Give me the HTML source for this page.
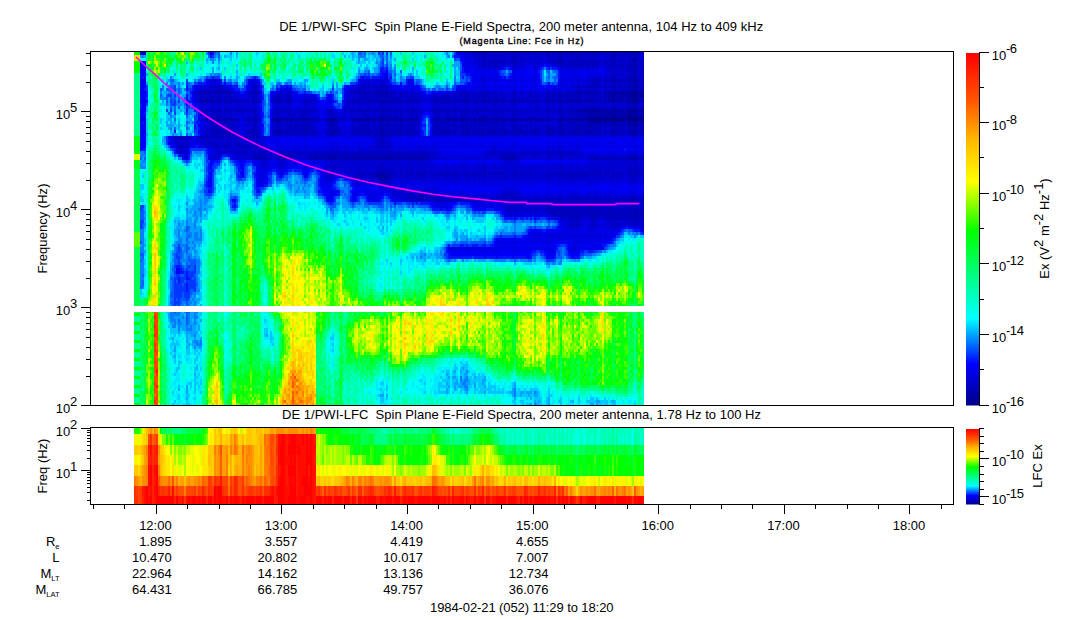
<!DOCTYPE html>
<html lang="en"><head><meta charset="utf-8"><title>DE 1/PWI Spectra</title><style>html,body{margin:0;padding:0;background:#fff}body{width:1083px;height:620px;overflow:hidden;font-family:"Liberation Sans",sans-serif}svg{display:block}</style></head><body><svg width="1083" height="620" viewBox="0 0 1083 620"><defs><linearGradient id="cb" x1="0" y1="1" x2="0" y2="0"><stop offset="0.0000" stop-color="#000089"/><stop offset="0.1176" stop-color="#0000ff"/><stop offset="0.2471" stop-color="#00ffff"/><stop offset="0.4941" stop-color="#00ff00"/><stop offset="0.6353" stop-color="#ffff00"/><stop offset="0.7529" stop-color="#ffb900"/><stop offset="0.8667" stop-color="#ff5400"/><stop offset="1.0000" stop-color="#ff0000"/></linearGradient></defs><rect width="1083" height="620" fill="#fff"/><g fill="none" stroke-width="2" shape-rendering="crispEdges"><path stroke="#000089" d="M591 118v3M593 118v3M595 118v3M597 118v3M599 118v3M601 118v3M605 118v3M607 118v3M609 118v3M611 118v3M613 118v3M615 118v3M617 118v3M619 118v3M621 118v3M623 118v3M629 115v6M631 118v3M633 118v3M635 100v3M635 109v3M635 118v3M637 118v3M639 118v3M641 118v3M643 118v3"/>
<path stroke="#00009b" d="M277 118v3M279 118v3M291 118v3M305 118v3M331 118v3M333 118v3M335 118v3M361 118v3M367 118v3M369 118v3M381 118v3M381 175v3M383 118v3M383 175v3M387 118v3M395 118v3M401 118v3M447 118v3M449 118v3M455 118v3M461 118v3M463 118v3M475 118v3M479 118v3M483 118v3M485 118v3M515 118v3M539 118v3M561 118v3M573 118v3M577 118v3M579 118v3M583 118v3M587 109v3M587 118v3M589 118v3M591 109v3M593 109v3M597 109v3M597 115v3M599 109v3M603 118v3M607 109v3M611 91v3M613 91v12M613 109v9M615 94v3M615 109v3M615 115v3M621 91v3M623 91v3M625 118v3M627 118v3M629 91v6M629 100v3M629 109v6M629 121v3M631 91v6M631 100v3M631 109v3M631 115v3M633 91v12M633 109v3M633 115v3M635 58v3M635 79v3M635 85v3M635 91v9M635 112v6M635 121v6M635 130v3M637 91v6M637 100v3M637 109v3M637 115v3M637 121v3M641 94v3M643 91v6M643 109v3M643 115v3"/>
<path stroke="#0000ad" d="M201 91v3M203 100v3M205 91v3M205 97v6M207 100v3M207 118v3M211 100v3M211 118v3M213 91v3M213 100v3M213 118v3M213 130v3M215 118v3M217 91v3M217 118v3M217 130v3M219 91v6M219 100v3M219 109v3M219 118v3M219 130v3M221 100v3M221 118v3M223 118v3M225 91v3M225 100v3M225 118v3M225 130v3M227 118v3M229 91v3M229 118v3M231 100v3M231 118v3M231 130v3M233 118v3M237 118v3M249 118v3M253 100v3M253 118v3M253 130v3M255 91v3M255 118v3M257 91v3M257 100v3M257 118v3M257 130v3M257 157v3M261 157v3M263 157v3M265 157v3M273 118v3M275 118v3M275 130v3M277 100v3M277 109v3M277 130v6M279 100v3M279 130v3M281 100v3M281 118v3M281 130v3M283 118v3M283 157v3M285 118v3M287 100v3M287 118v3M287 130v3M287 157v3M289 100v3M289 118v3M289 130v3M289 157v3M291 157v3M293 118v3M295 118v3M297 118v3M299 118v3M301 118v3M303 118v3M305 100v3M305 130v3M307 118v3M307 130v3M309 118v3M311 118v3M313 118v3M315 118v3M315 157v3M317 157v3M319 157v3M323 157v3M327 118v3M327 157v3M329 118v3M329 157v3M331 121v3M331 130v6M331 157v3M333 124v3M333 130v6M333 151v3M333 157v3M335 130v3M335 157v3M337 118v3M337 130v3M337 157v3M339 118v3M339 157v3M345 157v3M349 157v3M351 118v3M351 157v3M353 100v3M353 118v3M353 157v3M355 91v3M355 100v3M355 118v3M355 157v3M357 118v3M357 157v3M359 91v3M359 100v3M359 109v3M359 118v3M359 130v3M359 157v3M361 157v3M363 118v3M363 130v3M363 157v3M365 91v3M365 118v3M365 157v3M367 109v3M367 157v3M369 91v3M369 100v3M369 109v3M369 133v3M369 157v3M371 100v3M371 118v3M371 130v3M371 157v3M373 118v3M373 157v3M375 100v3M375 118v3M375 157v3M377 94v3M377 100v3M377 109v3M377 118v3M377 130v3M377 157v3M377 172v6M379 91v3M379 118v3M379 157v3M379 172v6M381 91v3M381 100v3M381 115v3M381 124v12M381 157v3M381 172v3M381 178v3M383 91v3M383 100v3M383 109v3M383 130v6M383 157v3M383 172v3M383 178v3M385 91v3M385 100v3M385 118v3M385 157v3M385 172v9M387 91v6M387 100v3M387 109v3M387 121v6M387 130v3M387 157v3M387 172v9M389 118v3M389 157v3M389 175v3M391 100v3M391 118v3M391 130v3M391 151v3M391 157v3M391 175v3M393 118v3M393 157v3M395 157v3M397 118v3M397 157v3M399 118v3M399 157v3M401 94v3M401 100v3M401 124v3M401 130v3M401 157v3M403 118v3M403 157v3M405 118v3M407 100v3M407 118v3M407 157v3M409 100v3M409 118v3M409 157v3M411 100v3M411 118v3M411 133v3M411 157v3M413 100v3M413 109v3M413 118v3M413 157v3M415 118v3M415 157v3M417 100v3M417 118v3M417 157v3M419 100v3M419 157v3M421 157v3M423 157v3M425 157v3M435 100v3M435 118v3M437 100v3M437 109v3M437 118v3M439 109v3M439 115v6M441 118v3M441 130v3M443 118v3M443 130v3M445 118v3M447 100v3M447 130v3M449 100v3M449 130v3M451 118v3M453 118v3M455 100v3M455 109v3M455 130v3M457 118v3M461 100v3M463 130v3M465 100v3M465 118v3M467 94v3M467 100v3M467 118v3M467 124v12M469 100v3M469 118v3M471 118v3M471 130v3M473 118v3M475 52v3M475 100v3M475 109v3M477 100v3M479 52v3M479 130v3M481 118v3M481 130v3M483 52v3M483 100v3M483 130v6M485 52v3M485 97v6M485 109v3M487 118v3M489 100v3M489 118v3M489 130v3M491 118v3M493 100v3M493 118v3M493 130v3M495 100v3M495 118v3M495 130v3M497 100v3M497 118v3M499 100v3M499 118v3M501 118v3M503 100v3M503 118v3M503 130v3M505 118v3M505 130v3M505 157v3M507 118v3M507 157v3M509 118v3M509 157v3M511 100v3M511 118v3M511 157v3M513 100v3M513 118v3M513 157v3M515 52v3M515 61v3M515 94v3M515 100v3M515 130v3M515 157v3M517 118v3M519 118v3M521 118v3M521 130v3M523 100v3M523 118v3M525 118v3M527 118v3M529 118v3M531 118v3M533 118v3M535 52v3M535 100v3M535 118v3M535 130v3M537 100v3M537 118v3M541 118v3M543 118v3M545 118v3M547 52v3M547 100v3M547 118v3M547 130v3M549 52v3M549 100v3M549 109v3M549 118v3M549 127v9M553 100v3M553 130v3M555 100v3M559 52v3M559 61v3M559 100v3M559 109v3M559 118v3M559 130v3M561 52v3M561 58v6M561 94v9M561 109v3M561 115v3M561 121v6M561 130v6M561 214v3M563 118v3M563 130v3M565 100v3M565 118v3M567 100v3M567 118v3M569 100v3M569 118v3M569 130v3M571 52v3M571 100v3M571 118v3M571 214v3M573 52v3M573 97v6M573 130v3M573 214v3M575 100v3M575 118v3M577 91v3M577 100v3M577 109v3M577 130v3M577 214v3M579 52v3M579 85v3M579 91v12M579 109v3M579 124v12M581 91v3M581 100v3M581 109v3M581 118v3M583 109v3M585 91v3M585 100v3M585 109v6M585 118v3M587 52v3M587 91v3M587 100v3M587 115v3M587 130v3M589 52v3M589 85v3M589 91v3M589 109v9M589 121v3M589 130v3M591 91v3M591 97v6M591 112v6M591 121v6M591 130v3M593 52v3M593 79v3M593 91v3M593 100v3M593 112v6M593 121v3M593 130v3M593 214v3M595 100v3M595 109v9M595 121v3M595 157v3M597 52v3M597 91v3M597 112v3M597 121v6M597 214v3M599 112v6M599 121v3M599 130v3M601 100v3M601 109v9M601 121v3M603 109v3M603 115v3M605 52v3M605 79v3M605 91v6M605 100v3M605 109v9M605 121v6M605 130v3M605 157v3M607 91v3M607 112v6M609 91v12M609 109v9M611 94v3M611 100v3M611 109v9M611 121v3M611 130v3M613 52v3M613 61v3M613 79v3M613 85v3M613 121v6M613 130v6M613 214v3M615 52v3M615 79v3M615 85v3M615 91v3M615 97v6M615 112v3M615 121v6M617 91v6M617 100v3M617 109v3M617 115v3M617 121v3M617 130v3M619 52v3M619 91v12M619 109v9M619 121v3M621 79v3M621 94v9M621 109v9M623 94v9M623 109v9M623 124v3M625 91v6M625 109v9M625 121v3M627 79v3M627 91v12M627 109v9M629 52v3M629 58v3M629 64v3M629 76v6M629 85v3M629 97v3M629 106v3M629 124v9M629 157v3M629 214v3M631 52v3M631 79v3M631 97v3M631 112v3M631 121v6M631 130v3M631 157v3M633 52v3M633 58v3M633 64v3M633 79v3M633 85v3M633 112v3M633 121v6M633 130v6M633 157v3M633 199v3M633 214v3M635 52v3M635 61v18M635 82v3M635 88v3M635 106v3M635 127v3M635 133v3M635 157v3M635 199v3M635 208v9M637 52v3M637 79v3M637 85v3M637 97v3M637 112v3M637 124v3M637 130v3M637 157v3M637 214v3M639 91v12M639 109v3M641 91v3M641 100v3M641 109v3M641 115v3M643 85v3M643 97v6M643 112v3M643 121v12M643 157v3M643 214v3"/>
<path stroke="#0000c0" d="M143 52v3M145 52v3M175 136v3M177 136v3M179 136v3M179 142v6M179 151v3M181 136v3M181 145v3M181 151v3M183 136v3M183 142v6M183 151v3M185 136v3M185 145v3M185 151v3M187 136v3M187 142v6M197 91v3M197 100v3M199 91v3M199 100v3M201 94v9M201 109v3M201 136v3M203 91v3M203 97v3M203 109v3M203 136v3M205 94v3M205 109v3M205 118v3M205 136v3M205 142v3M207 91v9M207 109v3M207 130v9M207 142v3M209 91v3M209 97v6M209 109v3M209 118v3M209 136v3M209 142v3M211 85v3M211 91v9M211 109v3M211 121v18M213 94v6M213 109v3M213 115v3M213 124v6M213 133v6M213 142v3M215 85v3M215 91v6M215 100v3M215 109v6M215 121v18M215 142v6M217 85v3M217 97v6M217 109v3M217 115v3M217 124v6M217 133v6M217 142v6M217 151v3M219 85v6M219 97v3M219 112v6M219 121v9M219 133v6M219 145v3M219 151v3M221 85v15M221 109v3M221 115v3M221 124v15M221 142v3M221 151v3M223 91v3M223 130v9M223 145v3M225 94v6M225 109v3M225 115v3M225 121v9M225 133v6M225 145v3M225 151v3M227 91v12M227 109v3M227 121v3M227 130v6M227 142v6M227 151v3M229 94v9M229 109v3M229 121v3M229 130v9M229 145v3M231 91v9M231 109v9M231 121v9M231 133v6M231 142v6M231 151v3M233 100v3M233 124v3M233 130v3M235 100v3M235 109v3M235 118v3M235 136v3M235 151v3M237 97v6M237 109v3M237 130v3M237 136v3M237 142v6M237 151v3M239 100v3M239 109v3M239 118v3M239 136v3M239 142v6M239 151v3M241 100v3M241 109v3M241 136v3M241 145v3M241 151v3M243 100v3M243 109v3M243 136v3M243 145v3M243 151v3M245 100v3M245 109v3M245 118v3M245 136v3M245 145v3M245 151v3M247 100v3M247 109v3M247 118v3M247 130v9M247 145v3M247 151v3M249 91v3M249 100v3M249 109v3M249 121v3M249 130v3M249 136v3M249 145v3M249 151v3M251 91v3M251 118v3M251 130v3M251 136v3M253 85v3M253 91v9M253 109v6M253 124v6M253 133v6M253 142v6M253 151v3M253 157v3M255 85v3M255 97v6M255 109v9M255 121v18M255 142v6M255 151v9M257 85v3M257 94v6M257 109v3M257 115v3M257 121v6M257 133v6M257 142v6M257 151v6M259 100v3M259 118v3M259 136v3M259 145v3M259 151v9M261 151v6M263 151v6M265 151v6M267 151v9M271 157v3M273 100v3M273 121v3M273 130v3M275 100v3M277 94v6M277 106v3M277 112v6M277 121v9M277 157v3M279 94v6M279 109v6M279 121v9M279 133v3M279 151v3M279 157v3M281 91v9M281 109v3M281 124v6M281 133v3M281 151v9M283 100v3M283 109v3M283 121v3M283 130v3M283 151v6M285 100v3M285 109v3M285 130v6M285 151v9M287 94v6M287 109v3M287 115v3M287 121v9M287 133v3M287 151v6M289 91v9M289 109v9M289 124v6M289 133v3M289 151v6M291 94v9M291 109v3M291 115v3M291 121v15M291 151v6M293 130v6M293 151v3M293 157v3M295 112v3M295 121v15M295 151v6M297 109v3M297 121v15M297 151v3M299 124v3M299 130v6M299 151v3M301 109v3M301 115v3M301 124v12M301 151v3M303 100v3M303 109v9M303 121v15M303 151v3M305 109v9M305 121v9M305 133v3M305 151v3M307 100v3M307 109v6M307 121v9M307 133v3M307 151v3M307 157v3M309 100v3M309 109v3M309 121v15M309 151v9M311 100v3M311 109v3M311 124v9M311 151v9M313 100v3M313 109v3M313 127v9M313 151v9M315 100v3M315 109v3M315 130v6M315 151v6M317 118v3M317 130v3M317 151v6M319 118v3M319 151v6M321 151v9M323 151v6M325 118v3M325 151v9M327 109v3M327 130v6M327 151v6M329 109v6M329 121v15M329 151v6M329 172v3M331 109v3M331 115v3M331 124v6M331 151v6M331 172v3M333 109v9M333 121v3M333 127v3M333 154v3M333 163v12M335 115v3M335 121v9M335 133v3M335 151v6M337 121v9M337 133v3M337 151v6M337 166v3M339 127v9M339 151v6M341 118v3M341 151v9M343 118v3M343 151v9M345 109v3M345 118v3M345 151v6M347 100v3M347 109v3M347 151v9M349 100v3M349 151v6M351 91v3M351 100v3M351 109v3M351 151v6M353 91v3M353 97v3M353 109v6M353 121v15M353 151v6M355 109v3M355 127v9M355 151v6M357 91v3M357 100v3M357 109v3M357 130v6M357 151v6M357 172v6M359 85v6M359 94v6M359 115v3M359 121v9M359 133v3M359 151v6M359 169v9M361 85v3M361 91v12M361 109v3M361 121v15M361 151v6M361 172v6M363 85v3M363 91v12M363 109v3M363 124v6M363 133v3M363 151v6M363 172v3M365 85v6M365 94v9M365 109v9M365 121v15M365 151v6M365 172v6M367 91v12M367 115v3M367 121v15M367 151v6M367 169v3M369 85v6M369 94v6M369 115v3M369 121v12M369 151v6M369 172v3M371 91v3M371 97v3M371 109v3M371 133v3M371 151v6M371 172v6M373 85v3M373 91v12M373 109v3M373 115v3M373 121v6M373 130v3M373 151v6M373 172v6M375 85v3M375 91v6M375 109v6M375 121v3M375 127v9M375 151v6M375 172v6M377 85v9M377 97v3M377 115v3M377 127v3M377 133v6M377 145v3M377 151v6M377 166v6M377 178v3M379 85v3M379 94v9M379 109v3M379 115v3M379 124v15M379 145v3M379 151v6M379 169v3M379 178v3M381 79v3M381 85v6M381 94v6M381 103v12M381 121v3M381 136v12M381 151v6M381 163v9M381 181v3M383 85v6M383 94v6M383 103v3M383 112v6M383 121v9M383 136v12M383 151v6M383 163v9M383 181v3M385 85v3M385 94v6M385 109v3M385 115v3M385 124v15M385 145v3M385 151v6M385 169v3M385 181v3M387 85v6M387 97v3M387 106v3M387 112v6M387 127v3M387 133v6M387 142v6M387 151v6M387 169v3M387 181v3M389 91v12M389 109v3M389 115v3M389 121v15M389 151v6M389 169v6M389 178v3M391 91v9M391 106v12M391 121v9M391 133v3M391 154v3M391 169v6M391 178v3M393 91v3M393 97v6M393 109v3M393 115v3M393 124v3M393 130v6M393 151v6M393 169v9M395 91v12M395 106v12M395 121v15M395 151v6M395 163v3M395 172v6M397 97v6M397 109v3M397 115v3M397 121v3M397 127v9M397 151v6M397 172v3M399 97v6M399 109v3M399 124v12M399 151v6M401 91v3M401 97v3M401 106v12M401 121v3M401 127v3M401 133v3M401 151v6M401 169v9M401 190v3M403 91v3M403 100v3M403 109v3M403 124v12M403 151v6M403 172v3M405 100v3M405 130v3M405 151v9M407 94v3M407 109v3M407 121v3M407 127v9M407 151v6M407 169v9M409 94v6M409 109v3M409 121v15M409 151v6M409 166v3M409 172v3M409 193v6M411 94v6M411 109v9M411 124v9M411 151v6M411 166v9M411 193v9M413 91v9M413 112v6M413 121v15M413 151v6M413 172v6M413 193v9M415 94v9M415 109v3M415 121v6M415 130v6M415 151v6M415 196v3M417 97v3M417 109v9M417 121v6M417 130v3M417 151v6M417 163v3M417 172v6M417 193v9M419 109v3M419 118v3M419 151v6M419 172v6M419 193v9M421 100v3M421 109v3M421 151v6M421 169v6M421 193v9M423 151v6M423 169v9M423 190v12M425 151v6M425 169v9M425 190v12M427 151v9M427 193v6M429 151v9M429 172v3M429 193v9M431 151v3M431 157v3M431 172v3M431 193v6M433 100v3M433 109v3M433 118v3M433 130v3M433 151v3M433 157v3M433 193v9M435 97v3M435 109v9M435 121v15M435 151v3M435 172v3M435 193v9M437 97v3M437 112v3M437 121v15M437 151v3M437 172v3M437 193v9M439 97v6M439 124v12M439 172v6M439 196v6M441 97v6M441 109v3M441 121v9M441 133v3M441 172v3M441 196v6M443 94v9M443 109v3M443 121v9M443 133v3M443 172v3M443 199v3M445 94v9M445 109v3M445 121v15M445 172v3M445 199v3M447 94v6M447 109v9M447 121v9M447 133v3M447 169v9M447 199v3M449 94v6M449 109v9M449 121v9M449 133v3M449 172v6M449 196v6M451 100v3M451 109v3M451 130v3M451 172v3M451 199v3M453 94v3M453 100v3M453 109v3M453 115v3M453 121v6M453 130v6M453 172v6M453 199v3M455 94v6M455 106v3M455 112v6M455 121v9M455 133v3M455 169v9M455 199v3M457 91v3M457 97v6M457 109v3M457 115v3M457 124v9M457 172v6M457 199v3M459 100v3M459 118v3M461 91v9M461 109v9M461 121v15M461 172v3M461 199v3M463 91v12M463 109v9M463 121v9M463 133v3M463 172v3M463 196v6M465 91v9M465 109v9M465 121v15M465 172v6M465 196v6M467 52v3M467 91v3M467 97v3M467 106v12M467 121v3M467 169v9M467 196v6M469 91v9M469 109v3M469 115v3M469 124v12M469 175v3M469 199v3M471 97v6M471 109v3M471 121v6M471 133v3M471 172v3M471 196v6M473 52v3M473 94v3M473 100v3M473 109v9M473 124v12M473 172v3M473 199v3M475 94v6M475 121v15M475 169v9M475 196v6M477 52v3M477 91v3M477 97v3M477 109v6M477 118v6M477 127v9M477 172v3M477 199v3M479 58v3M479 94v9M479 109v3M479 121v6M479 133v3M479 172v6M479 199v3M481 52v3M481 91v12M481 109v3M481 115v3M481 121v6M481 133v3M481 169v6M481 199v3M483 58v9M483 91v9M483 109v3M483 115v3M483 121v9M483 172v6M483 199v3M485 55v12M485 91v6M485 115v3M485 121v15M485 166v12M485 196v6M487 52v3M487 61v3M487 91v12M487 109v3M487 115v3M487 124v12M487 199v3M489 52v3M489 61v6M489 91v3M489 97v3M489 109v3M489 121v9M489 133v3M489 151v3M489 172v3M489 199v3M491 52v3M491 58v6M491 91v12M491 109v6M491 121v3M491 127v9M491 151v3M491 172v3M491 199v3M493 52v3M493 58v6M493 109v3M493 115v3M493 121v9M493 133v3M493 151v3M493 172v6M493 199v3M495 52v3M495 58v9M495 91v9M495 109v3M495 115v3M495 121v3M495 127v3M495 133v3M495 151v3M495 172v3M495 199v3M497 52v3M497 58v9M497 91v9M497 109v9M497 121v15M497 151v3M497 172v3M497 196v6M499 52v3M499 58v3M499 109v3M499 121v3M499 130v6M499 151v3M499 172v6M499 199v3M501 52v3M501 61v3M501 94v9M501 109v3M501 124v12M501 151v3M501 157v3M501 172v3M501 199v3M503 52v3M503 58v6M503 97v3M503 109v3M503 115v3M503 121v9M503 133v3M503 151v9M503 172v3M503 193v9M505 52v3M505 61v3M505 94v9M505 109v3M505 115v3M505 121v9M505 133v3M505 151v6M505 172v6M505 193v9M507 52v3M507 100v3M507 109v3M507 130v6M507 151v6M507 193v9M509 52v3M509 100v3M509 109v3M509 130v3M509 151v6M509 193v9M509 208v3M511 52v3M511 58v3M511 124v3M511 130v6M511 151v6M511 193v9M511 205v3M513 52v12M513 91v3M513 97v3M513 109v9M513 121v15M513 151v6M513 172v6M513 193v9M513 205v3M515 55v6M515 64v3M515 91v3M515 97v3M515 103v3M515 109v9M515 121v9M515 133v3M515 151v6M515 169v9M515 193v9M515 205v6M517 52v3M517 58v3M517 100v3M517 109v3M517 124v12M517 151v3M517 157v3M517 172v3M517 196v6M519 52v3M519 97v6M519 109v3M519 127v9M519 157v3M519 196v6M521 52v3M521 58v3M521 91v12M521 109v3M521 124v6M521 151v3M521 172v6M521 199v3M521 205v3M523 52v3M523 58v3M523 97v3M523 109v3M523 124v3M523 130v6M523 151v3M523 172v6M523 199v3M525 52v3M525 100v3M525 109v3M525 130v3M525 151v3M525 199v3M527 52v3M527 97v6M527 109v3M527 124v12M527 151v3M527 172v3M527 199v3M529 52v3M529 94v3M529 100v3M529 130v3M529 151v3M529 199v3M531 52v3M531 91v12M531 109v3M531 115v3M531 121v15M531 151v3M531 172v6M531 199v3M531 208v3M533 52v3M533 100v3M533 130v3M533 151v3M535 58v3M535 91v9M535 109v3M535 115v3M535 121v9M535 133v3M535 151v6M535 169v6M535 196v6M535 208v3M537 52v3M537 94v6M537 109v3M537 127v9M537 151v3M537 196v6M539 52v3M539 100v3M539 109v3M539 130v6M539 151v3M539 199v3M541 52v3M541 100v3M541 130v3M541 151v3M541 199v3M543 52v3M543 199v3M545 100v3M545 130v3M545 151v3M545 199v3M547 91v9M547 106v6M547 124v6M547 133v3M547 151v3M547 172v6M547 196v6M547 205v6M549 55v9M549 91v9M549 112v6M549 124v3M549 151v9M549 172v6M549 196v6M549 205v9M551 52v3M551 94v9M551 109v3M551 118v3M551 127v9M551 151v3M551 172v3M551 199v3M551 208v9M553 52v12M553 91v9M553 109v3M553 118v3M553 127v3M553 133v3M553 151v3M553 172v6M553 199v3M553 208v9M555 52v3M555 58v6M555 91v9M555 109v3M555 118v3M555 127v9M555 151v3M555 172v3M555 196v6M555 205v12M557 52v3M557 61v3M557 94v3M557 100v3M557 109v3M557 118v3M557 130v3M557 151v3M557 172v3M557 199v3M557 208v9M559 55v6M559 91v9M559 112v3M559 121v9M559 133v3M559 151v3M559 172v6M559 196v6M559 205v12M561 55v3M561 64v3M561 91v3M561 103v6M561 112v3M561 127v3M561 151v9M561 166v12M561 196v6M561 205v9M563 52v3M563 61v6M563 91v12M563 109v3M563 115v3M563 124v6M563 133v3M563 151v3M563 169v9M563 199v3M563 205v12M565 52v3M565 61v3M565 94v3M565 109v6M565 124v3M565 130v6M565 151v3M565 172v6M565 199v3M565 208v9M567 52v9M567 64v3M567 91v9M567 109v3M567 121v15M567 151v3M567 172v6M567 199v3M567 208v9M569 52v3M569 58v9M569 91v9M569 109v6M569 121v6M569 133v3M569 151v3M569 172v6M569 199v3M569 208v12M571 61v3M571 91v9M571 106v12M571 121v15M571 151v3M571 169v9M571 196v6M571 205v9M571 217v3M571 223v3M573 55v12M573 91v6M573 106v12M573 121v9M573 133v3M573 151v3M573 172v9M573 196v6M573 205v9M573 217v9M575 52v3M575 58v9M575 85v3M575 91v9M575 109v9M575 121v15M575 151v3M575 172v6M575 196v6M575 208v12M575 223v3M577 52v15M577 85v3M577 94v6M577 112v6M577 121v9M577 133v3M577 151v3M577 172v6M577 196v6M577 205v9M577 217v9M579 55v12M579 88v3M579 106v3M579 112v6M579 121v3M579 151v3M579 169v9M579 196v6M579 205v15M579 223v3M581 52v3M581 58v9M581 94v6M581 112v6M581 121v15M581 172v6M581 196v6M581 208v12M583 52v3M583 58v9M583 85v3M583 91v3M583 97v6M583 112v6M583 121v15M583 172v6M583 199v3M583 211v6M585 52v3M585 61v6M585 85v3M585 94v3M585 115v3M585 124v12M585 172v6M585 199v3M585 208v9M587 58v9M587 85v3M587 94v6M587 106v3M587 112v3M587 121v9M587 133v3M587 172v6M587 196v6M587 205v12M589 58v9M589 79v3M589 88v3M589 94v9M589 106v3M589 124v6M589 133v3M589 157v3M589 172v3M589 196v6M589 205v12M591 52v3M591 58v9M591 85v3M591 94v3M591 106v3M591 127v3M591 133v3M591 157v3M591 169v6M591 199v3M591 205v15M593 55v12M593 82v6M593 94v6M593 106v3M593 124v6M593 133v3M593 157v3M593 169v9M593 199v3M593 205v9M593 217v9M595 52v3M595 58v9M595 79v21M595 106v3M595 124v12M595 172v3M595 196v6M595 205v15M595 223v3M597 58v9M597 79v9M597 94v9M597 106v3M597 127v9M597 157v3M597 169v9M597 196v6M597 208v6M597 217v3M599 52v3M599 61v3M599 79v3M599 85v3M599 91v3M599 97v6M599 106v3M599 124v6M599 133v3M599 157v3M599 169v6M599 199v3M599 208v9M601 52v3M601 79v3M601 85v3M601 91v9M601 124v3M601 130v6M601 157v3M601 169v9M601 199v3M601 205v12M603 52v3M603 100v3M603 112v3M603 121v3M603 157v3M603 199v3M603 211v6M605 58v6M605 82v9M605 97v3M605 106v3M605 127v3M605 133v3M605 169v6M605 196v6M605 205v15M607 52v3M607 61v3M607 79v3M607 94v9M607 121v6M607 130v3M607 157v3M607 172v3M607 199v3M607 208v12M609 52v3M609 58v3M609 64v6M609 79v3M609 85v3M609 121v6M609 130v3M609 157v3M609 169v6M609 199v3M609 205v15M611 52v3M611 58v12M611 73v9M611 85v3M611 97v3M611 124v3M611 133v3M611 157v3M611 175v3M611 196v6M611 208v12M611 223v3M613 55v6M613 64v6M613 73v6M613 82v3M613 106v3M613 127v3M613 157v3M613 163v3M613 169v9M613 196v6M613 205v9M613 217v9M615 55v15M615 73v6M615 82v3M615 88v3M615 106v3M615 127v9M615 157v3M615 172v6M615 199v3M615 208v12M615 223v3M617 52v3M617 67v3M617 79v3M617 97v3M617 112v3M617 124v6M617 133v3M617 157v3M617 172v3M617 199v3M617 211v9M617 223v3M619 58v3M619 64v3M619 73v3M619 79v9M619 106v3M619 124v12M619 157v3M619 172v6M619 199v3M619 208v12M619 223v3M621 52v3M621 58v12M621 85v3M621 121v6M621 130v6M621 157v3M621 172v3M621 199v3M621 208v12M621 223v3M623 52v3M623 58v3M623 64v6M623 73v3M623 79v3M623 85v6M623 121v3M623 127v9M623 157v3M623 172v6M623 196v6M623 208v12M625 52v3M625 61v3M625 79v3M625 85v3M625 97v6M625 124v3M625 130v3M625 157v3M625 199v3M625 211v9M627 52v3M627 64v6M627 88v3M627 106v3M627 121v6M627 130v3M627 157v3M627 172v3M627 196v6M627 208v12M629 55v3M629 61v3M629 67v9M629 82v3M629 88v3M629 103v3M629 133v3M629 163v15M629 196v6M629 205v9M629 217v9M631 58v21M631 82v9M631 106v3M631 127v3M631 133v3M631 166v12M631 196v6M631 205v15M631 223v3M633 61v3M633 67v12M633 82v3M633 88v3M633 103v6M633 127v3M633 169v9M633 196v3M633 205v9M633 217v9M635 55v3M635 103v3M635 154v3M635 160v21M635 196v3M635 202v6M635 217v9M637 55v15M637 73v6M637 82v3M637 88v3M637 103v6M637 127v3M637 133v3M637 163v15M637 199v3M637 205v9M637 217v9M639 52v3M639 58v3M639 79v3M639 85v3M639 112v6M639 121v6M639 130v3M639 157v3M639 172v3M639 199v3M639 208v12M641 52v3M641 61v6M641 73v3M641 79v3M641 88v3M641 97v3M641 112v3M641 121v15M641 157v3M641 172v3M641 199v3M641 208v12M641 223v3M643 52v9M643 64v21M643 88v3M643 106v3M643 133v3M643 172v6M643 196v6M643 205v9M643 217v3M643 223v3"/>
<path stroke="#0000d2" d="M141 52v3M141 100v3M141 118v3M143 118v3M145 118v3M173 136v3M175 139v6M177 139v9M179 139v3M179 148v3M181 139v6M181 148v3M183 139v3M183 148v3M185 139v6M185 148v3M187 139v3M187 151v9M189 136v12M191 136v3M195 91v12M197 94v6M197 136v3M199 88v3M199 94v6M199 136v3M199 142v3M201 85v6M201 103v6M201 112v3M201 118v3M201 139v6M203 88v3M203 94v3M203 106v3M203 112v3M203 118v3M203 139v6M205 85v6M205 103v6M205 112v6M205 124v12M205 139v3M207 85v6M207 103v6M207 112v6M207 121v9M207 139v3M207 145v3M209 85v6M209 94v3M209 112v6M209 121v15M209 139v3M209 145v3M211 79v3M211 88v3M211 103v6M211 112v6M211 139v9M211 157v3M213 79v3M213 85v6M213 103v6M213 112v3M213 121v3M213 139v3M213 145v3M213 151v3M213 157v3M215 79v3M215 88v3M215 97v3M215 103v6M215 115v3M215 139v3M215 151v9M217 79v3M217 88v3M217 94v3M217 103v6M217 112v3M217 121v3M217 139v3M217 148v3M217 154v6M219 103v6M219 139v6M219 148v3M219 154v6M221 103v6M221 112v3M221 121v3M221 139v3M221 145v6M223 85v6M223 94v12M223 109v9M223 121v9M223 139v6M223 151v3M225 85v6M225 103v6M225 112v3M225 139v6M225 148v3M227 88v3M227 103v6M227 112v6M227 124v6M227 136v6M227 148v3M229 88v3M229 103v6M229 112v6M229 124v6M229 139v6M229 148v6M231 103v6M231 139v3M231 148v3M233 91v9M233 106v9M233 121v3M233 127v3M233 133v21M235 91v9M235 106v3M235 112v3M235 121v15M235 139v12M235 154v6M237 94v3M237 103v6M237 112v6M237 121v9M237 133v3M237 139v3M237 148v3M237 154v6M239 97v3M239 103v6M239 112v3M239 121v15M239 139v3M239 148v3M239 154v6M241 97v3M241 103v6M241 112v3M241 118v3M241 139v6M241 148v3M241 154v6M243 106v3M243 112v12M243 130v3M243 139v6M243 148v3M243 154v6M245 97v3M245 106v3M245 124v3M245 130v6M245 139v6M245 148v3M245 154v6M247 94v6M247 103v6M247 112v6M247 121v9M247 139v6M247 148v3M247 154v6M249 94v6M249 103v6M249 112v6M249 124v6M249 133v3M249 139v6M249 148v3M249 154v6M251 85v3M251 94v9M251 106v6M251 115v3M251 121v9M251 133v3M251 139v21M253 79v6M253 88v3M253 103v6M253 115v3M253 121v3M253 139v3M253 148v3M253 154v3M255 88v3M255 94v3M255 103v6M255 139v3M255 148v3M257 88v3M257 106v3M257 112v3M257 127v3M257 139v3M257 148v3M259 85v3M259 91v9M259 115v3M259 124v12M259 139v6M259 148v3M261 100v3M261 118v3M261 136v15M261 160v6M263 136v3M263 142v9M263 160v9M265 145v6M265 160v12M267 163v6M269 151v9M271 151v6M273 94v6M273 109v9M273 124v6M273 133v3M273 151v9M275 94v6M275 103v3M275 109v9M275 121v9M275 133v3M275 157v3M277 91v3M277 103v3M277 151v6M279 91v3M279 103v6M279 115v3M279 154v3M279 160v6M281 106v3M281 112v6M281 121v3M281 148v3M281 160v9M283 91v9M283 115v3M283 124v6M283 133v3M283 163v6M285 91v9M285 106v3M285 112v6M285 121v9M285 160v3M287 91v3M287 103v6M287 112v3M287 163v3M289 103v6M289 121v3M291 91v3M291 103v6M291 112v3M293 100v3M293 109v9M293 121v9M293 154v3M295 97v6M295 109v3M295 115v3M295 157v3M297 112v6M297 145v3M297 154v6M299 100v3M299 109v9M299 121v3M299 127v3M299 154v6M301 100v3M301 112v3M301 121v3M301 154v6M303 154v6M305 97v3M305 103v6M305 145v3M305 154v6M307 97v3M307 103v6M307 115v3M307 145v3M307 154v3M309 97v3M309 103v6M309 112v6M311 97v3M311 106v3M311 112v6M311 121v3M311 133v3M313 97v3M313 106v3M313 112v6M313 121v6M315 97v3M315 103v6M315 112v6M315 121v9M317 100v3M317 109v3M317 115v3M317 127v3M317 133v3M319 109v3M319 115v3M319 121v3M319 130v6M321 118v3M323 118v3M323 130v3M325 109v3M325 121v3M325 127v6M327 112v6M327 121v9M327 160v21M329 115v3M329 160v12M329 175v6M331 112v3M331 145v3M331 160v12M331 175v6M333 145v6M333 160v3M333 175v3M335 112v3M335 160v15M337 112v6M337 145v6M337 160v6M337 169v6M339 115v3M339 121v6M339 145v3M339 160v12M341 130v6M341 160v9M343 109v9M343 124v3M343 130v6M343 160v12M345 100v3M345 106v3M345 112v6M345 127v9M345 145v6M345 160v15M347 97v3M347 103v6M347 112v3M347 118v3M347 130v3M347 148v3M347 160v15M349 91v9M349 103v9M349 115v6M349 130v6M349 160v15M351 94v6M351 106v3M351 112v6M351 124v12M351 160v18M353 85v6M353 94v3M353 103v6M353 115v3M353 160v21M355 88v3M355 94v6M355 112v6M355 121v6M355 160v21M357 88v3M357 94v6M357 103v3M357 112v6M357 121v9M357 160v12M357 178v3M359 103v6M359 112v3M359 145v6M359 160v9M359 178v6M361 88v3M361 103v6M361 112v6M361 148v3M361 160v12M361 178v3M363 79v3M363 88v3M363 103v3M363 112v6M363 121v3M363 160v12M363 175v6M365 79v6M365 103v6M365 148v3M365 160v12M365 178v3M367 82v9M367 103v6M367 112v3M367 160v9M367 172v9M369 79v6M369 103v6M369 112v3M369 145v6M369 160v12M369 175v6M371 85v6M371 94v3M371 106v3M371 112v6M371 121v9M371 145v3M371 160v12M371 178v3M373 79v3M373 88v3M373 103v6M373 112v3M373 127v3M373 133v6M373 145v6M373 160v12M373 178v3M375 82v3M375 88v3M375 97v3M375 103v6M375 115v3M375 124v3M375 136v3M375 142v9M375 160v12M375 178v3M377 79v3M377 106v3M377 112v3M377 121v6M377 139v6M377 148v3M377 160v6M377 181v3M379 88v3M379 103v6M379 112v3M379 121v3M379 139v6M379 148v3M379 160v9M379 181v3M381 82v3M381 148v3M381 160v3M381 184v3M383 79v6M383 106v3M383 148v3M383 160v3M383 184v3M385 79v6M385 88v3M385 103v6M385 112v3M385 121v3M385 139v6M385 148v3M385 160v9M385 184v3M387 79v3M387 103v3M387 139v3M387 148v3M387 160v9M387 184v3M389 103v6M389 112v3M389 136v3M389 142v9M389 160v9M389 181v6M391 85v6M391 103v3M391 136v3M391 142v9M391 160v9M391 181v6M391 190v3M393 94v3M393 103v3M393 112v3M393 121v3M393 127v3M393 145v3M393 160v9M393 178v3M393 190v6M395 103v3M395 160v3M395 166v6M395 178v3M395 190v9M397 91v6M397 103v6M397 112v3M397 124v3M397 160v12M397 175v6M397 190v9M399 91v6M399 103v6M399 112v6M399 121v3M399 145v3M399 160v21M399 190v6M401 103v3M401 160v9M401 178v6M401 193v6M403 94v6M403 103v3M403 112v6M403 121v3M403 160v12M403 175v6M403 190v9M405 91v9M405 109v9M405 121v9M405 133v3M405 163v18M405 190v9M407 91v3M407 97v3M407 103v6M407 112v6M407 124v3M407 145v3M407 160v9M407 178v3M407 190v12M409 91v3M409 103v6M409 112v6M409 160v6M409 169v3M409 175v6M409 190v3M409 199v3M411 91v3M411 106v3M411 121v3M411 160v6M411 175v6M411 190v3M413 103v6M413 160v12M413 178v3M413 190v3M415 91v3M415 106v3M415 112v6M415 127v3M415 160v21M415 190v6M415 199v3M417 91v6M417 103v6M417 127v3M417 133v3M417 145v3M417 160v3M417 166v6M417 178v3M417 190v3M419 91v9M419 112v6M419 121v15M419 148v3M419 160v12M419 178v3M419 190v3M421 91v9M421 112v3M421 118v3M421 145v3M421 160v9M421 175v6M421 190v3M423 97v6M423 109v3M423 160v9M423 178v3M425 97v6M425 109v3M425 145v6M425 160v9M425 178v6M427 100v3M427 160v21M427 190v3M427 199v3M429 97v6M429 109v3M429 145v3M429 163v9M429 175v6M429 190v3M431 97v6M431 109v3M431 154v3M431 163v9M431 175v6M431 190v3M431 199v3M433 94v6M433 103v6M433 112v3M433 121v9M433 133v3M433 145v3M433 154v3M433 163v18M433 190v3M435 94v3M435 103v6M435 145v3M435 154v6M435 166v6M435 175v9M435 190v3M437 94v3M437 103v6M437 115v3M437 154v6M437 166v6M437 175v6M437 190v3M439 94v3M439 103v6M439 112v3M439 121v3M439 151v3M439 157v3M439 166v6M439 178v3M439 193v3M441 94v3M441 103v6M441 112v6M441 151v3M441 157v3M441 166v6M441 175v6M441 193v3M443 103v6M443 112v6M443 157v3M443 166v6M443 175v6M443 196v3M445 103v6M445 112v6M445 157v3M445 166v6M445 175v6M445 193v6M447 103v6M447 151v3M447 157v3M447 163v6M447 178v3M447 193v6M449 103v6M449 151v3M449 157v3M449 166v6M449 178v3M449 193v3M451 94v6M451 106v3M451 112v6M451 121v9M451 133v3M451 166v6M451 175v6M451 196v3M453 97v3M453 103v6M453 112v3M453 127v3M453 157v3M453 166v6M453 178v3M453 196v3M455 91v3M455 103v3M455 157v3M455 163v6M455 178v6M455 193v6M455 247v3M457 94v3M457 106v3M457 112v3M457 121v3M457 133v3M457 157v3M457 166v6M457 178v3M457 196v3M459 91v9M459 106v6M459 115v3M459 121v15M459 166v15M459 196v6M461 52v3M461 103v6M461 157v3M461 163v9M461 175v6M461 193v6M463 52v3M463 103v6M463 157v3M463 163v9M463 175v6M463 193v3M465 52v3M465 103v6M465 157v3M465 166v6M465 178v3M467 58v3M467 103v3M467 157v3M467 163v6M467 178v6M467 193v3M467 247v3M469 52v3M469 106v3M469 112v3M469 121v3M469 157v3M469 166v9M469 178v3M469 196v3M471 52v6M471 91v6M471 112v6M471 127v3M471 157v3M471 166v6M471 175v6M473 55v3M473 91v3M473 97v3M473 103v6M473 121v3M473 157v3M473 166v6M473 175v6M473 196v3M475 55v9M475 85v3M475 91v3M475 103v6M475 112v6M475 157v3M475 166v3M475 178v6M477 55v6M477 94v3M477 103v6M477 115v3M477 124v3M477 157v3M477 163v9M477 175v6M477 196v3M479 55v3M479 61v6M479 91v3M479 103v6M479 112v6M479 127v3M479 157v3M479 163v9M479 178v3M479 196v3M481 55v15M481 79v3M481 103v6M481 112v3M481 127v3M481 157v3M481 163v6M481 175v6M481 196v3M483 55v3M483 67v3M483 79v3M483 85v3M483 106v3M483 112v3M483 151v3M483 157v3M483 163v9M483 178v6M483 193v6M485 67v3M485 79v9M485 103v6M485 112v3M485 151v9M485 163v3M485 178v6M485 193v3M487 55v6M487 64v3M487 103v6M487 112v3M487 121v3M487 151v9M487 166v15M487 196v3M489 55v6M489 67v3M489 94v3M489 106v3M489 112v6M489 154v6M489 166v6M489 175v6M489 196v3M491 55v3M491 64v6M491 103v6M491 115v3M491 124v3M491 154v6M491 166v6M491 175v6M491 196v3M493 55v3M493 64v6M493 91v9M493 103v6M493 112v3M493 145v3M493 154v6M493 166v6M493 178v3M493 196v3M495 55v3M495 67v3M495 79v3M495 103v6M495 112v3M495 124v3M495 145v6M495 154v6M495 163v9M495 175v6M495 196v3M497 55v3M497 67v3M497 79v3M497 103v6M497 154v6M497 163v9M497 175v6M497 193v3M499 55v3M499 61v9M499 91v9M499 106v3M499 112v6M499 124v6M499 154v6M499 166v6M499 178v3M499 196v3M501 55v6M501 64v3M501 91v3M501 103v6M501 112v6M501 121v3M501 154v3M501 163v9M501 175v6M501 193v6M503 55v3M503 64v3M503 91v6M503 103v6M503 112v3M503 163v9M503 175v6M503 190v3M503 202v6M505 55v6M505 64v3M505 91v3M505 103v6M505 112v3M505 160v12M505 178v3M505 190v3M505 202v9M507 55v9M507 91v9M507 106v3M507 112v6M507 121v9M507 160v21M507 190v3M507 202v12M509 58v9M509 91v9M509 106v3M509 112v6M509 121v9M509 133v3M509 160v21M509 190v3M509 205v3M509 211v3M511 55v3M511 61v6M511 91v9M511 103v15M511 121v3M511 127v3M511 145v3M511 160v21M511 190v3M511 202v3M511 208v9M513 64v3M513 94v3M513 103v6M513 145v3M513 160v12M513 178v3M513 184v3M513 190v3M513 202v3M513 208v6M515 67v6M515 79v3M515 85v3M515 106v3M515 145v3M515 160v9M515 178v3M515 190v3M515 202v3M515 211v6M515 247v3M517 55v3M517 61v9M517 91v9M517 103v3M517 112v6M517 121v3M517 154v3M517 163v9M517 175v6M517 190v6M517 202v12M519 55v12M519 91v6M519 112v6M519 121v6M519 151v6M519 163v18M519 193v3M519 202v9M521 55v3M521 61v6M521 106v3M521 112v6M521 121v3M521 133v3M521 145v3M521 154v6M521 166v6M521 178v3M521 193v6M521 202v3M521 208v9M523 55v3M523 61v9M523 91v6M523 112v6M523 121v3M523 127v3M523 154v6M523 166v6M523 178v3M523 196v3M523 202v12M525 55v9M525 91v9M525 112v6M525 121v9M525 133v3M525 154v6M525 166v15M525 196v3M525 202v12M527 58v6M527 91v6M527 106v3M527 112v6M527 121v3M527 154v6M527 166v6M527 175v6M527 196v3M527 202v9M529 55v6M529 91v3M529 97v3M529 106v12M529 121v9M529 133v3M529 154v6M529 166v15M529 196v3M529 202v12M531 55v9M531 79v3M531 103v6M531 112v3M531 154v6M531 166v6M531 178v3M531 196v3M531 202v6M531 211v3M533 58v3M533 91v9M533 106v12M533 121v9M533 133v3M533 154v6M533 166v12M533 196v15M535 55v3M535 61v9M535 79v3M535 103v6M535 112v3M535 157v3M535 166v3M535 175v6M535 202v6M535 211v3M535 235v3M537 55v12M537 91v3M537 103v6M537 112v6M537 121v6M537 154v6M537 166v15M537 202v15M539 55v12M539 91v9M539 103v6M539 112v6M539 121v9M539 154v6M539 166v15M539 196v3M539 202v9M539 235v3M541 55v12M541 91v9M541 106v12M541 121v9M541 133v3M541 154v6M541 166v15M541 196v3M541 205v6M541 235v3M543 58v3M543 94v9M543 106v12M543 121v15M543 151v9M543 166v15M543 196v3M543 205v6M545 52v6M545 91v9M545 109v9M545 121v9M545 133v3M545 157v3M545 169v12M545 196v3M545 205v9M547 55v9M547 103v3M547 112v6M547 121v3M547 148v3M547 154v6M547 166v6M547 178v3M547 202v3M547 211v6M547 235v3M549 103v6M549 121v3M549 145v6M549 163v9M549 178v6M549 193v3M549 202v3M549 214v3M549 235v3M549 241v3M549 247v3M551 55v9M551 91v3M551 103v3M551 112v6M551 121v6M551 154v6M551 166v6M551 175v6M551 196v3M551 202v6M551 235v3M553 103v6M553 112v6M553 121v6M553 145v6M553 154v6M553 163v9M553 178v3M553 196v3M553 202v6M553 235v3M555 55v3M555 64v3M555 103v6M555 112v3M555 124v3M555 154v6M555 166v6M555 175v6M555 202v3M555 235v3M557 55v6M557 64v3M557 91v3M557 97v3M557 112v3M557 121v9M557 133v3M557 154v6M557 166v6M557 175v6M557 196v3M557 202v6M559 64v3M559 88v3M559 103v6M559 115v3M559 145v6M559 154v6M559 163v9M559 178v6M559 193v3M559 202v3M559 217v3M559 235v3M561 67v3M561 79v3M561 85v3M561 145v6M561 163v3M561 178v6M561 193v3M561 202v3M561 217v3M561 235v6M563 55v6M563 79v3M563 103v6M563 112v3M563 121v3M563 148v3M563 154v6M563 166v3M563 178v6M563 196v3M563 202v3M563 217v3M565 55v6M565 64v6M565 91v3M565 97v3M565 103v6M565 115v3M565 121v3M565 127v3M565 154v6M565 166v6M565 178v3M565 196v3M565 202v6M565 217v3M565 223v3M565 235v3M567 61v3M567 85v3M567 103v6M567 112v6M567 154v6M567 166v6M567 178v3M567 196v3M567 202v6M567 217v12M569 55v3M569 67v3M569 103v6M569 115v3M569 127v3M569 154v6M569 166v6M569 178v3M569 193v6M569 202v6M569 220v9M569 235v3M571 55v6M571 64v6M571 79v3M571 85v3M571 103v3M571 154v6M571 163v6M571 178v6M571 193v3M571 202v3M571 220v3M571 226v3M571 235v3M571 247v3M573 67v3M573 79v3M573 85v6M573 103v3M573 145v3M573 154v6M573 163v9M573 181v3M573 193v3M573 202v3M573 226v6M573 235v3M573 247v3M575 55v3M575 67v3M575 103v6M575 154v6M575 166v6M575 178v3M575 193v3M575 202v6M575 220v3M575 226v3M575 235v3M575 241v3M575 247v3M577 67v3M577 79v3M577 88v3M577 103v6M577 145v3M577 154v6M577 166v6M577 178v3M577 193v3M577 202v3M577 226v3M577 235v3M579 67v3M579 79v6M579 103v3M579 145v3M579 154v6M579 163v6M579 178v3M579 193v3M579 202v3M579 220v3M579 226v3M579 235v3M579 241v3M579 247v3M581 55v3M581 67v3M581 85v6M581 103v6M581 151v9M581 166v6M581 178v3M581 202v6M581 220v6M581 235v3M583 55v3M583 79v3M583 88v3M583 94v3M583 103v6M583 151v9M583 166v6M583 178v3M583 196v3M583 202v9M583 217v3M583 223v3M583 235v3M585 55v6M585 79v3M585 97v3M585 103v6M585 121v3M585 157v3M585 166v6M585 178v3M585 196v3M585 202v6M585 217v3M585 235v3M587 55v3M587 67v3M587 79v6M587 88v3M587 103v3M587 157v3M587 163v9M587 178v3M587 193v3M587 202v3M587 217v3M587 235v3M589 55v3M589 67v3M589 82v3M589 103v3M589 154v3M589 163v9M589 175v6M589 193v3M589 202v3M589 217v3M589 223v6M589 235v3M591 55v3M591 67v3M591 76v9M591 88v3M591 103v3M591 154v3M591 160v9M591 175v9M591 193v6M591 202v3M591 220v12M591 235v3M593 67v3M593 76v3M593 88v3M593 103v3M593 151v6M593 160v9M593 178v6M593 196v3M593 202v3M593 226v6M593 235v3M595 55v3M595 76v3M595 103v3M595 154v3M595 160v12M595 175v6M595 193v3M595 202v3M595 220v3M595 226v3M595 235v3M597 55v3M597 67v3M597 76v3M597 88v3M597 103v3M597 154v3M597 160v9M597 178v3M597 193v3M597 202v6M597 220v9M597 235v3M599 55v6M599 64v3M599 76v3M599 82v3M599 88v3M599 94v3M599 103v3M599 154v3M599 163v6M599 175v6M599 196v3M599 202v6M599 217v3M599 223v3M599 235v3M601 58v9M601 76v3M601 82v3M601 88v3M601 103v6M601 127v3M601 154v3M601 160v9M601 178v3M601 193v6M601 202v3M601 217v3M601 235v3M603 58v9M603 79v3M603 85v3M603 91v9M603 106v3M603 124v12M603 163v18M603 196v3M603 202v9M603 217v3M605 55v3M605 64v15M605 103v3M605 154v3M605 160v9M605 175v6M605 193v3M605 202v3M605 223v6M605 235v3M607 55v6M607 64v6M607 73v6M607 82v9M607 103v6M607 127v3M607 133v3M607 154v3M607 160v12M607 175v6M607 196v3M607 205v3M607 220v6M609 55v3M609 61v3M609 70v9M609 82v3M609 88v3M609 103v6M609 127v3M609 133v3M609 154v3M609 160v9M609 175v6M609 193v6M609 202v3M609 220v9M609 235v3M611 55v3M611 70v3M611 82v3M611 88v3M611 103v6M611 127v3M611 154v3M611 160v15M611 178v3M611 193v3M611 202v6M611 220v3M611 226v3M613 70v3M613 88v3M613 103v3M613 151v6M613 160v3M613 166v3M613 178v6M613 193v3M613 202v3M613 226v3M615 70v3M615 103v3M615 151v6M615 160v12M615 178v3M615 196v3M615 202v6M615 220v3M615 226v6M617 55v12M617 70v9M617 82v9M617 103v6M617 154v3M617 160v12M617 175v6M617 196v3M617 202v9M617 220v3M617 226v3M619 55v3M619 61v3M619 67v6M619 76v3M619 88v3M619 103v3M619 154v3M619 160v12M619 178v3M619 196v3M619 202v6M619 220v3M619 226v3M621 55v3M621 70v9M621 82v3M621 88v3M621 103v6M621 127v3M621 160v12M621 175v6M621 193v6M621 202v6M621 220v3M623 55v3M623 61v3M623 70v3M623 76v3M623 82v3M623 103v6M623 154v3M623 160v12M623 178v3M623 202v6M623 220v6M625 55v6M625 64v15M625 82v3M625 88v3M625 103v6M625 127v3M625 133v3M625 154v3M625 160v18M625 196v3M625 202v9M625 220v6M627 55v9M627 70v9M627 82v6M627 103v3M627 127v3M627 133v3M627 154v3M627 160v12M627 175v6M627 202v6M627 220v6M629 154v3M629 160v3M629 178v6M629 193v3M629 202v3M631 55v3M631 103v3M631 151v6M631 160v6M631 178v6M631 193v3M631 202v3M631 220v3M633 55v3M633 151v6M633 160v9M633 178v6M633 193v3M633 202v3M635 136v3M635 145v3M635 151v3M635 181v3M635 193v3M637 70v3M637 151v6M637 160v3M637 178v6M637 196v3M637 202v3M639 55v3M639 61v18M639 82v3M639 88v3M639 103v6M639 127v3M639 133v3M639 154v3M639 163v9M639 175v6M639 196v3M639 205v3M639 220v6M641 58v3M641 67v6M641 76v3M641 82v6M641 106v3M641 154v3M641 160v12M641 175v6M641 196v3M641 202v6M641 220v3M643 61v3M643 103v3M643 151v6M643 160v12M643 178v6M643 193v3M643 202v3M643 220v3M643 226v6"/>
<path stroke="#0000e4" d="M141 79v3M141 85v3M141 91v3M141 109v3M141 121v3M141 130v6M143 79v3M143 85v3M143 91v3M143 100v3M143 130v3M145 79v3M145 91v3M145 100v3M145 130v3M171 136v9M173 139v6M175 145v3M177 148v6M183 154v3M185 154v6M187 148v3M191 139v6M193 91v3M193 136v3M193 142v3M195 88v3M195 136v9M197 85v6M197 139v6M199 85v3M199 103v9M199 118v3M199 139v3M201 115v3M201 121v3M201 127v9M203 85v3M203 103v3M203 115v3M203 124v12M203 145v3M205 121v3M205 145v3M209 82v3M209 103v6M209 157v3M211 52v3M211 82v3M211 148v9M213 82v3M213 148v3M213 154v3M215 82v3M215 148v3M217 82v3M219 79v6M221 154v3M223 106v3M223 148v3M227 85v3M229 85v3M231 85v6M231 154v3M233 103v3M233 115v3M233 154v6M235 103v3M235 115v3M237 91v3M239 91v6M239 115v3M241 94v3M241 115v3M241 124v12M243 94v6M243 103v3M243 124v6M243 133v3M245 91v6M245 103v3M245 112v6M245 121v3M245 127v3M247 91v3M249 82v9M251 79v6M251 88v3M251 103v3M251 112v3M255 79v6M255 160v3M257 79v6M257 103v3M257 160v6M259 88v3M259 103v12M259 121v3M259 160v27M261 91v3M261 109v3M261 130v3M261 166v18M263 139v3M263 169v15M265 136v9M265 172v12M267 136v3M267 145v6M267 160v3M267 169v3M269 136v3M269 145v6M269 160v9M271 100v3M271 118v3M271 127v6M271 136v3M271 142v9M271 160v9M273 103v6M273 136v3M273 142v6M273 163v6M275 106v3M275 136v3M275 145v3M275 151v6M275 163v3M277 136v15M277 160v9M279 136v15M279 166v6M281 103v3M281 136v3M281 142v6M281 169v6M283 88v3M283 103v6M283 112v3M283 136v3M283 145v6M283 160v3M283 169v3M285 103v3M285 136v3M285 145v6M285 163v6M287 88v3M287 136v3M287 142v9M287 160v3M287 166v3M289 88v3M289 136v3M289 145v6M289 160v9M291 136v3M291 142v9M291 160v6M293 91v9M293 103v3M293 145v6M293 160v3M295 94v3M295 106v3M295 136v3M295 142v9M295 160v6M297 94v9M297 106v3M297 136v3M297 142v3M297 148v3M297 163v6M299 97v3M299 106v3M299 136v3M299 145v6M301 97v3M301 103v6M301 136v3M301 142v9M303 97v3M303 103v6M303 136v3M303 145v6M303 166v3M305 94v3M305 136v9M305 148v3M305 166v3M307 94v3M307 136v3M307 142v3M307 148v3M309 94v3M309 136v3M309 145v6M309 160v3M311 94v3M311 103v3M311 136v3M311 145v6M311 163v3M313 94v3M313 103v3M313 136v3M313 145v6M313 160v6M315 94v3M315 136v3M315 142v9M315 160v6M317 106v3M317 112v3M317 121v6M317 136v3M317 145v6M317 160v6M319 100v3M319 112v3M319 124v6M319 136v3M319 142v9M319 160v6M321 109v3M321 121v18M321 145v6M321 160v6M323 109v9M323 124v3M323 133v6M323 145v6M323 160v27M325 112v6M325 124v3M325 133v6M325 142v9M325 160v27M327 100v9M327 136v3M327 142v9M327 181v6M327 190v3M329 100v3M329 106v3M329 136v3M329 142v9M329 181v6M329 196v3M331 97v6M331 106v3M331 136v9M331 148v3M331 181v3M331 190v9M333 136v3M333 142v3M333 178v3M333 190v6M335 109v3M335 136v3M335 142v9M335 175v3M337 109v3M337 136v3M337 142v3M337 175v3M339 109v6M339 136v3M339 142v3M339 148v3M339 172v3M341 112v6M341 121v3M341 127v3M341 145v6M341 169v6M343 121v3M343 127v3M343 136v3M343 142v9M343 172v3M345 91v3M345 103v3M345 121v6M345 136v3M345 142v3M347 91v6M347 115v3M347 121v9M347 133v6M347 145v3M347 175v3M349 88v3M349 112v3M349 121v9M349 136v3M349 145v6M349 175v3M351 85v6M351 103v3M351 121v3M351 136v3M351 142v9M351 178v3M353 136v3M353 142v9M353 181v3M355 85v3M355 103v6M355 136v3M355 145v6M355 181v6M355 193v6M357 85v3M357 106v3M357 136v3M357 142v9M357 181v6M359 136v3M359 142v3M359 184v3M359 190v3M361 79v6M361 136v3M361 142v6M361 181v6M363 82v3M363 106v3M363 136v3M363 142v9M363 181v6M365 136v3M365 142v6M365 181v6M365 190v3M367 79v3M367 136v3M367 142v9M367 181v6M367 190v3M369 136v3M369 181v6M369 190v9M371 79v6M371 103v3M371 136v3M371 142v3M371 148v3M371 181v6M371 193v9M373 82v3M373 139v6M373 181v6M373 193v9M375 79v3M375 139v3M375 181v6M375 190v12M377 82v3M377 103v3M377 184v3M377 190v12M379 79v6M379 184v3M379 193v6M381 187v9M383 187v6M385 76v3M385 187v6M387 73v6M387 82v3M387 187v6M389 85v6M389 139v3M389 187v6M391 139v3M391 187v3M391 193v3M393 85v3M393 106v3M393 136v3M393 142v3M393 148v3M393 181v9M393 196v3M395 88v3M395 136v3M395 142v9M395 181v9M395 199v3M397 136v3M397 145v6M397 181v9M397 199v3M399 88v3M399 136v3M399 142v3M399 148v3M399 181v9M399 196v6M401 88v3M401 136v15M401 184v6M401 199v3M403 106v3M403 136v3M403 145v6M403 181v9M403 199v3M405 103v6M405 145v6M405 160v3M405 181v9M405 199v3M407 85v3M407 136v3M407 142v3M407 148v3M407 181v9M409 79v9M409 136v3M409 142v9M409 181v9M411 79v3M411 85v6M411 103v3M411 136v3M411 142v9M411 181v9M413 85v6M413 136v3M413 142v9M413 181v9M415 103v3M415 136v3M415 145v6M415 181v9M417 136v3M417 148v3M417 181v9M419 103v6M419 136v3M419 142v6M419 181v9M421 103v6M421 115v3M421 130v3M421 136v3M421 142v3M421 148v3M421 181v9M423 94v3M423 103v6M423 112v3M423 136v3M423 142v9M423 181v9M425 94v3M425 106v3M425 136v3M425 142v3M425 184v6M427 94v6M427 109v3M427 136v3M427 145v6M427 181v9M429 94v3M429 106v3M429 136v3M429 142v3M429 148v3M429 160v3M429 181v9M431 94v3M431 103v6M431 112v3M431 118v3M431 136v3M431 145v6M431 160v3M431 181v9M433 115v3M433 136v3M433 142v3M433 148v3M433 160v3M433 181v9M435 136v3M435 142v3M435 148v3M435 163v3M435 184v6M435 202v6M437 136v3M437 142v9M437 163v3M437 181v9M437 202v6M439 136v3M439 142v6M439 154v3M439 163v3M439 181v12M439 202v6M441 136v3M441 142v6M441 154v3M441 163v3M441 181v6M441 190v3M441 202v6M443 136v3M443 142v6M443 151v6M443 163v3M443 181v6M443 193v3M443 202v6M445 136v3M445 142v6M445 151v6M445 163v3M445 181v6M445 190v3M445 202v6M447 91v3M447 136v3M447 142v6M447 154v3M447 160v3M447 181v6M447 190v3M447 202v6M449 91v3M449 136v12M449 154v3M449 163v3M449 181v6M449 190v3M449 202v6M449 247v3M451 103v3M451 136v3M451 145v3M451 151v9M451 163v3M451 181v3M451 193v3M451 247v3M453 91v3M453 136v3M453 142v6M453 151v6M453 163v3M453 181v6M453 190v6M453 247v6M455 136v3M455 142v6M455 151v6M455 184v3M455 190v3M455 250v3M457 52v3M457 103v3M457 136v3M457 142v6M457 151v6M457 163v3M457 181v6M457 190v6M457 247v3M459 52v3M459 103v3M459 112v3M459 136v3M459 145v3M459 151v9M459 163v3M459 181v3M459 193v3M459 247v3M461 88v3M461 136v3M461 142v6M461 151v6M461 181v6M461 190v3M461 247v6M463 88v3M463 136v3M463 142v6M463 151v6M463 160v3M463 181v6M463 190v3M463 247v3M465 55v6M465 64v3M465 85v6M465 136v3M465 142v6M465 151v6M465 160v6M465 181v6M465 193v3M465 247v3M467 55v3M467 61v12M467 88v3M467 136v3M467 142v6M467 151v6M467 160v3M467 184v3M467 190v3M467 250v3M469 55v15M469 85v3M469 103v3M469 136v3M469 142v6M469 151v6M469 163v3M469 181v6M469 193v3M469 247v3M471 58v6M471 67v3M471 85v6M471 103v6M471 136v3M471 145v3M471 151v6M471 163v3M471 181v6M471 193v3M471 247v3M473 58v9M473 79v3M473 85v3M473 136v3M473 145v3M473 151v6M473 163v3M473 181v6M473 190v6M473 202v3M473 247v3M475 64v18M475 88v3M475 136v3M475 142v6M475 151v6M475 163v3M475 184v3M475 193v3M475 202v6M475 247v6M477 61v12M477 79v12M477 136v3M477 145v3M477 151v6M477 181v6M477 193v3M477 202v6M477 247v3M479 67v3M479 76v6M479 85v6M479 136v3M479 142v6M479 151v6M479 160v3M479 181v6M479 193v3M479 202v6M479 247v3M481 70v9M481 82v9M481 136v3M481 142v6M481 151v6M481 181v6M481 190v6M481 202v6M481 247v3M483 73v6M483 82v3M483 88v3M483 103v3M483 136v3M483 142v6M483 154v3M483 160v3M483 184v3M483 202v6M483 247v6M485 70v9M485 88v3M485 136v3M485 142v9M485 160v3M485 184v3M485 190v3M485 202v6M485 247v6M487 67v3M487 76v6M487 85v6M487 136v3M487 145v6M487 163v3M487 181v6M487 193v3M487 202v6M487 247v3M489 70v21M489 103v3M489 136v3M489 142v9M489 163v3M489 181v6M489 193v3M489 202v6M489 247v3M491 73v9M491 85v3M491 136v3M491 142v9M491 163v3M491 181v6M491 190v6M491 202v6M491 247v3M493 76v6M493 85v6M493 136v3M493 142v3M493 148v3M493 163v3M493 181v6M493 193v3M493 202v6M493 247v3M495 70v3M495 76v3M495 82v9M495 136v3M495 142v3M495 160v3M495 181v6M495 190v6M495 202v6M495 247v6M497 70v9M497 85v6M497 136v3M497 142v9M497 181v6M497 190v3M497 202v6M497 241v3M497 247v6M499 76v6M499 85v3M499 103v3M499 136v3M499 142v9M499 163v3M499 181v6M499 190v6M499 202v6M499 241v3M499 247v3M501 67v3M501 79v3M501 85v6M501 136v3M501 145v6M501 160v3M501 181v6M501 190v3M501 202v9M501 238v6M501 247v3M503 79v3M503 85v6M503 136v3M503 142v9M503 160v3M503 181v9M503 208v3M503 238v6M503 247v3M505 79v3M505 85v6M505 136v3M505 145v6M505 181v9M505 211v6M505 241v3M505 247v3M507 64v3M507 79v3M507 85v3M507 103v3M507 136v3M507 145v6M507 181v9M507 214v3M507 241v3M507 247v3M509 55v3M509 79v3M509 85v3M509 103v3M509 136v3M509 145v6M509 181v9M509 202v3M509 214v3M509 241v3M509 247v3M511 79v9M511 136v3M511 142v3M511 148v3M511 181v9M511 241v3M511 247v3M513 67v3M513 76v6M513 85v6M513 136v3M513 142v3M513 148v3M513 181v3M513 187v3M513 214v3M513 238v6M513 247v6M515 73v6M515 82v3M515 88v3M515 136v3M515 142v3M515 148v3M515 181v9M515 238v9M515 250v3M517 79v3M517 85v3M517 106v3M517 136v3M517 142v9M517 160v3M517 181v9M517 214v3M517 241v3M517 247v3M519 67v3M519 79v3M519 103v6M519 136v3M519 145v6M519 160v3M519 181v6M519 190v3M519 211v6M519 241v3M519 247v3M521 67v3M521 73v9M521 85v3M521 103v3M521 136v3M521 148v3M521 163v3M521 181v6M521 190v3M521 241v3M521 247v3M523 76v6M523 85v6M523 103v6M523 136v3M523 145v6M523 163v3M523 181v6M523 193v3M523 214v3M523 241v3M523 247v3M525 64v6M525 73v3M525 79v3M525 85v3M525 103v6M525 136v3M525 145v6M525 163v3M525 181v6M525 193v3M525 214v3M525 241v3M525 247v3M527 55v3M527 64v3M527 79v3M527 85v3M527 103v3M527 136v3M527 145v6M527 163v3M527 181v3M527 193v3M527 211v6M527 238v6M527 247v3M529 61v6M529 79v3M529 103v3M529 136v3M529 145v6M529 163v3M529 181v6M529 193v3M529 214v3M529 235v3M529 241v3M529 247v3M531 64v6M531 76v3M531 85v6M531 136v3M531 145v6M531 163v3M531 181v6M531 193v3M531 214v3M531 232v12M531 247v3M533 55v3M533 61v9M533 79v3M533 85v3M533 103v3M533 136v3M533 145v6M533 163v3M533 178v9M533 193v3M533 211v6M533 235v9M533 247v3M535 70v9M535 82v9M535 136v3M535 142v9M535 163v3M535 181v6M535 193v3M535 214v3M535 232v3M535 238v6M535 247v3M537 67v3M537 73v3M537 79v9M537 136v3M537 145v6M537 163v3M537 181v6M537 193v3M537 232v12M537 247v3M539 67v3M539 79v3M539 85v3M539 136v3M539 145v6M539 163v3M539 181v6M539 193v3M539 211v6M539 232v3M539 238v6M539 247v3M541 103v3M541 136v3M541 145v6M541 163v3M541 181v3M541 193v3M541 202v3M541 211v6M541 232v3M541 238v6M541 247v3M543 55v3M543 61v3M543 91v3M543 103v3M543 136v3M543 145v6M543 163v3M543 181v3M543 193v3M543 202v3M543 211v6M543 235v3M543 241v3M543 247v3M545 58v6M545 103v6M545 145v6M545 154v3M545 163v6M545 181v3M545 193v3M545 202v3M545 214v3M545 235v9M545 247v3M547 88v3M547 136v3M547 142v6M547 163v3M547 181v6M547 190v6M547 232v3M547 238v6M547 247v3M549 64v3M549 85v6M549 136v3M549 142v3M549 160v3M549 184v3M549 190v3M549 232v3M549 238v3M549 244v3M549 250v3M551 64v3M551 106v3M551 136v3M551 142v9M551 163v3M551 181v6M551 193v3M551 232v3M551 238v6M551 247v6M553 64v3M553 88v3M553 136v3M553 142v3M553 181v6M553 190v6M553 232v3M553 238v6M553 247v6M555 85v6M555 115v3M555 121v3M555 136v3M555 142v9M555 163v3M555 181v6M555 193v3M555 217v3M555 232v3M555 238v6M557 103v6M557 115v3M557 136v3M557 145v6M557 163v3M557 181v6M557 193v3M557 217v3M557 235v6M559 67v3M559 85v3M559 136v3M559 142v3M559 184v3M559 190v3M559 229v6M559 238v3M561 70v9M561 82v3M561 88v3M561 136v3M561 142v3M561 160v3M561 184v3M561 190v3M561 220v15M563 67v6M563 76v3M563 82v9M563 136v3M563 142v6M563 163v3M563 184v3M563 190v6M563 220v21M565 76v12M565 136v3M565 145v6M565 163v3M565 181v6M565 193v3M565 220v3M565 226v9M565 238v3M567 67v6M567 76v9M567 88v3M567 136v3M567 142v9M567 163v3M567 181v6M567 190v6M567 229v12M569 73v9M569 85v6M569 136v3M569 142v9M569 163v3M569 181v6M569 190v3M569 229v3M569 238v6M571 70v9M571 82v3M571 88v3M571 136v3M571 142v9M571 184v3M571 190v3M571 229v6M571 238v6M571 250v3M573 70v9M573 82v3M573 136v3M573 142v3M573 148v3M573 160v3M573 184v3M573 190v3M573 232v3M573 238v9M573 250v3M575 70v15M575 88v3M575 136v3M575 142v9M575 163v3M575 181v6M575 190v3M575 229v6M575 238v3M575 250v3M577 70v9M577 82v3M577 136v9M577 148v3M577 160v6M577 181v6M577 190v3M577 229v6M577 238v15M579 70v9M579 136v3M579 142v3M579 148v3M579 160v3M579 181v12M579 229v6M579 238v3M579 250v3M581 73v12M581 136v3M581 142v9M581 163v3M581 181v6M581 193v3M581 226v9M581 238v6M581 247v3M583 67v6M583 76v3M583 82v3M583 136v3M583 145v3M583 163v3M583 181v6M583 193v3M583 220v3M583 226v9M583 238v6M583 247v3M585 67v3M585 82v3M585 88v3M585 136v3M585 145v3M585 151v6M585 163v3M585 181v6M585 193v3M585 220v15M585 238v6M585 247v3M587 70v9M587 136v3M587 142v6M587 151v6M587 160v3M587 181v6M587 220v15M587 238v6M587 247v3M589 70v9M589 136v3M589 142v6M589 151v3M589 160v3M589 181v6M589 190v3M589 220v3M589 229v6M589 238v6M589 247v3M591 73v3M591 136v3M591 142v6M591 151v3M591 184v3M591 190v3M591 232v3M591 238v6M591 247v3M593 70v6M593 136v3M593 142v6M593 184v3M593 190v6M593 232v3M593 238v6M593 247v3M595 67v3M595 73v3M595 136v3M595 142v6M595 151v3M595 181v6M595 190v3M595 229v6M595 238v6M595 247v3M597 70v6M597 136v3M597 142v6M597 151v3M597 181v6M597 190v3M597 229v6M597 238v12M599 67v3M599 73v3M599 136v3M599 142v6M599 151v3M599 160v3M599 181v3M599 193v3M599 220v3M599 226v9M599 238v6M599 247v3M601 55v3M601 67v3M601 73v3M601 136v3M601 145v3M601 151v3M601 181v6M601 190v3M601 220v15M601 238v6M601 247v3M603 55v3M603 67v3M603 76v3M603 82v3M603 88v3M603 103v3M603 136v3M603 151v6M603 160v3M603 181v3M603 193v3M603 223v6M603 235v3M603 241v3M605 136v3M605 142v6M605 151v3M605 181v6M605 220v3M605 229v6M605 238v3M607 70v3M607 136v3M607 142v6M607 151v3M607 181v3M607 193v3M607 202v3M607 226v15M609 136v3M609 142v6M609 151v3M609 181v6M609 229v6M609 238v3M611 136v3M611 142v6M611 151v3M611 181v6M611 190v3M611 229v9M613 136v12M613 184v3M613 190v3M613 229v9M615 136v3M615 142v6M615 181v6M615 190v6M617 136v3M617 145v3M617 151v3M617 181v6M617 193v3M617 229v3M619 136v3M619 145v3M619 151v3M619 181v6M619 193v3M619 229v3M621 136v3M621 145v3M621 151v6M621 181v6M621 190v3M621 226v3M623 136v3M623 145v3M623 151v3M623 181v6M623 193v3M625 136v3M625 142v6M625 151v3M625 178v6M625 193v3M627 136v3M627 145v3M627 151v3M627 181v6M627 193v3M629 136v12M629 151v3M629 184v3M629 190v3M631 136v3M631 142v6M631 184v3M631 190v3M633 136v12M633 184v9M635 139v6M635 148v3M635 184v9M635 226v3M637 136v3M637 142v6M637 184v3M637 190v6M637 226v3M639 136v3M639 145v3M639 151v3M639 160v3M639 181v3M639 193v3M639 202v3M639 226v3M641 55v3M641 103v3M641 136v3M641 142v6M641 151v3M641 181v6M641 190v6M641 226v3M643 136v3M643 142v6M643 184v3M643 190v3"/>
<path stroke="#0000f6" d="M141 61v18M141 82v3M141 88v3M141 94v6M141 112v6M141 124v6M141 136v15M143 61v15M143 82v3M143 88v3M143 94v6M143 103v15M143 124v6M143 133v15M145 61v18M145 82v6M145 94v6M145 103v9M145 115v3M145 121v9M145 133v15M147 100v3M169 136v3M169 142v3M171 145v3M173 145v3M177 268v6M179 268v6M181 154v3M183 157v3M189 148v6M191 145v3M193 94v9M193 139v3M193 145v3M195 85v3M195 103v3M195 145v3M197 103v3M199 115v3M199 124v3M199 130v3M199 145v3M201 124v3M201 145v3M203 121v3M207 79v6M209 79v3M209 148v9M209 178v9M209 190v3M211 160v9M211 172v15M213 160v3M221 79v6M225 82v3M229 154v3M231 157v3M233 88v3M233 199v3M235 199v3M239 160v3M241 121v3M241 160v9M241 172v3M243 160v18M245 160v3M247 85v6M249 79v3M253 160v3M255 163v3M257 166v21M259 79v6M259 190v3M261 94v6M261 106v3M261 112v6M261 121v9M261 133v3M261 184v3M263 124v3M263 184v3M267 139v6M267 172v12M269 139v6M269 169v3M271 91v9M271 109v9M271 121v6M271 133v3M271 139v3M271 169v3M273 91v3M273 139v3M273 148v3M273 160v3M275 91v3M275 139v6M275 148v3M275 160v3M275 166v3M277 169v3M279 172v3M281 88v3M281 139v3M281 175v3M283 139v6M283 172v3M285 88v3M285 139v6M285 169v3M287 85v3M287 139v3M287 169v3M289 139v6M291 88v3M291 139v3M291 166v3M293 106v3M293 136v9M293 163v6M295 91v3M295 103v3M295 139v3M295 166v3M297 91v3M297 103v3M297 139v3M297 160v3M299 94v3M299 103v3M299 139v6M299 160v9M301 94v3M301 139v3M301 160v9M303 94v3M303 139v6M303 160v6M303 169v6M305 160v6M305 169v9M307 139v3M307 160v18M309 139v6M309 163v9M311 139v6M311 160v3M311 166v3M313 139v6M313 166v3M315 139v3M315 166v3M317 97v3M317 103v3M317 139v6M317 166v3M319 103v6M319 139v3M319 166v6M321 100v9M321 112v6M321 139v6M321 166v21M323 100v9M323 121v3M323 127v3M323 139v6M323 187v6M325 100v9M325 139v3M325 187v9M327 97v3M327 139v3M327 187v3M327 193v9M329 94v6M329 103v3M329 139v3M329 187v9M329 199v3M331 94v3M331 103v3M331 184v6M331 199v3M333 100v3M333 106v3M333 139v3M333 181v3M333 196v6M335 139v3M335 178v3M335 190v6M337 139v3M337 190v6M339 139v3M339 175v3M339 190v3M341 109v3M341 124v3M341 136v9M341 175v3M343 100v3M343 106v3M343 139v3M343 175v3M345 88v3M345 94v6M345 139v3M345 175v3M347 85v6M347 139v6M349 85v3M349 139v6M351 139v3M353 139v3M353 184v3M353 190v12M355 139v6M355 187v6M355 199v3M357 139v3M357 187v9M359 79v6M359 139v3M359 187v3M359 193v3M361 139v3M361 187v9M363 76v3M363 139v3M363 187v6M365 139v3M365 187v3M365 193v3M367 139v3M367 187v3M367 193v6M369 139v6M369 187v3M369 199v3M371 139v3M371 187v6M373 187v6M375 187v3M377 187v3M379 187v6M379 199v3M381 76v3M381 196v3M383 73v6M383 193v3M385 73v3M387 70v3M387 193v3M389 79v6M389 193v3M391 196v3M393 88v3M393 139v3M393 199v3M395 85v3M395 139v3M397 85v6M397 139v6M399 85v3M399 139v3M401 82v6M403 88v3M403 139v6M405 85v6M405 136v9M407 88v3M407 139v3M409 88v3M409 139v3M411 82v3M411 139v3M413 79v6M413 139v3M415 85v6M415 139v6M417 85v6M417 139v6M419 85v6M419 139v3M421 121v9M421 133v3M421 139v3M423 91v3M423 139v3M425 91v3M425 103v3M425 112v3M425 139v3M427 103v6M427 112v3M427 139v6M429 103v3M429 112v3M429 139v3M431 115v3M431 121v3M431 127v9M431 139v6M431 202v3M433 91v3M433 139v3M433 202v6M435 91v3M435 139v3M435 160v3M437 91v3M437 139v3M437 160v3M439 91v3M439 139v3M439 148v3M439 160v3M441 91v3M441 139v3M441 148v3M441 160v3M441 187v3M441 208v3M443 91v3M443 139v3M443 148v3M443 160v3M443 187v6M445 91v3M445 139v3M445 148v3M445 160v3M445 187v3M447 139v3M447 148v3M447 187v3M447 208v3M449 148v3M449 160v3M449 187v3M449 208v3M449 250v3M451 91v3M451 139v6M451 148v3M451 160v3M451 184v9M451 202v6M451 250v6M453 139v3M453 148v3M453 160v3M453 187v3M453 202v3M453 253v3M455 139v3M455 148v3M455 160v3M455 187v3M455 202v3M455 253v3M457 88v3M457 139v3M457 148v3M457 160v3M457 187v3M457 250v6M459 85v6M459 139v6M459 148v3M459 160v3M459 184v9M459 250v6M461 55v6M461 85v3M461 139v3M461 148v3M461 160v3M461 187v3M461 253v3M463 55v12M463 85v3M463 139v3M463 148v3M463 187v3M463 250v6M465 61v3M465 67v6M465 139v3M465 148v3M465 187v6M465 250v6M467 73v3M467 85v3M467 139v3M467 148v3M467 187v3M467 253v3M469 70v3M469 82v3M469 88v3M469 139v3M469 148v3M469 160v3M469 187v6M469 250v6M471 64v3M471 70v6M471 139v6M471 148v3M471 160v3M471 187v6M471 202v3M471 250v6M473 67v12M473 82v3M473 88v3M473 139v6M473 148v3M473 160v3M473 187v3M473 205v3M473 250v6M475 82v3M475 139v3M475 148v3M475 160v3M475 187v6M475 208v3M475 253v3M477 73v6M477 139v6M477 148v3M477 160v3M477 187v6M477 208v3M477 250v6M479 70v6M479 82v3M479 139v3M479 148v3M479 187v6M479 208v3M479 250v6M481 139v3M481 148v3M481 160v3M481 187v3M481 208v3M481 250v6M483 70v3M483 139v3M483 148v3M483 187v6M483 208v3M483 253v3M485 139v3M485 187v3M485 208v3M485 253v6M487 70v6M487 82v3M487 139v6M487 160v3M487 187v6M487 250v6M489 139v3M489 160v3M489 187v6M489 250v6M491 70v3M491 82v3M491 88v3M491 139v3M491 160v3M491 187v3M491 250v6M493 70v6M493 82v3M493 139v3M493 160v3M493 187v6M493 250v6M495 73v3M495 139v3M495 187v3M495 208v3M495 241v6M495 253v3M497 82v3M497 139v3M497 160v3M497 187v3M497 208v3M497 238v3M497 244v3M497 253v6M499 73v3M499 82v3M499 88v3M499 139v3M499 160v3M499 187v3M499 208v3M499 238v3M499 244v3M499 250v6M501 76v3M501 82v3M501 139v6M501 187v3M501 244v3M501 250v6M503 67v3M503 82v3M503 139v3M503 211v3M503 244v3M503 250v6M505 76v3M505 82v3M505 139v6M505 238v3M505 244v3M505 250v6M507 82v3M507 88v3M507 139v6M507 238v3M507 244v3M507 250v6M509 82v3M509 88v3M509 139v6M509 238v3M509 244v3M509 250v6M511 67v3M511 76v3M511 88v3M511 139v3M511 238v3M511 244v3M511 250v6M513 70v6M513 82v3M513 139v3M513 244v3M513 253v6M515 139v3M515 217v3M515 253v3M517 70v9M517 82v3M517 88v3M517 139v3M517 238v3M517 244v3M517 250v6M519 70v9M519 82v9M519 139v6M519 187v3M519 238v3M519 244v3M519 250v6M521 70v3M521 82v3M521 88v3M521 139v6M521 160v3M521 187v3M521 238v3M521 244v3M521 250v6M523 70v6M523 82v3M523 139v6M523 160v3M523 187v6M523 238v3M523 244v3M523 250v6M525 70v3M525 76v3M525 82v3M525 88v3M525 139v6M525 160v3M525 187v6M525 235v6M525 244v3M525 250v6M527 67v12M527 82v3M527 88v3M527 139v6M527 160v3M527 184v9M527 235v3M527 244v3M527 250v9M529 67v12M529 82v9M529 139v6M529 160v3M529 187v6M529 232v3M529 238v3M529 244v3M529 250v9M531 70v6M531 82v3M531 139v6M531 160v3M531 187v6M531 229v3M531 244v3M531 250v3M533 70v9M533 82v3M533 88v3M533 139v6M533 160v3M533 187v6M533 229v6M533 244v3M535 139v3M535 160v3M535 187v6M535 217v3M535 229v3M535 244v3M537 70v3M537 76v3M537 88v3M537 139v6M537 160v3M537 187v6M537 229v3M537 244v3M539 73v6M539 82v3M539 88v3M539 139v6M539 160v3M539 187v6M539 229v3M539 244v3M541 85v6M541 139v6M541 160v3M541 184v9M541 229v3M541 244v3M543 64v3M543 85v6M543 139v6M543 160v3M543 184v9M543 232v3M543 238v3M543 244v3M545 88v3M545 136v9M545 160v3M545 184v9M545 232v3M545 244v3M545 250v3M547 64v3M547 85v3M547 139v3M547 160v3M547 187v3M547 229v3M547 244v3M547 250v9M549 82v3M549 139v3M549 187v3M549 217v3M549 229v3M549 253v6M551 85v6M551 139v3M551 160v3M551 187v6M551 217v3M551 229v3M551 244v3M551 253v6M553 85v3M553 139v3M553 160v3M553 187v3M553 217v3M553 229v3M553 244v3M553 253v6M555 139v3M555 160v3M555 187v6M555 229v3M555 244v12M557 85v6M557 139v6M557 160v3M557 187v6M557 229v6M557 241v3M559 79v6M559 139v3M559 160v3M559 187v3M559 220v3M559 226v3M559 241v3M561 139v3M561 187v3M561 241v3M563 73v3M563 139v3M563 160v3M563 187v3M563 241v3M565 70v6M565 88v3M565 139v6M565 160v3M565 187v6M565 241v3M567 73v3M567 139v3M567 160v3M567 187v3M567 241v3M569 70v3M569 82v3M569 139v3M569 160v3M569 187v3M569 232v3M569 244v9M571 139v3M571 160v3M571 187v3M571 244v3M571 253v3M573 139v3M573 187v3M573 253v6M575 139v3M575 160v3M575 187v3M575 244v3M575 253v3M577 187v3M577 253v3M579 139v3M579 244v3M579 253v3M581 70v3M581 139v3M581 160v3M581 187v6M581 244v3M583 73v3M583 139v6M583 148v3M583 160v3M583 187v6M583 244v3M585 70v9M585 139v6M585 148v3M585 160v3M585 187v6M585 244v3M587 139v3M587 148v3M587 187v6M587 244v3M589 139v3M589 148v3M589 187v3M589 244v3M591 70v3M591 139v3M591 148v3M591 187v3M591 244v3M593 139v3M593 148v3M593 187v3M593 244v3M595 70v3M595 139v3M595 148v3M595 187v3M595 244v3M597 139v3M597 148v3M597 187v3M599 70v3M599 139v3M599 148v3M599 184v9M599 244v3M601 70v3M601 139v6M601 148v3M601 187v3M601 244v3M603 70v6M603 139v12M603 184v9M603 220v3M603 229v6M603 238v3M603 247v3M605 139v3M605 148v3M605 187v6M605 241v3M607 139v3M607 148v3M607 184v9M607 241v3M609 139v3M609 148v3M609 187v6M609 241v3M611 139v3M611 148v3M611 187v3M611 238v3M613 148v3M613 187v3M615 139v3M615 148v3M615 187v3M615 232v6M617 139v6M617 148v3M617 187v6M617 232v3M619 139v6M619 148v3M619 187v6M621 139v6M621 148v3M621 187v3M623 139v6M623 148v3M623 187v6M623 226v3M625 139v3M625 184v9M625 226v3M627 139v6M627 148v3M627 187v6M629 148v3M629 187v3M629 226v3M631 139v3M631 148v3M631 187v3M631 226v3M633 148v3M633 226v3M637 139v3M637 148v3M637 187v3M639 139v6M639 148v3M639 184v9M641 139v3M641 148v3M641 187v3M641 229v3M643 139v3M643 148v3M643 187v3"/>
<path stroke="#0013ff" d="M141 103v6M143 76v3M143 121v3M143 148v3M145 88v3M145 112v3M145 148v3M147 91v6M169 139v3M175 130v3M175 148v6M177 265v3M179 154v3M179 265v3M179 277v6M181 268v6M183 271v3M187 85v6M187 94v12M187 109v3M187 271v9M187 283v9M189 100v3M189 154v6M189 277v3M191 91v3M191 97v6M193 85v6M193 103v3M195 106v6M195 124v6M197 106v3M197 121v3M197 145v3M199 82v3M199 112v3M199 121v3M199 127v3M199 133v3M201 82v3M203 82v3M205 82v3M207 148v6M207 181v6M209 163v15M209 187v3M211 55v3M211 169v3M211 187v6M213 52v3M213 76v3M213 163v3M213 169v3M215 160v3M217 160v3M219 160v3M221 157v3M223 154v3M225 154v3M227 154v3M233 85v3M233 205v3M235 85v6M235 160v3M235 202v6M237 85v6M237 160v6M239 88v3M239 163v9M239 175v3M241 91v3M241 169v3M241 175v3M243 91v3M245 163v3M247 160v3M249 160v3M251 160v3M253 163v3M255 76v3M255 172v6M257 187v6M259 187v3M261 85v6M261 103v3M263 94v6M263 112v6M263 127v9M265 184v3M267 184v3M269 172v3M269 178v3M271 103v6M271 172v3M273 169v3M275 169v3M277 88v3M277 172v3M279 88v3M279 175v3M281 85v3M283 85v3M283 175v3M285 85v3M285 172v3M287 172v3M289 85v3M289 169v3M291 85v3M291 169v3M295 169v3M297 169v3M299 169v3M301 169v3M305 91v3M309 172v3M311 169v3M313 169v3M317 94v3M317 169v3M319 97v3M319 172v3M319 178v9M319 190v3M321 187v6M323 193v3M327 94v3M331 202v3M333 94v6M333 103v3M333 184v6M335 100v3M335 106v3M335 181v3M335 187v3M337 178v3M339 193v3M343 103v3M345 85v3M345 178v3M347 178v3M349 178v3M351 181v6M351 190v3M351 196v6M353 187v3M357 82v3M357 196v6M361 76v3M363 193v3M365 76v3M367 76v3M367 199v3M369 76v3M373 76v3M375 76v3M377 76v3M379 76v3M381 67v9M381 199v3M383 67v6M383 196v3M385 70v3M385 193v3M387 67v3M389 196v3M391 76v3M391 82v3M391 199v3M395 202v3M403 85v3M407 79v6M413 202v3M417 202v3M421 88v3M421 202v3M423 115v6M423 124v3M423 130v6M423 202v3M425 115v3M425 124v3M425 202v3M427 202v3M429 91v3M429 115v3M429 202v3M431 91v3M431 124v3M431 205v3M433 208v3M435 208v3M437 208v3M439 208v3M443 208v3M445 208v3M447 247v6M449 244v3M449 253v6M451 208v3M451 256v3M453 205v3M453 256v3M455 55v3M455 256v3M457 55v3M457 85v3M457 202v3M457 256v3M459 55v3M459 256v3M461 202v3M461 244v3M461 256v3M463 67v6M463 76v3M463 202v3M463 244v3M463 256v3M465 202v3M465 256v3M467 82v3M467 202v3M467 244v3M467 256v3M469 73v3M469 202v3M469 256v3M471 76v9M471 205v3M471 256v3M473 208v3M473 244v3M475 244v3M475 256v3M477 244v3M477 256v3M479 256v3M481 256v3M483 244v3M483 256v3M485 244v3M487 208v3M487 256v3M489 208v3M489 256v3M491 208v3M491 244v3M491 256v3M493 208v3M493 244v3M493 256v3M495 238v3M495 256v3M499 70v3M499 256v3M501 211v3M501 235v3M501 256v3M503 76v3M503 214v3M503 256v3M505 67v3M505 217v3M505 256v3M507 217v3M507 256v3M509 67v3M509 76v3M509 217v3M509 256v3M511 73v3M511 217v3M511 256v3M513 217v3M515 235v3M515 256v3M517 217v3M517 256v3M519 256v3M521 217v3M521 256v3M523 217v3M523 235v3M523 256v3M525 256v3M527 217v3M529 229v3M531 217v3M531 253v6M533 250v3M535 250v3M537 217v3M539 70v3M539 217v3M541 67v3M541 79v6M541 250v3M543 229v3M543 250v3M545 64v3M545 85v3M545 229v3M545 253v3M547 217v3M549 67v3M553 67v3M555 67v3M555 256v3M557 67v3M557 226v3M557 244v6M559 70v9M559 223v3M559 244v3M567 244v6M569 253v3M571 256v3M575 256v3M577 256v3M579 256v3M581 250v3M583 250v3M589 250v3M591 250v3M593 250v3M603 244v3M605 244v3M611 241v3M613 238v3M619 232v3M621 229v3M625 148v3M627 226v3M635 229v3M637 229v3M639 229v3M643 232v3"/>
<path stroke="#0037ff" d="M141 205v6M141 220v9M143 205v3M143 220v3M147 85v6M147 97v3M147 103v3M167 109v3M167 136v9M169 94v3M171 94v3M171 100v3M171 109v3M173 103v3M173 148v3M175 85v6M175 94v3M175 100v6M175 112v3M175 265v3M175 271v3M175 277v30M177 253v6M177 274v6M177 283v15M177 301v3M179 100v3M179 244v9M179 256v9M179 274v3M179 283v24M181 265v3M181 277v21M183 268v3M183 277v6M183 286v6M185 271v9M185 283v15M187 79v6M187 106v3M187 112v3M187 160v3M187 268v3M187 280v3M187 292v9M189 88v3M189 103v6M189 265v3M189 271v6M189 280v18M191 88v3M191 94v3M191 148v6M191 271v18M193 106v3M193 148v3M193 271v6M193 280v9M195 82v3M195 115v9M195 130v3M195 148v3M195 265v9M195 277v15M197 82v3M197 109v12M197 124v12M197 148v3M199 148v3M201 148v3M203 148v3M205 79v3M205 148v3M205 184v3M205 190v3M207 76v3M207 154v9M207 166v6M207 175v6M207 187v9M209 52v3M209 160v3M209 193v3M211 76v3M211 193v3M213 55v3M213 166v3M213 172v21M215 76v3M215 163v6M217 76v3M217 163v3M219 76v3M219 163v3M223 82v3M225 79v3M227 82v3M229 82v3M231 82v3M231 199v3M233 160v3M233 202v3M235 163v3M235 196v3M235 208v3M237 82v3M237 166v3M237 172v6M237 199v3M237 205v3M239 172v3M239 178v3M241 178v3M243 88v3M245 85v6M245 166v12M247 79v6M247 163v3M249 163v3M253 76v3M253 166v3M253 172v3M255 166v6M255 178v12M257 76v3M257 193v3M259 193v3M261 82v3M261 187v6M263 85v3M263 91v3M263 100v12M263 118v6M263 187v3M269 115v3M269 175v3M269 181v3M271 175v9M277 85v3M277 175v6M279 178v3M281 178v3M293 88v3M293 169v3M295 88v3M299 91v3M299 172v3M301 91v3M301 172v3M303 91v3M303 175v3M305 178v3M307 91v3M307 178v3M309 91v3M309 175v3M311 91v3M311 172v3M315 169v3M317 172v3M319 94v3M319 175v3M319 187v3M319 193v3M321 193v3M323 97v3M325 97v3M325 196v3M329 202v3M331 91v3M333 88v3M333 202v3M335 184v3M335 196v6M337 100v3M337 106v3M337 187v3M339 103v6M339 178v3M343 88v12M343 178v3M349 181v3M351 82v3M351 193v3M353 82v3M353 202v3M355 82v3M359 196v6M363 196v3M365 73v3M365 196v3M369 73v3M369 202v3M371 76v3M371 202v3M373 202v3M375 202v3M377 202v3M379 52v3M379 73v3M379 202v3M381 202v3M383 52v3M383 58v9M383 199v3M385 67v3M387 52v3M387 64v3M387 196v3M389 73v6M391 73v3M391 79v3M393 82v3M395 82v3M397 202v3M399 202v3M401 202v3M407 202v3M409 202v3M411 76v3M411 202v3M413 76v3M413 205v3M415 202v3M417 82v3M419 202v3M421 85v3M423 88v3M423 121v3M423 127v3M425 88v3M425 118v6M425 127v9M427 91v3M427 115v3M429 118v9M429 130v6M429 205v3M445 253v3M447 88v3M447 211v3M447 253v6M449 211v3M453 88v3M453 208v3M453 244v3M455 52v3M455 58v3M455 85v6M455 205v3M455 244v3M457 244v3M459 202v3M459 244v3M461 61v3M461 70v6M463 73v3M465 73v3M465 82v3M465 244v3M467 76v6M467 205v3M469 76v3M469 205v3M469 244v3M471 244v3M473 256v3M475 211v3M479 211v3M479 244v3M481 244v3M483 211v3M485 211v3M485 241v3M487 244v3M489 244v3M493 241v3M497 211v3M497 235v3M499 211v3M499 235v3M501 70v6M501 214v3M503 73v3M503 235v3M505 235v3M507 67v3M507 76v3M507 235v3M509 73v3M509 235v3M511 235v3M513 235v3M515 220v3M517 235v3M519 217v3M519 235v3M521 235v3M525 217v3M527 229v6M529 217v3M531 226v3M533 217v3M533 253v3M535 220v3M535 226v3M535 253v3M537 250v3M539 250v3M541 70v9M541 217v3M541 253v3M543 67v3M543 217v3M543 253v3M545 217v3M545 256v3M547 67v3M547 82v3M547 226v3M547 259v3M549 220v3M549 226v3M549 259v3M551 67v3M551 259v3M553 82v3M553 226v3M553 259v3M555 220v3M555 226v3M557 82v3M557 220v3M557 250v3M559 250v6M561 244v3M563 244v3M565 244v3M567 250v6M569 256v3M581 253v3M583 253v3M585 250v3M587 250v3M595 250v3M597 250v3M605 247v3M607 244v3M613 241v3M615 238v3M617 235v3M619 235v3M621 232v3M623 229v3M633 229v3M641 232v3"/>
<path stroke="#005bff" d="M141 157v3M141 211v9M141 241v3M141 253v3M141 259v3M141 286v3M143 208v12M143 223v6M143 253v6M143 274v3M143 280v6M145 151v3M145 157v3M161 88v3M161 94v3M167 88v3M167 94v9M169 88v3M169 112v3M169 145v3M171 79v3M171 85v9M171 97v3M171 103v6M171 148v3M171 277v3M171 292v6M171 301v3M171 307v3M173 79v3M173 85v6M173 97v6M173 268v3M173 277v33M175 91v3M175 97v3M175 106v6M175 118v3M175 127v3M175 154v3M175 253v12M175 268v3M175 274v3M175 307v6M177 247v6M177 259v6M177 280v3M177 298v3M177 304v3M179 88v6M179 97v3M179 106v3M179 253v3M179 307v3M179 319v3M181 247v12M181 262v3M181 274v3M181 298v6M183 265v3M183 274v3M183 283v3M183 292v9M185 97v3M185 103v3M185 160v3M185 268v3M185 280v3M185 298v3M187 91v3M187 115v3M187 121v3M187 127v3M187 133v3M187 226v6M187 238v3M187 244v9M187 262v6M187 301v6M187 310v15M189 82v6M189 91v9M189 160v3M189 226v3M189 235v3M189 247v3M189 256v6M189 268v3M189 298v3M189 310v3M191 85v3M191 103v6M191 154v3M191 259v12M191 289v6M193 259v12M193 277v3M193 289v3M195 133v3M195 259v6M195 274v3M197 283v3M199 79v3M201 79v3M205 151v6M205 178v6M205 187v3M205 193v3M207 163v3M207 172v3M209 55v3M209 76v3M209 196v3M215 52v3M217 166v3M219 52v6M219 73v3M221 160v3M223 157v3M229 157v3M231 160v3M231 196v3M231 202v6M233 196v3M233 208v3M235 82v3M237 169v3M237 178v3M237 196v3M237 202v3M241 88v3M243 178v3M245 178v3M247 166v9M251 76v3M251 163v3M253 169v3M253 175v3M255 190v6M257 196v3M261 79v3M261 193v3M263 88v3M265 100v6M265 115v3M265 121v3M265 127v6M265 187v3M269 94v12M269 109v6M269 124v12M269 184v3M271 184v3M273 88v3M273 172v3M275 172v3M279 82v6M283 178v3M285 175v3M287 82v3M287 175v6M289 172v3M291 172v3M293 85v3M295 172v3M297 88v3M297 172v3M299 88v3M303 88v3M303 178v3M305 88v3M305 181v3M309 178v3M311 175v3M313 172v3M315 172v3M317 175v18M321 97v3M323 196v3M325 199v3M327 91v3M327 202v3M331 205v6M333 85v3M333 91v3M333 205v3M335 97v3M335 103v3M335 202v6M337 91v3M337 103v3M337 181v6M337 196v3M339 187v3M339 196v3M341 103v6M341 178v3M341 190v6M343 190v3M345 181v6M345 193v3M347 181v3M347 196v3M349 184v18M351 187v3M351 202v3M353 205v3M355 202v3M357 79v3M359 52v3M359 76v3M359 202v3M361 52v3M361 73v3M361 196v3M363 73v3M365 52v3M365 199v6M367 73v3M367 202v3M369 70v3M373 73v3M377 73v3M379 205v3M381 52v6M381 61v6M381 205v3M383 55v3M383 202v6M385 196v3M387 55v9M387 199v3M389 70v3M389 199v3M391 52v3M391 70v3M391 202v6M393 202v3M395 73v3M395 79v3M395 205v3M397 82v3M401 70v3M403 82v3M403 202v3M405 82v3M405 202v3M407 76v3M409 76v3M409 205v3M415 82v3M417 79v3M419 79v6M419 205v3M421 205v3M423 85v3M423 205v3M425 205v3M427 205v3M429 88v3M429 127v3M431 208v3M433 88v3M435 88v3M435 211v3M437 211v3M439 88v3M439 211v3M441 88v3M443 88v3M443 211v3M445 211v3M445 247v6M445 256v3M447 85v3M447 244v3M449 88v3M449 259v3M451 211v3M451 244v3M453 55v3M453 85v3M455 82v3M455 208v3M455 241v3M457 58v3M457 205v3M459 58v3M461 64v6M461 76v9M461 205v3M461 241v3M463 79v6M463 205v3M463 241v3M465 76v6M465 205v3M465 241v3M467 208v3M467 241v3M469 79v3M469 208v3M471 208v3M471 241v3M473 211v3M473 241v3M475 241v3M477 211v3M477 241v3M479 241v3M481 211v3M481 241v3M483 241v3M489 241v3M491 241v3M493 238v3M495 211v3M495 235v3M501 232v3M503 70v3M503 217v3M505 70v6M505 220v3M507 220v3M509 70v3M511 70v3M511 220v3M513 220v3M513 232v3M515 232v3M515 259v3M523 220v3M523 232v3M525 232v3M529 226v3M529 259v3M531 220v3M531 259v3M533 226v3M533 256v3M535 256v3M537 220v3M537 226v3M537 253v3M539 226v3M541 220v3M541 226v3M543 82v3M543 256v3M545 82v3M547 70v3M547 220v3M549 70v9M549 223v3M551 82v3M551 220v3M551 226v3M553 220v3M555 70v3M555 76v9M555 259v3M557 70v9M557 223v3M557 253v6M559 247v3M559 256v3M561 247v12M565 247v9M567 256v3M581 256v3M585 253v3M587 253v3M589 253v3M591 253v3M599 250v3M601 250v3M607 247v3M609 244v3M623 232v3M625 229v3M629 229v3M631 229v3M637 232v3"/>
<path stroke="#007eff" d="M141 151v6M141 163v6M141 229v12M141 247v6M141 256v3M141 262v24M143 55v3M143 151v6M143 160v3M143 166v3M143 229v24M143 259v15M143 277v3M143 286v3M145 154v3M145 160v3M145 166v3M145 211v3M145 217v3M145 223v3M161 91v3M161 97v3M163 85v6M163 97v3M165 97v3M165 136v3M167 82v3M167 103v3M169 85v3M169 91v3M171 76v3M171 82v3M171 112v6M171 127v3M171 274v3M171 280v12M171 298v3M171 304v3M171 310v12M173 82v3M173 91v6M173 133v3M173 151v3M173 253v3M173 259v3M173 265v3M173 271v6M173 310v12M173 325v3M175 244v9M175 313v3M175 319v9M177 88v3M177 94v3M177 100v6M177 154v3M177 241v6M177 307v9M179 82v6M179 94v3M179 103v3M179 157v3M179 223v3M179 229v15M179 310v6M179 322v9M181 88v6M181 103v3M181 133v3M181 157v3M181 238v9M181 259v3M181 304v6M181 322v3M183 100v3M183 160v3M183 244v3M183 250v12M183 301v6M183 316v3M185 88v3M185 100v3M185 106v3M185 112v3M185 229v3M185 244v9M185 259v3M185 265v3M185 301v3M185 310v3M187 124v3M187 163v3M187 202v3M187 208v3M187 220v6M187 232v6M187 241v3M187 253v9M187 307v3M187 325v6M189 109v6M189 121v3M189 127v3M189 229v6M189 241v3M189 253v3M189 262v3M189 301v9M189 313v12M189 328v3M191 82v3M191 109v6M191 133v3M191 157v3M191 232v6M191 253v6M191 295v3M191 301v3M191 325v6M193 109v3M193 121v3M193 241v3M193 247v3M193 292v3M193 298v3M195 79v3M195 112v3M195 151v3M195 211v6M195 220v9M195 232v9M195 244v3M195 250v3M195 256v3M195 292v6M195 301v6M195 310v15M195 334v3M195 340v3M195 346v3M197 151v3M197 217v3M197 232v9M197 259v24M197 286v6M197 310v3M197 316v3M197 340v6M199 151v3M199 208v3M199 238v3M199 259v15M199 289v3M199 343v3M201 151v3M201 190v3M201 199v18M201 229v12M201 340v6M203 187v6M205 76v3M205 157v21M205 196v9M205 208v3M207 52v3M207 196v6M211 58v3M211 73v3M211 196v3M213 58v6M213 193v3M215 55v3M215 73v3M215 169v6M215 187v3M217 52v3M217 73v3M219 58v3M225 76v3M225 157v3M229 79v3M231 52v3M231 79v3M231 193v3M231 208v3M233 82v3M233 163v3M235 166v6M239 85v3M239 181v3M243 82v6M243 181v3M245 79v6M247 76v3M247 175v3M249 76v3M249 169v3M253 178v3M253 184v3M253 190v3M259 76v3M263 190v3M265 94v6M265 106v9M265 118v3M265 124v3M265 133v3M267 112v6M267 124v3M267 133v3M269 106v3M269 118v6M271 88v3M273 85v3M273 175v9M275 88v3M277 82v3M277 181v3M279 181v3M281 82v3M281 181v3M285 82v3M285 178v3M289 82v3M289 175v3M289 181v6M291 82v3M291 175v3M291 184v6M293 172v3M295 85v3M297 85v3M297 181v3M297 190v3M299 175v3M299 187v3M301 85v6M301 175v9M303 181v3M303 187v3M305 85v3M305 184v3M305 190v3M307 181v3M309 184v3M311 178v3M313 91v3M315 91v3M315 175v3M315 181v12M317 193v3M319 91v3M319 196v3M321 196v3M325 94v3M329 91v3M329 205v3M333 208v6M335 91v6M337 97v3M337 202v3M339 181v6M339 202v3M341 187v3M343 85v3M343 181v3M343 187v3M343 193v6M345 187v6M345 196v3M347 184v12M347 199v3M349 202v3M351 205v3M355 205v3M357 76v3M357 202v3M359 55v6M359 70v6M361 55v3M361 199v6M363 52v6M363 199v3M365 55v3M365 70v3M365 205v3M367 70v3M367 205v3M369 205v6M371 73v3M373 52v3M373 205v3M375 73v3M375 205v3M377 61v3M377 205v3M379 64v9M381 58v3M381 208v3M383 208v3M385 64v3M385 199v3M387 202v9M389 67v3M389 202v3M391 55v3M391 64v6M391 208v3M393 70v3M393 79v3M393 205v3M395 67v6M395 76v3M395 208v6M399 82v3M399 205v3M401 76v6M401 205v3M403 79v3M403 205v3M405 79v3M407 205v3M411 73v3M411 205v3M415 79v3M415 205v3M417 205v3M421 79v6M421 256v3M425 85v3M425 208v3M425 253v3M427 88v3M429 208v3M433 211v3M437 85v3M439 85v3M441 211v3M441 250v6M443 247v3M443 253v6M445 88v3M447 52v3M447 214v3M447 259v3M449 55v3M449 214v3M451 88v3M451 259v3M453 211v3M453 241v3M455 76v6M455 259v3M457 82v3M457 238v6M459 82v3M459 205v3M459 241v3M461 376v6M463 259v3M463 382v3M465 379v9M467 211v3M467 238v3M467 370v3M467 376v6M467 385v6M469 211v3M469 241v3M475 214v3M479 214v3M481 214v3M481 238v3M483 214v3M483 238v3M485 238v3M487 211v3M487 241v3M489 211v3M491 211v3M493 211v3M495 259v3M497 232v3M497 259v3M499 214v3M499 259v3M501 217v3M501 259v3M503 220v3M503 229v6M503 259v3M505 232v3M505 259v3M507 73v3M507 232v3M509 220v3M509 232v3M511 232v3M511 259v3M513 259v3M515 223v9M515 388v9M517 220v3M517 232v3M517 259v3M519 220v3M519 232v3M521 220v3M521 232v3M521 259v3M523 259v3M525 220v3M525 229v3M525 259v3M527 220v3M527 226v3M527 259v3M529 220v3M533 220v3M535 223v3M535 259v3M535 391v3M535 403v2M539 220v3M539 253v3M541 256v3M543 70v12M543 220v3M543 226v3M545 67v3M545 220v3M545 226v3M545 259v3M547 76v6M547 262v3M549 79v3M549 262v3M553 70v3M553 76v3M553 223v3M553 262v3M555 223v3M555 262v3M557 79v3M559 262v3M561 259v6M563 247v12M575 259v3M579 259v3M583 256v3M593 253v3M595 253v3M605 250v3M609 247v3M611 244v3M613 244v3M615 241v6M617 238v3M621 235v3M627 229v3M629 232v3M633 232v3M635 232v6M639 232v3"/>
<path stroke="#00a2ff" d="M141 55v3M141 160v3M141 244v3M143 157v3M143 163v3M145 55v3M145 163v3M145 205v6M145 214v3M145 220v3M145 226v3M145 244v3M145 250v3M147 73v3M147 82v3M147 106v6M147 133v3M163 94v3M163 100v3M163 139v3M165 91v3M165 139v6M167 91v3M167 121v6M167 145v3M169 79v3M169 97v9M169 118v3M169 124v6M169 148v3M169 307v3M169 313v6M171 118v9M171 130v3M171 262v12M171 322v3M173 106v6M173 115v3M173 124v3M173 244v3M173 250v3M173 256v3M173 262v3M173 322v3M173 337v3M175 73v3M175 79v6M175 115v3M175 121v3M175 133v3M175 220v3M175 229v6M175 241v3M175 316v3M175 346v6M175 355v3M177 82v3M177 91v3M177 97v3M177 133v3M177 226v12M177 316v9M179 121v9M179 220v3M179 226v3M179 316v3M179 331v3M179 388v3M181 97v6M181 109v3M181 130v3M181 223v9M181 235v3M181 310v12M181 325v3M183 82v3M183 94v6M183 103v3M183 220v6M183 229v15M183 247v3M183 262v3M183 307v3M183 313v3M183 319v12M185 94v3M185 109v3M185 226v3M185 232v12M185 253v6M185 262v3M185 304v6M185 316v15M187 118v3M187 130v3M187 211v9M187 331v12M187 346v3M187 385v9M187 397v3M189 115v6M189 133v3M189 211v3M189 217v9M189 238v3M189 244v3M189 250v3M189 325v3M189 331v3M189 343v3M191 118v6M191 160v3M191 208v6M191 217v15M191 238v15M191 298v3M191 304v21M191 331v6M193 82v3M193 112v6M193 130v3M193 151v6M193 205v6M193 214v3M193 223v18M193 244v3M193 256v3M193 295v3M193 301v18M193 322v15M193 340v6M195 199v12M195 217v3M195 229v3M195 241v3M195 247v3M195 253v3M195 298v3M195 307v3M195 325v9M195 337v3M195 343v3M195 373v3M197 79v3M197 154v3M197 202v15M197 220v3M197 226v6M197 241v3M197 250v9M197 292v3M197 298v6M197 307v3M197 313v3M197 322v3M197 331v3M197 367v3M199 154v3M199 190v3M199 196v12M199 211v6M199 226v12M199 241v6M199 256v3M199 277v12M199 292v3M199 298v3M199 307v3M199 325v6M199 340v3M199 346v3M201 76v3M201 154v3M201 184v3M201 193v6M201 217v6M201 226v3M201 241v3M201 262v3M201 304v3M201 319v3M201 337v3M201 346v3M203 76v6M203 151v3M203 184v3M203 193v18M205 205v3M205 214v3M207 58v3M207 202v12M209 199v3M209 205v3M211 205v3M213 67v9M215 58v3M215 175v12M215 190v3M217 55v3M219 61v3M219 67v3M219 166v6M221 73v6M221 163v6M223 79v3M225 55v3M225 163v3M227 157v3M229 160v3M229 199v6M231 163v3M231 175v3M231 190v3M233 193v3M235 79v3M235 172v3M235 193v3M237 52v3M237 70v3M237 76v6M237 181v9M237 193v3M237 208v3M239 184v3M239 196v6M241 85v3M241 181v3M243 184v3M247 178v3M249 166v3M249 172v6M251 166v6M251 175v3M253 181v3M253 187v3M253 193v3M255 196v3M257 202v3M259 196v3M263 79v3M265 190v3M267 94v3M267 103v9M267 118v6M267 127v6M267 187v3M267 334v3M269 91v3M275 85v3M275 175v6M277 184v3M283 181v3M285 181v3M287 181v6M289 79v3M289 178v3M289 187v3M291 79v3M291 178v6M291 190v3M293 184v3M295 82v3M295 175v21M297 175v6M297 184v6M299 85v3M299 178v9M299 190v3M301 82v3M301 184v3M301 190v3M303 85v3M303 184v3M303 190v3M305 79v6M305 187v3M305 193v6M307 79v3M307 184v12M309 88v3M309 181v3M309 187v9M311 181v6M313 175v9M315 178v3M317 91v3M323 91v6M323 199v6M325 202v3M327 205v9M331 88v3M331 211v3M333 82v3M333 214v3M335 208v3M337 82v9M337 94v3M337 199v3M337 205v6M339 88v3M339 100v3M339 199v3M341 88v6M341 100v3M341 181v6M343 184v3M343 199v9M345 55v3M345 82v3M345 199v9M347 202v9M349 205v3M353 52v6M353 79v3M353 208v3M355 79v3M357 205v3M359 61v3M359 67v3M359 205v6M361 205v3M363 202v9M365 58v3M365 67v3M367 58v3M367 67v3M369 52v3M371 52v3M371 205v3M375 52v6M375 67v6M377 58v3M377 67v6M377 208v3M379 55v3M379 61v3M379 208v3M381 211v3M381 394v3M383 211v3M383 226v3M383 394v3M385 55v6M385 202v9M387 394v3M389 61v6M389 205v3M391 58v6M391 211v6M393 73v6M393 211v6M395 58v3M395 64v3M395 214v6M397 205v6M399 208v3M401 73v3M401 208v3M401 214v3M403 76v3M403 208v3M405 205v3M409 73v3M411 208v3M413 67v3M413 208v6M413 256v3M415 208v3M417 256v3M421 208v3M421 250v6M423 208v3M423 253v6M425 55v3M425 256v6M427 118v3M427 124v12M427 208v3M429 256v3M431 88v3M431 253v3M435 85v3M435 253v3M437 88v3M437 250v9M439 253v6M441 85v3M441 247v3M441 256v3M443 250v3M445 85v3M445 214v3M445 244v3M445 259v3M447 55v3M447 82v3M447 217v3M447 241v3M447 373v3M447 382v3M447 388v6M449 85v3M449 217v3M449 241v3M449 376v3M449 385v3M451 241v3M453 52v3M453 64v3M453 259v3M453 376v3M455 61v15M455 211v6M455 229v9M455 370v3M455 376v3M455 382v9M457 61v6M457 208v3M457 232v6M457 379v6M459 61v9M459 385v3M461 208v6M461 235v6M461 370v3M461 382v6M463 208v6M463 232v9M463 367v3M463 379v3M463 385v3M465 208v3M465 235v6M465 373v6M465 388v3M467 217v3M467 235v3M467 259v3M467 373v3M467 382v3M467 391v3M469 238v3M469 379v6M471 211v3M471 238v3M473 214v6M475 238v3M475 259v3M475 376v3M475 382v6M477 214v3M477 235v3M479 238v3M479 259v3M481 259v3M483 259v3M483 379v6M485 214v3M485 235v3M485 259v3M485 376v6M485 385v3M485 391v3M489 238v3M491 238v3M491 259v3M493 235v3M493 259v3M495 214v3M495 232v3M497 214v6M499 217v3M499 229v6M501 229v3M505 226v6M507 70v3M507 226v6M507 259v3M509 259v3M511 226v6M511 391v3M513 223v9M513 388v9M515 262v3M515 382v6M515 397v3M517 223v9M519 223v9M519 259v3M521 223v9M521 391v6M523 226v6M523 391v3M525 226v3M527 223v3M527 391v3M529 223v3M529 391v6M531 223v3M531 391v3M531 397v3M531 403v2M533 259v3M535 394v3M535 400v3M537 223v3M537 256v3M537 391v6M537 403v2M539 223v3M539 256v3M539 400v3M541 223v3M541 259v3M543 259v3M545 223v3M547 73v3M547 223v3M549 265v3M549 397v8M551 73v9M551 223v3M551 262v3M553 73v3M553 79v3M555 73v3M557 259v3M559 259v3M565 256v3M571 259v3M573 259v3M573 400v3M577 259v3M587 256v3M589 256v3M591 256v3M591 403v2M593 403v2M597 253v3M597 400v5M599 253v3M599 400v3M603 250v3M611 247v3M613 247v3M613 400v3M619 238v3M623 235v3M631 232v3"/>
<path stroke="#00c6ff" d="M141 184v6M141 196v6M141 289v6M143 175v3M143 184v6M143 199v3M145 229v3M145 238v6M145 253v3M145 259v6M145 268v9M147 112v3M147 118v15M147 136v9M161 103v3M161 118v6M161 127v3M163 79v3M163 91v3M163 103v3M163 136v3M163 142v3M165 94v3M165 103v3M165 145v3M167 79v3M167 106v3M167 112v9M167 148v3M167 310v3M169 106v6M169 115v3M169 280v9M169 295v12M169 310v3M169 319v3M169 325v3M171 133v3M171 250v12M171 325v9M171 337v3M171 343v6M171 352v3M173 76v3M173 121v3M173 127v6M173 154v3M173 328v6M173 340v6M173 349v3M173 355v3M173 391v3M173 403v2M175 124v3M175 157v3M175 217v3M175 223v6M175 235v6M175 328v9M175 343v3M175 352v3M175 358v6M175 373v3M175 400v3M177 79v3M177 85v3M177 106v9M177 124v6M177 217v9M177 238v3M177 325v9M177 340v6M177 367v6M179 109v6M179 118v3M179 130v6M179 205v6M179 217v3M179 334v3M179 343v3M179 355v3M179 361v9M179 385v3M179 394v6M181 82v6M181 94v3M181 106v3M181 124v3M181 220v3M181 232v3M181 328v6M181 361v3M183 88v6M183 106v6M183 226v3M183 310v3M185 91v3M185 124v3M185 163v3M185 220v6M185 313v3M185 331v3M187 61v3M187 73v3M187 196v6M187 205v3M187 343v3M187 349v6M187 358v3M187 394v3M187 400v5M189 124v3M189 130v3M189 163v3M189 199v3M189 205v6M189 214v3M189 334v9M189 346v9M189 382v3M189 394v3M189 403v2M191 115v3M191 124v3M191 130v3M191 205v3M191 214v3M191 337v3M191 343v3M191 382v6M193 124v6M193 157v3M193 199v3M193 211v3M193 217v6M193 250v6M193 319v3M193 337v3M193 346v3M195 154v6M195 163v3M195 193v6M195 349v6M195 358v6M195 367v6M195 376v18M195 397v3M197 157v3M197 166v3M197 187v15M197 223v3M197 244v6M197 304v3M197 319v3M197 325v6M197 334v6M197 346v6M197 355v6M197 364v3M197 376v3M197 382v3M199 76v3M199 163v3M199 181v9M199 193v3M199 217v9M199 247v9M199 274v3M199 295v3M199 301v3M199 310v15M199 334v6M199 352v3M199 373v3M199 385v3M201 67v3M201 157v3M201 169v3M201 181v3M201 187v3M201 244v3M201 250v3M201 259v3M201 265v3M201 271v6M201 280v9M201 292v9M201 310v6M201 331v3M201 349v3M201 367v3M201 379v6M201 391v3M203 154v12M203 169v3M203 181v3M203 211v9M203 232v9M205 217v3M207 61v3M207 73v3M207 214v6M209 58v3M209 73v3M209 202v3M209 208v3M211 199v6M211 208v3M213 196v6M213 205v3M215 193v3M217 67v3M217 169v6M217 178v6M219 64v3M219 172v3M219 184v3M219 190v3M221 55v6M221 172v3M221 178v3M221 187v3M223 160v3M225 67v3M225 169v3M225 184v6M227 55v3M227 79v3M229 55v3M229 163v3M229 178v3M229 184v3M229 193v6M231 55v6M231 76v3M231 166v9M231 178v12M231 211v3M233 79v3M233 166v12M233 181v3M233 190v3M233 211v3M235 175v9M235 187v6M235 211v3M237 55v3M237 64v3M237 73v3M237 190v3M237 211v3M239 76v3M239 82v3M239 187v9M239 202v6M241 184v6M243 187v3M245 76v3M245 181v3M247 181v6M249 73v3M249 178v3M251 172v3M251 178v3M253 199v3M255 199v3M257 52v3M257 199v3M259 199v3M261 73v6M261 196v6M263 82v3M265 82v3M265 88v6M265 319v3M265 328v9M267 91v3M267 97v6M267 328v6M271 82v6M271 331v12M273 82v3M273 184v6M273 337v3M273 343v3M275 181v3M277 79v3M279 79v3M279 184v3M285 184v3M287 79v3M287 187v3M289 190v3M291 193v3M293 175v9M293 187v6M297 193v3M299 55v3M299 82v3M299 193v3M299 202v3M301 187v3M301 193v3M303 82v3M303 193v3M307 85v6M307 196v3M309 85v3M309 196v3M311 187v6M313 184v12M315 193v6M317 196v3M319 199v3M321 88v9M321 199v3M323 85v6M325 91v3M325 205v3M327 214v3M329 88v3M329 208v3M331 214v6M331 337v3M333 55v3M333 79v3M333 217v3M333 334v6M333 343v3M333 349v3M335 88v3M335 211v6M337 211v3M339 91v9M339 205v6M339 223v3M341 97v3M341 196v9M343 52v3M343 208v6M345 208v9M345 220v3M347 82v3M347 223v3M349 55v3M349 82v3M349 208v6M351 52v3M351 79v3M351 208v6M353 58v3M355 52v6M355 76v3M355 208v3M357 55v3M357 61v3M357 73v3M357 208v3M361 61v6M361 70v3M361 208v3M361 223v3M363 58v6M363 70v3M363 211v3M365 61v3M365 208v6M365 217v3M365 226v3M367 52v3M367 64v3M367 208v6M367 217v3M369 55v9M369 67v3M371 208v3M373 55v6M373 67v3M373 208v3M375 61v3M375 208v6M377 52v6M377 64v3M377 211v3M377 217v6M379 58v3M379 211v3M379 226v3M379 394v3M381 214v12M381 229v3M381 382v3M381 388v3M381 397v6M383 214v9M383 229v6M383 382v3M383 391v3M383 397v6M385 52v3M385 61v3M385 211v3M387 211v12M387 226v6M387 259v3M387 385v6M387 397v3M389 52v9M389 208v6M391 217v9M391 262v3M393 67v3M393 208v3M393 217v3M397 73v3M397 79v3M397 211v6M399 73v9M399 211v3M401 52v3M401 211v3M401 259v6M401 271v3M405 76v3M405 208v3M407 208v3M407 256v3M409 208v3M411 211v3M411 253v6M413 52v3M413 58v3M413 70v6M413 214v3M413 253v3M413 259v3M415 76v3M415 253v3M417 70v9M417 208v6M417 253v3M417 259v3M419 76v3M419 208v6M419 253v9M421 211v3M421 259v3M421 379v3M423 79v6M423 211v3M423 217v3M423 250v3M423 259v6M425 211v3M425 247v6M425 382v3M425 391v3M427 121v3M427 211v3M427 253v6M429 211v3M429 250v6M431 211v3M431 256v3M433 253v9M435 214v3M435 247v6M435 256v3M435 391v3M437 82v3M437 214v3M437 247v3M437 259v6M439 247v6M439 262v3M439 382v12M441 259v3M441 376v3M441 382v6M441 391v3M443 85v3M443 244v3M443 370v3M443 379v3M443 385v3M443 391v3M445 52v3M445 241v3M445 379v3M445 385v3M445 391v3M447 79v3M447 220v3M447 226v3M447 262v3M447 370v3M447 376v6M447 385v3M449 52v3M449 82v3M449 226v3M449 262v3M449 370v6M449 379v6M449 388v6M451 214v3M453 214v3M453 232v6M453 370v6M453 379v9M453 391v3M455 217v3M455 226v3M455 238v3M455 364v6M455 373v3M455 379v3M457 70v6M457 79v3M457 211v3M457 226v6M457 259v3M457 367v3M457 376v3M457 385v6M459 70v12M459 208v3M459 235v3M459 382v3M461 229v6M461 259v3M461 361v3M461 367v3M461 373v3M461 388v6M463 364v3M463 370v9M463 388v3M465 214v3M465 229v3M465 259v3M465 364v9M465 391v3M467 214v3M467 229v6M467 361v9M469 259v3M469 370v3M469 376v3M469 385v6M471 214v3M471 232v6M471 259v3M471 376v12M473 235v6M473 373v3M473 379v6M475 217v3M475 235v3M475 373v3M475 379v3M475 388v6M477 217v6M477 238v3M477 259v3M477 376v6M477 388v3M479 217v6M479 229v3M479 235v3M479 373v15M479 391v3M481 217v6M481 235v3M481 376v18M483 217v6M483 235v3M483 373v6M483 385v9M485 217v3M485 226v9M485 382v3M485 388v3M487 238v3M487 259v3M487 388v3M489 235v3M489 259v3M489 382v12M491 235v3M491 385v9M493 217v3M493 385v3M493 391v3M495 229v3M495 385v9M497 220v3M497 226v6M497 391v3M499 388v6M501 220v3M501 226v3M501 391v3M503 223v6M503 388v6M505 223v3M507 223v3M507 391v3M509 223v9M509 391v3M511 223v3M513 382v6M513 400v3M515 400v5M517 391v6M519 388v9M521 400v3M523 223v3M523 394v3M523 400v5M525 223v3M525 262v3M525 388v9M527 262v3M527 394v6M527 403v2M529 262v3M529 403v2M531 262v3M531 388v3M531 394v3M533 223v3M533 388v9M535 262v3M535 388v3M535 397v3M537 259v3M537 388v3M537 397v6M539 259v3M539 391v9M539 403v2M541 397v8M543 223v3M545 76v6M545 262v3M547 265v3M547 397v8M549 388v9M551 70v3M551 394v3M557 262v3M559 400v3M561 397v8M563 259v3M567 259v3M569 259v3M571 400v3M579 397v6M585 256v3M587 400v3M589 400v3M591 397v6M593 256v3M593 397v6M595 256v3M595 400v3M597 397v3M599 403v2M601 253v3M601 400v5M603 400v3M605 397v8M607 250v3M607 400v5M611 400v3M613 403v2M615 247v3M615 400v5M617 241v6M619 241v3M621 238v3M623 238v3M625 232v3M627 232v3M631 235v3M633 235v3M635 403v2M637 235v3M641 235v3M643 235v3"/>
<path stroke="#00eaff" d="M141 190v6M141 295v3M143 172v3M143 193v6M143 202v3M143 292v6M145 232v6M145 247v3M145 256v3M145 265v3M145 277v12M147 76v6M147 115v3M147 145v3M147 214v3M147 223v3M147 271v3M149 100v3M161 79v3M161 85v3M161 109v3M161 142v3M163 82v3M163 118v3M163 124v6M165 82v9M165 100v3M165 121v3M167 76v3M167 85v3M167 127v9M167 313v3M167 349v3M169 82v3M169 121v3M169 133v3M169 271v9M169 289v6M169 322v3M169 337v3M171 151v6M171 226v3M171 334v3M171 349v3M171 385v3M173 112v3M173 118v3M173 220v18M173 241v3M173 247v3M173 334v3M173 346v3M173 352v3M173 358v3M173 373v3M173 382v3M173 394v3M175 70v3M175 76v3M175 205v3M175 337v6M175 367v6M175 379v12M175 394v3M175 403v2M177 118v3M177 157v3M177 199v3M177 214v3M177 337v3M177 346v9M177 373v9M177 385v3M177 391v9M177 403v2M179 79v3M179 115v3M179 199v6M179 211v6M179 337v6M179 346v3M179 352v3M179 358v3M179 373v12M179 400v5M181 112v3M181 118v3M181 160v3M181 199v3M181 205v3M181 217v3M181 334v3M181 340v3M181 346v3M181 352v9M181 385v3M181 400v3M183 85v3M183 133v3M183 163v3M183 214v6M183 331v3M183 337v3M183 385v3M183 394v3M183 403v2M185 82v3M185 118v6M185 202v9M185 217v3M185 334v3M185 355v3M185 388v12M185 403v2M187 76v3M187 166v3M187 193v3M187 355v3M187 361v3M187 379v6M189 73v3M189 166v3M189 196v3M189 202v3M189 355v9M189 388v6M189 397v6M191 127v3M191 163v3M191 199v6M191 340v3M191 352v3M191 358v6M191 367v3M191 379v3M191 388v3M191 403v2M193 79v3M193 118v3M193 133v3M193 202v3M193 349v6M193 379v3M193 391v3M193 397v3M195 76v3M195 160v3M195 166v3M195 190v3M195 364v3M195 394v3M195 400v5M197 76v3M197 160v6M197 184v3M197 295v3M197 352v3M197 370v6M197 379v3M197 388v3M199 67v3M199 157v3M199 178v3M199 304v3M199 331v3M199 349v3M199 355v3M199 361v6M199 370v3M199 376v9M199 388v6M201 73v3M201 160v9M201 172v9M201 223v3M201 247v3M201 253v6M201 268v3M201 277v3M201 289v3M201 307v3M201 316v3M201 322v9M201 334v3M201 352v15M201 370v3M201 376v3M201 385v6M203 166v3M203 175v6M203 229v3M203 241v3M203 253v3M203 343v3M205 211v3M205 229v18M209 61v3M209 211v3M211 61v3M211 67v3M211 211v3M213 202v3M215 61v3M215 196v3M217 58v6M217 70v3M217 175v3M217 187v3M217 193v3M219 70v3M219 178v6M219 187v3M221 61v3M221 70v3M221 169v3M221 175v3M221 184v3M223 163v3M225 70v3M225 160v3M225 166v3M225 172v9M225 190v9M225 340v3M227 52v3M227 169v3M227 181v9M227 193v9M229 52v3M229 61v3M229 76v3M229 166v6M229 175v3M229 181v3M229 187v6M229 205v6M231 61v6M231 73v3M233 52v6M233 178v3M233 184v6M235 76v3M235 184v3M237 58v3M237 67v3M239 73v3M239 79v3M241 79v6M241 196v3M243 73v3M243 190v3M245 184v6M247 190v3M247 199v3M249 181v3M249 187v6M251 73v3M251 181v3M251 190v3M253 73v3M253 196v3M253 202v3M255 73v3M257 55v3M257 73v3M257 205v3M259 52v3M259 202v3M263 55v3M263 193v3M265 85v3M265 310v3M265 316v3M265 322v3M265 337v3M267 88v3M267 319v9M267 337v3M269 187v3M269 334v6M271 187v3M271 343v3M273 190v3M273 334v3M273 340v3M275 184v3M277 187v3M279 187v3M281 184v3M283 82v3M283 184v3M285 187v3M287 190v3M289 193v3M291 196v3M293 82v3M293 193v3M295 79v3M295 196v6M297 52v3M297 79v6M297 196v6M299 196v3M299 205v3M301 76v3M301 196v3M301 202v9M303 79v3M303 196v3M303 202v3M305 202v9M307 82v3M307 205v3M309 79v3M309 202v3M311 193v3M315 88v3M315 202v3M319 88v3M319 202v6M321 202v3M323 208v3M325 211v6M327 76v3M327 88v3M327 217v3M329 211v6M331 52v3M331 79v6M331 340v12M333 52v3M333 76v3M333 220v3M333 331v3M333 340v3M333 346v3M333 352v3M333 361v6M335 55v3M335 217v6M337 214v6M337 223v3M339 85v3M339 211v3M341 85v3M341 205v6M343 82v3M343 220v3M345 217v3M347 52v3M347 214v9M349 223v3M351 55v6M351 214v6M353 67v3M353 76v3M353 211v3M353 220v6M355 58v3M355 73v3M355 211v3M357 52v3M357 58v3M359 211v9M361 58v3M361 67v3M361 211v3M361 220v3M363 217v3M365 214v3M365 220v3M367 55v3M367 214v3M367 220v3M369 64v3M369 211v3M369 217v15M369 391v3M371 55v9M371 70v3M371 211v3M373 64v3M373 70v3M373 211v3M375 58v3M375 64v3M375 223v3M377 214v3M377 226v3M377 379v12M377 394v6M379 220v3M379 229v3M379 388v3M381 232v3M381 262v3M381 271v3M381 277v3M381 283v6M381 385v3M381 391v3M381 403v2M383 223v3M383 262v3M383 379v3M383 385v6M383 403v2M385 214v3M385 220v6M385 232v3M385 388v3M385 397v8M387 223v3M387 232v6M387 262v3M387 271v3M387 376v9M387 391v3M387 400v5M389 214v9M391 229v3M391 265v3M391 397v3M391 403v2M393 52v9M393 220v3M395 61v3M395 220v3M397 70v3M397 76v3M397 217v3M399 70v3M401 217v3M401 256v3M401 265v6M401 274v3M401 391v3M403 73v3M403 259v3M407 73v3M407 259v3M407 388v3M409 211v3M409 253v21M411 259v6M411 268v3M413 262v6M413 382v6M415 211v3M415 256v3M417 55v6M417 214v3M417 250v3M417 265v3M417 385v3M419 250v3M419 262v3M419 379v3M419 388v3M421 55v3M421 247v3M421 262v3M421 382v3M421 388v3M423 247v3M423 265v3M423 373v12M423 388v6M425 52v3M425 79v6M425 214v3M425 220v3M425 262v6M425 376v6M425 385v6M427 85v3M427 259v3M429 85v3M429 247v3M429 262v3M431 85v3M431 214v3M431 250v3M431 259v6M431 379v3M431 388v6M433 85v3M433 250v3M433 385v6M435 259v6M435 373v18M435 394v3M437 55v3M437 376v21M439 82v3M439 214v6M439 259v3M439 367v3M439 373v9M441 73v3M441 214v3M441 220v3M441 244v3M441 367v9M441 388v3M443 52v6M443 82v3M443 214v12M443 259v6M443 376v3M443 382v3M443 388v3M445 82v3M445 217v3M445 223v3M445 262v3M445 367v12M445 382v3M445 388v3M447 58v3M447 64v3M447 70v3M447 229v3M447 367v3M447 394v3M449 220v6M449 229v3M449 238v3M449 361v3M449 367v3M451 85v3M451 217v3M451 376v12M453 79v6M453 217v3M453 229v3M453 238v3M453 367v3M453 388v3M455 220v6M455 361v3M455 391v3M457 67v3M457 76v3M457 214v6M457 364v3M457 370v6M457 391v3M459 229v6M459 238v3M459 259v3M459 376v6M459 391v3M461 217v6M461 364v3M463 214v6M463 229v3M463 358v6M463 391v3M465 211v3M465 232v3M465 361v3M467 220v3M467 394v3M469 214v3M469 235v3M469 364v6M469 373v3M469 391v3M471 217v3M471 229v3M471 367v9M471 388v6M473 220v3M473 232v3M473 259v3M473 370v3M473 376v3M473 385v9M475 220v6M475 232v3M475 370v3M477 229v6M477 382v6M477 391v3M479 388v3M481 223v3M481 229v6M481 370v6M483 226v3M483 232v3M485 220v3M485 373v3M485 394v3M487 235v3M487 379v3M487 385v3M487 391v3M489 214v3M489 232v3M489 376v6M489 397v3M491 214v3M491 232v3M491 379v6M493 214v3M493 232v3M493 388v3M495 217v6M495 226v3M495 262v3M495 382v3M495 394v3M497 223v3M497 385v6M499 220v9M499 385v3M501 223v3M501 262v3M501 382v3M501 388v3M503 262v3M503 385v3M503 394v3M505 262v3M505 382v12M509 385v6M509 394v3M511 382v9M511 394v3M513 397v3M513 403v2M515 265v3M515 379v3M517 262v3M517 385v6M517 397v3M517 403v2M519 400v3M521 385v6M521 397v3M521 403v2M523 262v3M523 385v6M523 397v3M525 397v8M527 385v6M527 400v3M529 388v3M529 397v6M531 265v3M531 385v3M531 400v3M533 262v3M533 397v6M535 382v6M537 262v3M537 385v3M539 262v3M539 388v3M541 262v3M541 391v6M543 403v2M545 70v6M545 394v3M545 400v5M547 268v3M547 391v6M549 268v3M549 385v3M551 265v3M551 403v2M553 265v3M553 391v14M555 265v3M555 400v3M559 397v3M561 394v3M565 259v3M567 403v2M569 397v8M571 403v2M573 397v3M573 403v2M577 403v2M579 394v3M579 403v2M581 259v3M581 400v3M583 259v3M587 397v3M587 403v2M589 259v3M589 403v2M591 259v3M591 394v3M595 397v3M595 403v2M597 256v6M599 397v3M603 403v2M605 253v3M609 250v3M609 397v8M611 250v3M611 403v2M613 397v3M621 241v3M623 241v3M623 400v3M625 235v3M627 235v3M629 235v6M629 400v5M631 400v3M633 238v3M635 238v3M635 385v3M635 400v3"/>
<path stroke="#00fff7" d="M141 58v3M141 169v9M141 181v3M141 202v3M143 190v3M143 289v3M145 58v3M145 190v3M145 289v6M147 70v3M147 148v9M147 166v3M147 208v3M147 217v3M147 253v9M147 265v3M147 277v3M147 286v3M149 91v9M161 82v3M161 100v3M161 115v3M161 124v3M161 130v12M163 106v6M163 115v3M163 133v3M163 145v3M165 79v3M165 106v3M165 115v3M165 130v6M167 298v12M167 316v6M167 334v6M169 76v3M169 151v3M169 259v9M169 328v6M169 340v12M171 67v3M171 73v3M171 232v9M171 340v3M171 355v3M171 361v3M171 370v3M171 376v3M171 400v3M173 73v3M173 199v6M173 217v3M173 238v3M173 364v9M173 376v6M173 397v6M175 199v6M175 211v3M175 364v3M175 376v3M175 391v3M175 397v3M177 130v3M177 160v3M177 202v12M177 334v3M177 355v6M177 364v3M177 382v3M177 388v3M177 400v3M179 73v6M179 160v3M179 196v3M179 349v3M179 370v3M179 391v3M181 115v3M181 121v3M181 193v3M181 202v3M181 208v9M181 337v3M181 343v3M181 349v3M181 370v3M181 376v3M181 382v3M181 388v12M181 403v2M183 79v3M183 112v3M183 118v3M183 127v3M183 199v6M183 208v6M183 343v6M183 355v9M183 382v3M183 388v6M183 397v6M185 79v3M185 85v3M185 115v3M185 133v3M185 196v6M185 211v6M185 337v9M185 349v3M185 361v3M185 382v6M185 400v3M187 187v6M187 364v9M187 376v3M189 79v3M189 190v3M189 367v15M189 385v3M191 79v3M191 166v3M191 193v3M191 346v6M191 355v3M191 370v3M191 376v3M191 391v12M193 160v6M193 169v3M193 193v6M193 355v3M193 361v3M193 367v3M193 373v6M193 382v6M193 394v3M193 400v5M195 64v3M195 70v3M195 178v12M195 355v3M197 73v3M197 169v15M197 385v3M197 391v3M197 397v3M197 403v2M199 73v3M199 160v3M199 166v6M199 358v3M199 367v3M199 394v6M201 301v3M201 373v3M201 394v3M201 403v2M203 172v3M203 220v3M203 250v3M203 289v6M203 310v3M203 346v6M205 64v9M205 310v3M207 55v3M207 67v6M207 235v3M209 214v3M211 64v3M211 217v3M213 64v3M213 208v6M215 64v9M215 202v3M217 184v3M217 190v3M217 205v3M219 175v3M219 193v3M221 52v3M221 64v6M221 181v3M221 190v6M223 52v3M223 76v3M223 166v6M223 181v9M225 52v3M225 58v9M225 181v3M225 199v3M225 310v6M225 334v6M225 343v6M227 58v3M227 73v6M227 160v9M227 172v9M227 190v3M227 202v3M227 310v3M227 337v3M227 346v3M227 355v3M229 172v3M231 70v3M231 214v3M233 58v3M235 52v6M237 61v3M239 58v3M239 208v3M241 76v3M241 190v6M241 199v6M243 76v6M243 193v9M247 73v3M247 187v3M247 193v6M249 70v3M249 193v3M251 184v6M251 193v3M253 52v3M253 64v3M253 205v3M255 55v3M255 202v6M259 55v3M259 64v3M259 205v3M261 52v3M261 202v3M263 76v3M263 196v3M263 313v3M265 289v3M265 298v3M265 313v3M265 325v3M265 340v3M267 190v3M267 340v6M269 88v3M269 190v3M269 331v3M269 340v3M271 79v3M271 190v3M271 325v3M273 79v3M273 331v3M273 352v3M275 82v3M275 187v3M277 73v3M277 190v3M279 52v3M281 187v3M287 67v3M287 193v3M289 196v6M291 64v3M291 199v3M293 199v3M295 52v3M297 67v3M297 202v9M299 199v3M301 79v3M301 199v3M303 52v3M303 199v3M303 205v6M305 52v3M305 76v3M305 199v3M305 211v3M307 52v3M307 76v3M307 199v6M309 82v3M309 199v3M309 205v6M311 196v6M311 205v3M313 196v3M313 205v3M315 199v3M315 205v3M317 88v3M317 199v3M317 205v6M319 82v3M319 208v3M323 205v3M323 211v6M325 88v3M325 208v3M327 82v6M329 340v6M331 58v3M331 220v3M331 334v3M331 352v3M333 58v3M333 67v3M333 223v6M335 52v3M335 76v3M335 85v3M335 223v3M335 340v3M337 55v3M337 220v3M337 340v3M339 214v9M339 226v3M341 211v9M343 214v6M343 223v3M345 79v3M345 223v6M347 55v3M347 211v3M347 226v3M349 52v3M349 214v3M351 76v3M351 220v6M353 214v3M353 226v3M355 70v3M355 214v3M355 223v3M357 67v6M357 211v6M357 223v3M359 64v3M359 220v6M361 214v6M361 400v3M363 64v6M363 220v6M365 223v3M365 382v3M365 388v3M367 61v3M367 223v3M367 229v3M369 214v3M369 232v3M369 388v3M371 67v3M371 217v6M371 229v3M373 214v3M373 220v9M373 232v6M373 388v6M375 217v6M375 226v9M375 388v6M377 223v3M377 229v3M377 391v3M377 400v3M379 214v6M379 223v3M379 232v6M379 379v3M379 385v3M379 391v3M379 397v8M381 226v3M381 235v3M381 259v3M381 268v3M381 280v3M381 376v6M383 235v3M383 241v3M383 265v3M383 277v9M385 217v3M385 226v6M385 262v3M385 382v6M385 391v6M387 244v3M387 253v6M387 265v6M387 286v3M389 223v9M389 388v3M389 394v3M389 403v2M391 226v3M391 232v3M391 259v3M391 400v3M393 64v3M393 223v6M395 262v3M395 268v3M399 58v3M399 214v3M399 262v3M401 67v3M401 286v3M401 385v6M401 394v3M403 211v3M403 262v3M405 73v3M405 217v3M405 256v6M407 70v3M407 211v6M407 253v3M407 262v12M407 385v3M407 391v3M409 214v6M409 274v3M409 382v12M411 67v6M411 214v3M411 265v3M411 271v3M411 379v15M413 55v3M413 220v3M413 250v3M413 379v3M413 388v6M415 73v3M415 214v3M415 259v6M415 385v6M417 52v3M417 64v6M417 217v3M417 247v3M417 373v3M417 379v6M417 388v6M419 55v6M419 70v3M419 214v3M419 247v3M419 265v3M419 376v3M419 382v6M419 391v3M421 67v3M421 73v3M421 214v3M421 220v3M421 265v3M421 373v6M421 385v3M421 391v6M423 52v3M423 58v3M423 76v3M423 214v3M423 370v3M423 385v3M425 76v3M425 217v3M425 244v3M425 268v3M425 373v3M425 394v3M427 214v3M427 247v6M427 376v3M427 382v6M429 214v6M429 259v3M429 376v3M429 382v9M431 376v3M431 382v6M433 214v3M433 247v3M433 376v9M433 391v6M435 52v3M435 79v6M435 217v3M435 244v3M435 265v3M437 217v3M437 244v3M437 265v3M437 370v3M439 52v3M439 79v3M439 220v6M439 244v3M439 265v3M439 370v3M439 394v3M441 52v6M441 217v3M441 223v3M441 262v3M441 379v3M441 394v3M443 58v3M443 226v3M443 241v3M443 367v3M443 373v3M443 394v3M445 55v3M445 73v3M445 220v3M445 364v3M447 67v3M447 223v3M447 232v9M447 364v3M449 58v3M449 70v3M449 79v3M449 232v6M449 265v3M449 358v3M449 394v6M451 52v6M451 220v3M451 229v9M451 370v6M451 388v6M453 58v3M453 73v3M453 220v9M453 364v3M453 394v3M455 262v3M455 358v3M455 394v6M457 220v6M459 211v6M459 226v3M459 361v15M459 388v3M461 214v3M461 223v6M461 262v3M461 358v3M461 394v6M463 220v3M463 226v3M463 394v6M465 217v6M465 226v3M465 394v3M467 223v6M467 262v3M467 358v3M469 217v3M469 229v6M469 361v3M471 220v3M471 364v3M471 394v3M473 226v6M475 226v6M475 262v3M475 367v3M477 223v6M477 370v6M479 223v3M479 232v3M479 394v6M481 226v3M483 223v3M483 394v3M485 223v3M485 265v3M485 397v3M485 403v2M487 214v6M487 232v3M487 376v3M487 382v3M489 229v3M489 373v3M489 394v3M491 376v3M491 394v3M493 229v3M493 379v6M497 262v3M497 382v3M499 262v3M499 382v3M501 385v3M501 394v3M503 382v3M503 397v6M505 394v11M507 262v3M507 388v3M507 394v9M509 262v3M509 382v3M509 400v5M511 262v3M511 397v6M513 262v3M513 379v3M517 382v3M517 400v3M519 262v3M519 382v6M519 397v3M519 403v2M521 262v3M521 382v3M529 265v3M529 385v3M531 382v3M533 385v3M533 403v2M535 265v3M537 382v3M539 265v3M539 385v3M541 385v6M543 262v3M543 391v3M543 397v6M545 265v3M547 382v3M547 388v3M549 271v3M549 382v3M551 388v3M551 397v6M553 388v3M555 394v6M555 403v2M557 400v3M559 265v3M559 394v3M559 403v2M561 265v3M563 262v3M563 400v3M565 397v8M567 397v6M571 397v3M575 394v11M577 394v9M579 262v3M581 397v3M581 403v2M583 400v5M585 400v5M589 397v3M593 394v3M595 259v3M595 394v3M597 394v3M599 394v3M601 259v3M601 397v3M603 397v3M605 256v3M605 394v3M611 397v3M613 250v3M615 250v3M615 397v3M617 247v3M617 400v5M619 244v3M619 397v6M621 400v5M623 397v3M623 403v2M625 238v3M627 400v5M629 241v3M629 397v3M633 397v6M635 241v3M635 247v3M635 397v3M639 235v3"/>
<path stroke="#00ffe5" d="M143 58v3M143 169v3M143 178v6M145 184v6M145 196v9M147 157v6M147 172v3M147 178v3M147 184v3M147 202v3M147 211v3M147 220v3M147 229v6M147 262v3M147 268v3M147 274v3M147 280v6M149 88v3M149 103v6M149 142v3M151 91v3M151 100v3M151 142v3M159 91v3M161 76v3M161 106v3M161 112v3M163 112v3M163 121v3M163 130v3M165 112v3M165 124v3M165 313v3M165 319v3M167 73v3M167 151v3M167 277v3M167 286v12M167 322v9M167 340v3M167 346v3M169 130v3M169 223v3M169 256v3M169 268v3M169 334v3M169 355v3M169 385v3M171 70v3M171 157v3M171 217v6M171 229v3M171 241v9M171 358v3M171 364v3M171 373v3M171 379v6M171 388v12M171 403v2M173 67v3M173 205v3M173 361v3M173 385v6M175 160v3M175 193v6M175 208v3M175 214v3M177 115v3M177 121v3M177 361v3M179 70v3M179 193v3M181 79v3M181 196v3M181 367v3M181 373v3M181 379v3M183 115v3M183 121v3M183 130v3M183 196v3M183 205v3M183 334v3M183 340v3M183 349v6M183 364v3M183 379v3M185 127v6M185 193v3M185 346v3M185 352v3M185 358v3M185 370v12M187 169v3M187 373v3M189 64v6M189 76v3M189 169v3M189 187v3M189 193v3M189 364v3M191 73v6M191 190v3M191 196v3M191 364v3M193 166v3M193 190v3M193 358v3M193 364v3M193 370v3M193 388v3M195 67v3M195 169v9M197 64v3M197 361v3M197 394v3M197 400v3M199 172v6M199 403v2M201 70v3M203 223v6M203 244v6M203 259v9M203 271v9M203 283v6M203 301v6M203 313v6M203 322v3M203 328v3M203 337v6M203 352v3M203 358v3M205 58v6M205 73v3M205 220v9M205 247v3M205 274v3M205 286v6M205 298v3M205 343v3M207 64v3M207 220v3M207 226v9M207 238v12M209 64v6M209 217v3M211 70v3M211 214v3M211 226v3M215 199v3M215 205v9M217 64v3M217 196v3M219 196v3M219 214v3M221 217v3M223 55v3M223 172v3M223 178v3M223 190v6M225 202v3M225 211v3M225 247v3M225 253v3M225 292v3M225 304v6M225 319v3M225 331v3M225 352v6M225 364v3M227 64v3M227 205v3M227 313v3M227 334v3M227 340v6M227 349v3M229 211v3M229 358v3M231 67v3M233 61v3M233 73v6M235 67v3M235 73v3M235 214v3M237 214v3M239 55v3M239 67v3M243 52v3M243 67v3M245 190v15M247 202v3M249 184v3M249 196v6M251 196v6M253 55v6M255 52v3M257 58v3M257 64v3M257 70v3M257 208v3M259 58v6M261 55v6M261 205v3M263 199v3M263 310v3M263 316v18M265 79v3M265 193v3M265 283v6M265 295v3M265 301v3M265 307v3M265 346v3M267 193v3M267 313v6M269 322v9M269 343v3M271 193v3M271 319v6M271 328v3M271 346v3M273 319v3M273 325v6M273 355v6M275 334v3M275 343v3M277 76v3M277 193v3M277 334v6M277 346v3M279 67v3M279 76v3M279 190v3M281 73v9M283 79v3M283 187v3M285 73v3M285 79v3M285 190v3M287 196v3M289 55v3M289 73v6M289 202v3M289 217v3M291 73v6M291 202v3M293 79v3M293 196v3M295 202v3M295 208v3M297 55v3M297 61v3M297 73v3M297 211v3M299 52v3M299 79v3M299 208v6M299 217v3M301 211v3M303 55v3M305 55v3M305 67v3M307 208v3M309 211v3M311 88v3M311 202v3M311 211v3M313 88v3M313 199v6M315 208v3M317 202v3M317 214v3M319 52v3M319 211v3M321 85v3M321 205v12M323 55v3M325 85v3M327 52v3M327 220v3M327 343v9M327 355v3M329 217v3M329 346v9M331 355v3M331 361v6M333 73v3M333 235v3M333 328v3M333 355v3M335 337v3M335 343v6M335 352v3M337 226v3M337 346v3M339 52v6M339 229v3M341 94v3M341 220v3M343 55v3M343 226v3M345 52v3M345 58v3M345 76v3M349 79v3M349 217v6M351 226v3M353 61v6M353 70v6M353 217v3M355 61v3M355 217v6M355 226v3M357 217v6M359 226v3M359 403v2M361 226v3M361 394v3M363 214v3M363 226v3M363 235v3M365 64v3M365 229v12M365 391v3M367 226v3M367 232v3M367 388v6M369 394v6M371 214v3M371 223v6M371 232v3M371 388v6M373 61v3M373 217v3M373 229v3M373 394v3M375 214v3M375 382v6M375 397v8M377 232v6M377 283v6M377 403v2M379 277v6M379 382v3M381 238v3M381 265v3M381 289v3M381 373v3M383 238v3M383 259v3M383 268v9M383 286v3M383 376v3M385 235v3M385 379v3M387 247v6M387 274v9M389 262v9M389 385v3M389 391v3M389 397v6M391 256v3M391 268v3M391 274v3M391 280v9M391 379v12M391 394v3M393 61v3M393 259v9M393 394v3M395 52v3M395 223v6M395 259v3M395 265v3M395 280v3M395 286v3M395 388v3M397 67v3M397 220v6M397 262v6M399 217v6M399 256v6M399 265v3M399 388v6M401 55v6M401 220v6M401 229v3M401 253v3M401 280v3M401 382v3M403 253v6M403 265v3M403 271v3M403 388v9M405 211v6M405 265v6M407 217v3M407 274v3M409 220v3M409 379v3M411 58v3M411 64v3M411 217v3M411 274v3M411 394v3M413 217v3M413 268v9M413 376v3M413 394v3M415 70v3M415 217v3M415 247v6M415 265v3M415 379v6M415 391v3M417 262v3M417 370v3M417 376v3M417 394v6M419 52v3M419 67v3M419 73v3M419 217v3M419 244v3M419 373v3M421 76v3M421 217v3M421 244v3M421 370v3M423 220v3M423 244v3M423 268v3M423 367v3M423 394v6M423 403v2M425 223v3M425 241v3M425 370v3M425 400v3M427 262v6M427 379v3M427 388v6M429 82v3M429 265v3M429 370v6M429 379v3M429 391v6M431 217v3M431 247v3M431 265v3M431 373v3M433 217v3M433 262v3M433 373v3M435 220v3M435 241v3M435 370v3M435 400v3M437 79v3M437 220v3M437 238v6M437 373v3M439 55v3M439 226v3M439 241v3M439 403v2M441 82v3M441 226v3M441 241v3M441 364v3M443 235v3M443 364v3M445 79v3M445 232v3M445 358v6M445 394v3M445 403v2M447 73v3M447 265v3M447 361v3M447 397v6M449 61v3M449 67v3M449 76v3M449 364v3M449 400v3M451 223v3M451 238v3M451 262v3M451 367v3M451 394v3M453 61v3M453 76v3M453 262v3M453 358v3M455 265v3M457 358v6M457 394v9M459 217v3M459 223v3M461 265v3M461 403v2M463 223v3M465 358v3M467 265v3M467 397v8M469 220v9M469 394v3M471 223v3M473 223v3M473 367v3M475 364v3M475 394v6M477 364v3M477 394v3M479 226v3M479 370v3M481 397v3M483 229v3M483 367v6M483 397v3M483 403v2M485 262v3M487 223v9M487 373v3M489 217v3M491 217v3M491 226v6M493 262v3M493 394v3M495 223v3M495 379v3M497 379v3M497 394v6M501 400v5M503 379v3M503 403v2M505 379v3M507 382v6M507 403v2M509 397v3M511 379v3M511 403v2M515 376v3M521 265v3M523 265v3M523 382v3M525 382v6M527 265v3M527 382v3M531 268v3M533 265v3M533 382v3M535 268v3M537 265v6M541 265v6M541 382v3M543 265v6M543 385v6M543 394v3M545 268v3M545 385v6M545 397v3M547 271v3M547 385v3M549 274v3M549 379v3M551 382v3M551 391v3M553 382v3M555 388v6M557 394v3M557 403v2M559 391v3M561 268v3M561 391v3M563 394v6M563 403v2M565 391v6M567 262v3M569 262v3M571 391v6M573 262v3M573 391v3M577 391v3M581 262v3M583 397v3M585 259v3M585 397v3M587 259v3M587 391v3M591 262v3M591 391v3M593 259v3M593 391v3M599 256v3M601 256v3M603 253v3M605 259v3M607 253v3M607 397v3M609 253v3M613 394v3M615 256v3M617 250v3M619 247v6M619 403v2M621 244v6M623 244v6M625 241v3M625 397v6M627 238v6M629 244v6M631 238v3M631 397v3M631 403v2M633 241v3M633 250v3M633 394v3M633 403v2M635 244v3M635 388v3M635 394v3M637 394v9M643 247v3M643 394v9"/>
<path stroke="#00ffd2" d="M141 178v3M145 169v3M145 193v3M145 295v3M147 163v3M147 169v3M147 175v3M147 181v3M147 187v12M147 205v3M147 226v3M147 241v3M147 247v6M147 289v3M149 85v3M149 130v3M149 136v6M151 76v3M151 97v3M151 130v3M151 136v3M153 97v3M153 142v3M159 79v3M159 94v3M159 112v3M163 76v3M165 109v3M165 118v3M165 148v3M165 310v3M165 325v3M167 268v6M167 280v6M167 331v3M167 343v3M169 73v3M169 154v3M169 253v3M169 352v3M169 358v9M169 373v3M171 199v3M171 223v3M171 367v3M173 157v6M173 208v9M175 64v6M175 184v3M177 73v3M177 190v9M179 64v3M179 163v3M179 190v3M181 76v3M181 127v3M181 364v3M183 124v3M183 367v6M183 376v3M185 364v3M187 67v6M187 172v3M187 181v6M189 175v3M191 169v6M191 187v3M193 73v6M193 187v3M195 61v3M195 73v3M199 70v3M199 400v3M201 397v6M203 67v3M203 73v3M203 256v3M203 268v3M203 295v6M203 307v3M203 319v3M203 325v3M203 331v6M203 355v3M203 367v12M203 388v3M205 253v6M205 265v9M205 277v9M205 292v6M205 301v6M205 313v6M205 322v6M205 340v3M205 349v6M207 256v3M207 274v3M207 310v3M207 316v3M209 70v3M211 220v3M211 238v3M213 214v9M217 199v3M217 208v3M217 214v6M217 223v3M219 199v9M219 211v3M219 217v3M219 223v3M219 319v3M221 196v6M221 211v3M223 58v3M223 64v3M223 73v3M223 175v3M223 196v3M225 73v3M225 205v3M225 217v3M225 223v3M225 244v3M225 262v3M225 268v3M225 280v3M225 295v3M225 316v3M225 325v3M225 349v3M225 358v6M227 67v3M227 220v3M227 268v3M227 331v3M227 352v3M227 358v3M229 58v3M229 64v3M229 73v3M229 214v6M229 310v3M229 334v6M229 343v12M231 217v3M231 343v3M231 358v3M233 214v3M235 58v6M235 70v3M239 52v3M239 64v3M239 70v3M239 211v6M241 205v6M243 202v3M243 328v3M245 73v3M245 205v3M247 67v3M249 67v3M249 202v3M251 70v3M251 202v6M253 61v3M255 58v6M255 208v3M259 70v6M261 313v3M263 298v3M263 334v12M265 52v3M265 292v3M265 304v3M265 343v3M267 289v6M267 298v3M267 307v6M267 346v3M269 85v3M269 316v6M271 52v3M271 349v3M273 196v3M273 322v3M273 346v3M275 190v3M275 337v6M277 70v3M277 202v3M277 340v6M279 55v3M281 190v3M287 70v9M287 199v3M289 52v3M289 67v3M289 214v3M291 61v3M291 211v3M293 202v3M293 208v3M295 55v6M295 76v3M295 205v3M295 211v6M299 76v3M299 223v3M301 52v6M303 211v6M305 61v3M305 70v3M305 214v3M307 211v6M309 55v3M309 76v3M311 79v3M313 52v3M313 208v3M315 85v3M315 211v6M317 217v3M319 55v3M319 85v3M319 214v6M321 82v3M321 217v3M323 217v3M325 82v3M325 217v3M327 55v3M327 79v3M327 223v3M327 337v6M327 352v3M327 358v6M329 52v3M329 85v3M329 334v6M329 364v3M331 61v3M331 76v3M331 85v3M331 223v6M331 238v3M331 328v6M331 358v3M331 367v6M333 61v6M333 229v6M333 244v3M333 358v3M333 367v3M333 385v3M335 226v3M335 334v3M335 349v3M335 355v3M335 367v3M337 52v3M337 79v3M337 229v3M337 334v6M337 343v3M337 349v3M337 355v3M339 352v3M341 223v3M343 229v3M345 73v3M345 229v3M345 385v6M345 403v2M347 403v2M349 70v3M349 226v6M351 70v6M351 385v3M351 391v3M351 400v5M353 229v3M353 394v3M357 64v3M357 226v3M359 229v15M359 379v3M359 385v3M359 394v3M359 400v3M361 232v6M361 391v3M361 397v3M363 229v3M363 379v3M363 403v2M365 241v3M365 385v3M365 394v11M367 235v3M367 394v3M369 241v3M369 280v3M369 385v3M369 403v2M371 64v3M371 235v3M371 385v3M373 382v6M373 397v3M375 235v3M375 274v3M375 280v3M375 376v3M375 394v3M377 238v3M377 259v3M377 277v6M377 289v3M377 376v3M379 265v3M379 283v9M379 376v3M381 241v3M381 247v3M381 253v6M381 274v3M381 370v3M383 244v6M383 253v6M383 289v3M383 373v3M385 256v6M385 265v12M385 283v3M387 283v3M387 370v6M389 253v9M389 274v3M389 382v3M391 271v3M391 277v3M391 376v3M391 391v3M393 256v3M393 286v3M393 400v3M395 55v3M395 253v6M395 271v6M395 289v3M395 379v6M395 391v9M397 55v6M397 256v6M397 385v3M397 391v3M397 400v3M399 52v6M399 223v3M399 268v6M399 277v3M399 400v3M401 64v3M401 226v3M401 250v3M401 277v3M401 283v3M401 376v6M401 397v8M403 52v3M403 70v3M403 214v3M403 268v3M405 253v3M405 262v3M405 271v3M405 388v9M407 67v3M407 220v3M407 382v3M409 52v3M409 70v3M409 280v3M409 394v9M411 52v3M411 250v3M411 277v3M411 376v3M411 397v3M413 277v3M413 397v8M415 52v3M415 58v3M415 220v3M415 268v3M415 373v6M415 394v3M417 220v3M417 268v6M417 403v2M419 61v3M419 223v3M419 268v3M419 394v3M419 403v2M421 52v3M421 61v3M421 70v3M421 241v3M421 268v6M421 367v3M421 397v8M423 67v3M423 223v6M423 400v3M425 67v3M425 73v3M425 271v3M427 82v3M427 217v6M427 367v9M427 394v3M429 244v3M429 367v3M429 400v5M431 82v3M431 244v3M431 370v3M433 220v3M433 241v6M433 265v3M435 223v6M435 238v3M435 268v3M435 367v3M435 397v3M437 52v3M437 223v6M437 232v6M437 268v3M437 364v6M437 397v3M437 403v2M439 61v3M439 235v6M439 364v3M439 397v6M441 229v3M441 265v3M441 400v3M443 67v3M443 265v3M443 361v3M443 400v5M445 58v6M445 226v6M445 235v6M445 265v3M447 61v3M447 76v3M447 403v2M449 64v3M449 73v3M451 58v3M451 79v6M451 226v3M451 364v3M453 67v6M453 265v3M453 361v3M453 397v3M453 403v2M455 403v2M457 262v3M457 403v2M459 358v3M459 394v3M461 400v3M463 400v3M465 223v3M465 262v6M465 397v3M469 262v3M469 358v3M469 400v3M471 226v3M471 361v3M471 397v3M473 358v9M473 394v3M473 400v3M475 361v3M475 403v2M477 262v3M479 262v3M479 364v3M481 367v3M481 394v3M481 400v3M483 262v6M483 400v3M485 271v3M485 367v6M487 220v3M487 394v3M489 220v9M489 262v3M489 367v3M489 400v5M491 220v6M491 262v3M491 373v3M491 403v2M493 220v9M493 403v2M495 376v3M495 400v5M497 265v3M499 394v3M501 265v3M501 379v3M501 397v3M505 265v3M511 265v3M513 265v3M513 376v3M515 268v3M515 373v3M517 379v3M519 379v3M525 265v3M529 268v3M529 382v3M531 379v3M535 271v3M539 382v3M543 382v3M545 391v3M551 268v3M553 268v3M553 385v3M555 382v3M557 265v3M557 391v3M557 397v3M559 268v3M559 388v3M561 385v6M563 265v3M565 262v3M567 394v3M569 394v3M571 262v3M573 394v3M575 262v3M575 391v3M577 262v3M579 391v3M581 394v3M583 262v3M585 394v3M587 394v3M589 262v3M589 394v3M591 265v3M593 262v3M597 262v3M597 391v3M599 259v3M601 394v3M603 394v3M607 394v3M609 256v3M609 394v3M613 253v6M615 253v3M615 394v3M617 253v3M621 250v3M621 397v3M623 250v3M625 244v3M625 403v2M627 397v3M629 250v9M631 241v3M631 394v3M633 247v3M635 250v6M635 262v3M635 391v3M637 238v3M637 253v3M637 403v2M641 244v3M641 400v3M643 238v6M643 253v3M643 388v6M643 403v2"/>
<path stroke="#00ffbf" d="M145 181v3M147 199v3M147 235v6M147 244v3M149 112v3M149 133v3M149 145v3M151 88v3M151 94v3M151 118v6M151 139v3M151 145v3M153 100v3M159 82v6M159 106v3M159 115v3M159 136v3M159 142v3M161 145v6M163 148v3M163 307v6M165 127v3M165 316v3M165 322v3M167 154v3M167 235v3M167 253v3M167 259v3M167 265v3M167 274v3M167 355v3M167 397v3M167 403v2M169 226v3M169 244v9M169 379v3M169 388v3M169 394v3M171 202v3M171 208v3M173 64v3M173 163v3M173 196v3M175 187v3M177 76v3M177 163v3M177 184v3M179 67v3M179 169v3M179 178v12M181 163v3M183 193v3M183 373v3M185 76v3M185 166v3M185 190v3M185 367v3M187 64v3M187 178v3M189 61v3M189 172v3M189 181v6M191 181v3M191 373v3M193 181v6M197 70v3M199 61v3M201 61v3M203 70v3M203 280v3M203 361v6M203 379v6M205 52v3M205 250v3M205 259v6M205 307v3M205 328v12M205 346v3M205 358v3M207 223v3M207 250v6M207 268v6M207 301v6M207 313v3M207 322v3M207 328v3M207 340v3M209 220v3M209 235v9M209 247v3M211 223v3M211 232v6M211 241v3M213 223v3M213 238v3M213 247v3M215 214v12M215 232v6M217 202v3M217 211v3M219 208v3M219 220v3M219 226v3M219 232v3M221 202v9M221 214v3M221 223v6M223 67v3M223 199v3M223 310v3M223 334v3M225 208v3M225 214v3M225 220v3M225 250v3M225 256v6M225 265v3M225 271v6M225 283v9M225 298v6M225 322v3M225 328v3M225 367v3M225 373v3M225 379v3M227 61v3M227 208v12M227 250v6M227 286v3M227 304v3M227 316v6M227 361v6M229 67v6M229 250v3M229 331v3M229 340v3M229 355v3M229 361v3M231 220v6M231 325v3M231 340v3M231 346v3M231 355v3M231 361v3M233 64v3M233 70v3M235 64v3M237 325v3M239 334v3M241 55v3M241 211v3M241 328v3M243 70v3M243 205v3M245 55v3M245 208v3M247 52v9M247 70v3M247 205v3M249 55v3M249 205v3M253 67v6M255 67v3M257 61v3M259 208v3M261 61v3M261 70v3M261 208v3M261 310v3M261 316v9M261 328v6M261 337v3M261 346v3M263 52v3M263 295v3M263 307v3M263 346v3M265 55v3M265 196v3M265 280v3M265 352v3M267 85v3M267 295v3M267 301v6M269 193v3M269 346v3M271 73v3M271 316v3M271 352v3M271 358v3M273 55v3M273 193v3M273 349v3M273 361v3M275 331v3M277 196v6M277 325v3M277 352v3M279 73v3M279 193v3M281 55v3M283 76v3M285 76v3M287 58v3M287 64v3M289 64v3M289 205v9M291 52v3M291 205v6M291 214v6M293 58v3M293 205v3M295 61v3M295 217v3M297 58v3M297 64v3M297 76v3M297 223v3M299 73v3M299 220v3M301 73v3M301 214v9M303 76v3M303 223v3M305 58v3M305 220v3M307 217v3M309 52v3M309 73v3M309 214v9M311 52v6M311 82v3M311 208v3M311 214v3M313 211v3M315 52v6M315 79v6M317 79v3M317 211v3M319 79v3M319 220v3M321 52v3M321 220v3M323 52v3M323 220v6M325 52v3M325 220v6M325 340v3M327 58v3M327 226v3M327 373v3M329 79v6M329 220v9M329 331v3M329 358v3M329 367v3M331 55v3M331 229v3M331 373v3M333 70v3M333 313v3M333 325v3M333 370v3M333 376v9M333 394v3M335 82v3M335 229v3M335 328v6M335 358v6M337 232v3M337 331v3M337 352v3M339 82v3M339 337v9M341 226v3M343 73v3M343 232v3M343 397v3M345 70v3M345 232v6M345 382v3M345 391v12M347 58v3M347 67v3M347 229v6M347 385v6M347 394v3M349 58v3M349 64v6M349 76v3M349 232v3M349 394v3M351 61v3M351 232v3M351 241v3M351 376v3M351 388v3M351 394v6M353 232v12M353 373v3M353 379v3M353 385v9M353 400v5M355 64v6M355 229v3M355 235v6M355 382v3M355 397v3M355 403v2M357 229v9M357 382v3M357 394v3M357 403v2M359 247v3M359 376v3M359 382v3M359 388v6M359 397v3M361 229v3M361 382v9M361 403v2M363 388v12M365 277v6M367 238v3M367 385v3M367 397v8M369 235v6M369 379v6M369 400v3M371 382v3M371 394v6M371 403v2M373 238v3M373 277v6M373 286v3M373 400v3M375 238v3M375 277v3M375 286v3M375 379v3M377 241v3M377 262v15M379 238v3M379 262v3M379 268v9M381 244v3M381 250v3M381 367v3M383 250v3M383 370v3M385 244v3M385 250v3M385 277v6M385 286v3M385 376v3M387 238v6M387 289v3M389 232v3M389 271v3M389 277v6M389 286v3M389 379v3M391 235v6M391 253v3M391 373v3M393 229v6M393 268v9M393 283v3M393 382v9M393 403v2M395 229v3M395 283v3M395 385v3M395 400v5M397 52v3M397 61v3M397 226v6M397 268v9M397 280v3M397 286v3M397 388v3M397 394v3M399 67v3M399 226v3M399 274v3M399 280v3M399 286v3M399 379v9M399 394v3M401 232v3M401 373v3M403 217v3M403 223v6M403 274v6M403 379v9M405 70v3M405 274v3M405 385v3M407 226v3M407 379v3M407 394v11M409 67v3M409 250v3M409 277v3M409 376v3M409 403v2M411 55v3M411 220v6M411 247v3M411 400v3M413 64v3M413 223v6M413 247v3M413 280v3M413 286v3M413 370v6M415 274v3M415 370v3M415 403v2M417 61v3M417 223v3M417 244v3M417 367v3M417 400v3M419 220v3M419 367v6M419 397v3M421 274v3M421 364v3M423 55v3M423 70v3M423 241v3M423 271v3M425 58v3M425 70v3M425 226v6M425 274v6M425 367v3M425 397v3M425 403v2M427 244v3M427 268v3M427 397v6M429 52v6M429 79v3M429 220v3M429 241v3M429 268v3M431 79v3M431 220v3M431 268v3M431 367v3M431 394v9M433 82v3M433 223v6M433 232v3M433 268v3M433 370v3M433 397v6M435 229v9M435 271v3M435 364v3M435 403v2M437 61v3M437 229v3M437 358v3M439 58v3M439 73v6M439 229v3M439 268v3M439 361v3M441 58v6M441 232v9M441 361v3M441 397v3M443 64v3M443 70v3M443 76v6M443 229v6M443 238v3M443 358v3M443 397v3M445 76v3M445 400v3M447 268v3M447 358v3M449 268v3M449 403v2M451 265v3M451 361v3M451 397v3M453 400v3M455 400v3M459 220v3M461 268v3M461 355v3M463 262v3M465 403v2M467 268v6M469 397v3M469 403v2M471 262v3M471 400v3M473 262v3M473 397v3M473 403v2M475 358v3M475 400v3M477 367v3M477 397v8M479 265v3M479 361v3M479 367v3M479 403v2M481 262v3M481 364v3M483 364v3M485 364v3M485 400v3M487 397v3M487 403v2M491 397v6M493 265v3M493 376v3M493 397v6M495 397v3M497 400v5M499 265v3M499 379v3M499 397v3M499 403v2M503 265v3M507 379v3M513 373v3M517 265v3M517 376v3M521 379v3M523 379v3M525 268v3M525 379v3M527 268v3M529 379v3M531 271v3M535 379v3M537 271v3M537 379v3M539 268v3M545 271v3M545 382v3M547 274v3M547 379v3M549 376v3M551 385v3M553 379v3M555 385v3M557 388v3M559 271v3M561 271v3M563 268v3M563 391v3M567 391v3M569 391v3M573 265v3M573 388v3M577 388v3M579 265v3M583 394v3M585 262v3M589 265v3M589 391v3M595 262v3M595 391v3M599 262v3M601 262v3M601 391v3M603 256v6M605 391v3M609 259v3M611 253v6M611 394v3M617 397v3M621 253v3M627 244v6M629 391v6M631 244v3M631 253v3M633 244v3M633 256v3M633 388v3M635 256v3M635 265v3M635 277v3M635 382v3M637 241v6M637 250v3M639 238v3M641 238v3M641 250v3M641 394v3M641 403v2M643 244v3M643 250v3M643 256v6M643 310v3M643 385v3"/>
<path stroke="#00ffac" d="M143 388v3M145 172v9M147 67v3M147 295v3M149 118v3M149 148v3M151 85v3M151 103v3M151 109v3M151 124v3M153 88v6M153 109v3M153 145v3M159 88v3M159 97v6M159 121v15M159 139v3M163 73v3M163 313v12M165 76v3M165 151v3M165 307v3M165 328v3M165 340v3M167 223v3M167 238v3M167 244v9M167 262v3M167 352v3M167 358v9M167 370v3M167 376v3M167 382v3M167 391v3M169 157v3M169 220v3M169 229v15M169 367v6M169 376v3M169 382v3M169 391v3M169 397v6M171 166v3M171 196v3M171 205v3M171 211v6M173 61v3M173 172v6M173 181v3M173 193v3M175 61v3M175 163v3M175 172v3M175 178v3M175 190v3M177 166v3M177 175v3M179 166v3M179 172v6M181 73v3M181 166v3M181 187v6M183 76v3M183 169v3M185 169v3M185 187v3M187 175v3M189 178v3M191 70v3M191 175v6M191 184v3M193 172v9M197 61v3M197 67v3M199 64v3M203 61v3M203 385v3M203 391v3M205 55v3M205 319v3M205 361v6M205 382v3M207 259v9M207 280v3M207 286v9M207 298v3M207 307v3M207 319v3M207 331v3M209 223v3M209 229v6M209 244v3M209 271v3M211 229v3M211 244v3M211 250v3M213 226v3M213 232v3M213 241v6M215 229v3M217 220v3M217 226v3M219 253v3M219 310v9M221 220v3M221 229v3M221 238v3M221 244v3M221 310v6M221 334v3M223 61v3M223 70v3M223 214v3M223 220v6M225 226v3M225 241v3M225 277v3M225 370v3M225 385v3M225 391v3M227 70v3M227 223v3M227 229v3M227 259v3M227 265v3M227 271v6M227 292v12M227 307v3M227 325v6M227 367v6M227 376v3M227 382v12M229 220v6M229 244v3M229 289v3M229 304v3M229 313v6M229 328v3M229 364v3M231 262v3M231 310v9M231 328v12M231 349v6M233 67v3M233 217v3M235 217v3M237 217v3M237 340v3M239 61v3M239 331v3M239 337v3M241 52v3M241 58v3M241 70v3M241 331v6M243 55v3M243 208v3M243 331v6M245 52v3M245 325v3M247 331v3M249 52v3M249 64v3M253 208v6M255 70v3M257 67v3M257 211v3M259 67v3M259 211v3M261 283v9M261 307v3M261 325v3M261 334v3M261 340v6M263 58v6M263 202v3M263 283v12M263 301v6M263 349v3M263 355v3M265 349v3M265 355v3M267 82v3M267 283v6M267 349v6M269 82v3M269 313v3M271 76v3M271 355v3M273 73v6M275 346v6M275 358v3M277 52v3M277 61v3M277 211v3M277 328v6M277 349v3M277 358v3M279 61v3M279 70v3M279 331v3M279 337v6M281 52v3M281 61v3M281 193v3M283 73v3M283 190v3M285 52v3M285 193v3M285 199v3M287 52v6M291 67v6M291 220v3M293 52v3M293 211v6M295 220v6M297 214v9M299 61v3M299 214v3M303 58v3M303 220v3M305 217v3M305 223v3M307 55v3M307 73v3M309 70v3M313 58v3M313 79v3M313 85v3M313 214v6M315 217v6M317 55v3M317 85v3M317 364v3M319 373v3M321 223v3M323 82v3M323 352v3M325 346v6M327 334v3M327 364v6M327 376v3M327 391v3M329 355v3M329 361v3M331 232v6M331 241v3M331 379v6M331 388v3M333 238v3M333 319v6M333 373v3M333 388v6M335 73v3M335 364v3M337 325v3M337 358v6M337 367v6M337 376v3M339 232v3M339 331v6M339 349v3M339 373v3M341 52v3M343 58v6M343 382v3M343 391v6M345 64v6M345 310v6M345 373v9M347 79v3M347 235v3M347 382v3M347 391v3M347 400v3M349 61v3M349 382v6M349 391v3M349 403v2M351 67v3M351 229v3M351 235v3M351 370v3M351 379v6M353 370v3M353 376v3M353 382v3M355 232v3M355 241v3M355 373v9M355 385v12M357 244v3M357 373v3M357 379v3M357 385v3M357 391v3M357 397v3M359 244v3M359 250v3M361 238v6M363 232v3M363 238v6M363 385v3M363 400v3M365 244v3M365 271v3M365 283v3M365 376v3M367 241v3M367 271v3M367 382v3M369 244v3M369 274v3M369 283v6M371 238v3M371 277v3M371 400v3M373 268v3M373 403v2M375 262v9M375 283v3M375 370v3M377 373v3M379 244v3M379 253v3M379 259v3M379 292v3M379 373v3M383 361v9M385 238v3M385 247v3M385 253v3M387 364v3M389 235v3M389 247v6M389 283v3M389 373v3M391 247v6M391 289v3M391 370v3M393 277v6M393 379v3M393 391v3M393 397v3M395 370v9M397 277v3M397 283v3M397 376v9M397 397v3M397 403v2M399 61v3M399 229v3M399 253v3M399 283v3M399 289v3M399 397v3M399 403v2M401 289v3M401 370v3M403 220v3M403 280v3M403 286v3M403 373v6M403 397v8M405 220v3M405 226v3M405 376v3M405 397v3M405 403v2M407 52v6M407 277v9M407 370v9M409 55v6M409 223v9M409 283v3M409 373v3M411 229v3M411 373v3M411 403v2M413 61v3M413 244v3M413 283v3M413 367v3M415 223v3M415 271v3M415 397v6M417 226v3M419 64v3M419 226v3M419 271v3M421 58v3M421 64v3M421 223v6M423 64v3M423 73v3M423 235v3M423 274v6M423 364v3M425 238v3M425 280v3M425 286v3M425 364v3M427 55v3M427 223v6M427 271v3M427 403v2M429 76v3M429 223v6M429 235v3M429 364v3M429 397v3M431 52v3M431 223v3M431 238v6M431 271v3M431 403v2M433 52v3M433 79v3M433 235v3M433 271v3M433 403v2M435 55v3M437 271v3M437 361v3M437 400v3M439 232v3M439 271v3M441 358v3M443 73v3M443 268v6M445 70v3M445 397v3M447 274v3M451 358v3M451 400v3M455 268v6M459 262v3M459 400v3M463 265v6M463 403v2M465 268v3M465 400v3M467 355v3M471 265v3M471 403v2M475 265v6M477 361v3M479 400v3M481 265v3M481 361v3M481 403v2M483 268v3M485 268v3M487 262v3M487 370v3M487 400v3M489 265v6M491 265v3M491 370v3M493 268v3M493 373v3M495 265v6M497 268v3M497 373v6M499 268v3M499 400v3M503 268v3M503 376v3M505 268v3M505 376v3M507 265v3M507 376v3M509 265v3M509 379v3M511 268v3M511 376v3M513 268v3M515 274v3M515 370v3M519 265v3M521 268v3M521 376v3M523 268v3M527 379v3M529 271v3M533 379v3M535 274v3M541 271v3M543 271v3M543 379v3M551 271v3M553 271v3M555 268v6M561 382v3M565 265v3M567 265v3M567 388v3M569 265v3M571 265v3M577 265v6M579 268v6M579 388v3M581 391v3M583 391v3M587 262v6M593 265v3M599 265v3M599 391v3M605 265v3M607 256v6M613 259v6M613 391v3M615 259v6M617 394v3M619 253v9M619 394v3M621 394v3M623 253v3M623 394v3M625 247v3M627 250v3M627 394v3M629 268v3M631 256v6M631 391v3M633 259v3M633 391v3M635 259v3M635 268v6M635 370v3M637 247v3M637 256v3M637 391v3M639 241v3M639 400v3M641 241v3M641 253v9M641 391v3M643 379v6"/>
<path stroke="#00ff99" d="M135 310v3M135 316v6M135 325v6M135 334v6M135 343v6M135 352v6M135 361v6M135 370v6M135 379v6M135 388v6M135 397v6M137 310v3M137 316v6M137 325v6M137 334v6M137 343v6M137 352v6M137 361v6M137 370v6M137 379v6M137 388v6M137 397v6M139 310v3M139 316v6M139 325v6M139 334v6M139 343v6M139 352v6M139 361v6M139 370v6M139 379v6M139 388v6M139 397v6M143 337v3M147 55v3M147 292v3M149 82v3M149 109v3M149 115v3M149 121v3M149 127v3M149 151v3M149 175v3M151 106v3M151 127v3M151 133v3M151 148v3M153 94v3M153 103v6M153 124v3M153 136v6M153 148v3M155 127v3M155 136v3M155 142v3M157 121v3M157 130v3M157 136v3M157 142v3M159 103v3M159 109v3M159 118v3M159 145v3M161 73v3M161 151v3M163 151v6M163 325v3M163 331v6M163 343v3M165 283v3M165 289v3M165 301v6M165 334v6M165 343v6M167 229v3M167 256v3M167 367v3M167 385v6M167 394v3M167 400v3M169 403v2M171 160v6M171 172v3M171 178v3M173 52v3M173 166v6M173 178v3M173 187v6M175 52v3M175 169v3M175 181v3M177 178v6M181 169v6M183 64v3M183 166v3M183 181v3M183 190v3M185 73v3M185 172v3M185 178v3M189 70v3M193 64v3M201 52v9M201 64v3M203 64v3M203 394v3M203 403v2M205 355v3M205 367v3M205 373v9M205 388v3M207 277v3M207 283v3M207 295v3M207 325v3M207 346v3M209 226v3M209 250v3M209 325v3M211 247v3M211 259v3M211 265v3M211 277v3M211 292v3M211 310v3M211 322v3M211 328v3M213 229v3M213 235v3M213 250v3M213 307v3M213 313v3M213 319v3M215 226v3M215 241v3M215 247v6M217 238v3M217 247v3M217 316v3M219 229v3M219 235v3M219 241v3M219 307v3M219 325v3M221 235v3M221 247v3M221 271v3M221 277v3M221 298v3M221 304v3M221 316v3M221 322v3M223 202v12M223 217v3M223 247v3M223 313v6M223 337v3M225 229v9M225 382v3M225 388v3M225 394v6M227 247v3M227 256v3M227 262v3M227 277v9M227 289v3M227 322v3M227 373v3M227 379v3M229 265v3M229 280v3M229 307v3M229 319v3M229 325v3M229 370v3M231 244v3M231 256v3M231 271v9M231 292v3M231 322v3M237 316v3M237 328v12M237 343v6M237 352v9M239 313v3M239 319v3M239 325v6M239 343v6M239 352v3M241 64v3M241 73v3M241 337v3M243 61v3M243 325v3M243 337v3M245 70v3M245 328v3M245 337v3M247 64v3M247 208v3M247 322v3M247 328v3M249 58v3M249 208v3M249 310v3M251 52v3M251 67v3M255 64v3M255 211v3M255 313v3M257 214v6M261 211v9M261 277v3M261 364v3M263 70v3M263 205v3M263 277v6M263 352v3M265 205v3M265 277v3M267 196v3M269 349v3M269 355v3M271 70v3M271 196v3M271 220v3M271 313v3M271 361v3M273 52v3M273 64v6M273 199v6M275 76v6M275 193v6M275 328v3M275 352v3M277 55v6M277 64v6M277 205v3M277 229v3M277 322v3M277 355v3M279 58v3M279 64v3M279 196v6M279 334v3M279 352v3M279 358v3M281 70v3M281 196v3M281 202v3M283 52v3M283 70v3M283 196v3M285 196v3M287 61v3M287 202v3M287 211v3M287 217v3M289 58v6M289 70v3M289 223v3M291 55v6M293 61v6M293 73v6M295 67v6M299 58v3M299 226v3M301 58v3M301 223v3M303 64v3M303 217v3M303 226v3M305 64v3M305 73v3M305 229v3M307 220v3M309 58v3M311 76v3M311 85v3M317 76v3M317 82v3M317 220v3M319 70v3M319 223v9M319 343v3M321 55v3M321 364v3M323 226v6M323 349v3M323 355v6M325 79v3M325 226v3M325 238v3M327 232v6M327 241v3M327 331v3M327 370v3M327 379v6M329 55v6M329 373v6M329 382v3M331 244v3M331 325v3M331 391v3M333 241v3M333 247v3M333 310v3M333 400v3M335 58v3M335 325v3M335 373v6M335 394v3M337 61v6M337 76v3M337 235v3M337 319v3M337 328v3M337 364v3M337 373v3M339 58v3M339 235v3M339 319v3M339 346v3M339 355v3M343 70v3M343 235v3M343 310v3M343 349v3M343 385v6M345 238v12M345 334v3M347 61v6M347 310v3M347 370v6M347 379v3M347 397v3M349 373v9M349 388v3M349 397v6M351 64v3M351 238v3M353 367v3M353 397v3M355 400v3M357 238v3M357 376v3M357 388v3M357 400v3M359 370v6M361 244v6M361 379v3M363 376v3M363 382v3M365 247v6M365 262v3M365 286v6M365 379v3M367 247v3M367 274v9M367 379v3M369 247v3M369 262v6M369 277v3M369 373v6M371 241v6M371 271v3M371 280v6M371 376v3M373 241v6M373 271v6M373 283v3M373 379v3M375 241v3M375 289v3M377 244v3M377 292v3M377 364v3M379 241v3M379 247v6M379 256v3M379 367v6M381 292v6M381 364v3M383 292v3M385 241v3M385 367v3M385 373v3M387 361v3M387 367v3M389 238v9M389 376v3M391 241v6M393 235v3M393 253v3M395 232v3M395 250v3M395 277v3M397 64v3M397 232v3M397 250v6M397 289v3M399 64v3M399 232v3M399 292v3M399 373v6M401 235v3M401 292v3M403 58v3M403 229v3M405 55v3M405 277v3M405 286v3M405 379v6M407 58v3M407 223v3M407 229v3M407 250v3M409 61v6M409 370v3M411 226v3M411 283v6M411 367v6M413 229v3M413 235v3M413 364v3M415 55v3M415 67v3M415 244v3M417 235v3M417 241v3M417 274v3M417 286v3M417 364v3M419 232v3M419 241v3M419 274v3M419 400v3M421 229v3M421 277v6M423 61v3M423 289v3M423 361v3M425 61v3M425 232v6M425 283v3M427 52v3M427 58v3M427 79v3M427 235v3M427 241v3M427 364v3M429 271v6M431 229v3M431 235v3M431 364v3M433 55v3M433 229v3M433 238v3M433 361v9M435 58v3M435 67v3M435 358v6M437 67v3M437 73v3M437 274v3M439 64v3M439 358v3M441 268v3M441 403v2M445 268v3M447 280v3M449 274v3M451 64v6M451 73v3M451 403v2M453 268v6M455 355v3M457 265v3M459 397v3M459 403v2M461 271v3M463 271v3M463 355v3M465 355v3M469 265v6M471 268v3M471 358v3M473 265v3M475 271v3M477 265v6M477 358v3M479 358v3M487 265v3M489 370v3M493 370v3M495 373v3M501 268v3M501 373v3M509 268v3M511 373v3M513 271v3M515 271v3M517 268v3M519 268v3M527 271v3M531 376v3M533 268v6M535 376v3M537 274v3M539 271v3M539 379v3M541 379v3M545 274v3M545 379v3M547 376v3M549 277v3M553 274v3M557 268v3M559 382v6M563 385v3M569 388v3M571 388v3M575 265v3M583 265v3M583 388v3M585 391v3M589 388v3M591 268v3M593 268v3M597 388v3M605 262v3M607 391v3M609 391v3M611 391v3M613 268v3M615 265v3M615 391v3M617 256v6M621 256v3M623 256v3M625 250v3M625 394v3M627 253v3M629 259v3M631 247v6M631 277v3M633 253v3M633 277v3M635 274v3M635 280v3M635 331v3M635 355v3M635 376v6M637 259v3M639 394v6M639 403v2M641 247v3M643 265v3"/>
<path stroke="#00ff87" d="M135 73v63M137 73v15M137 94v21M137 118v18M139 73v36M139 112v24M141 304v6M141 331v3M141 361v3M141 373v3M141 394v3M141 403v2M143 364v3M143 370v3M143 385v3M147 52v3M147 64v3M149 73v6M149 154v3M149 160v3M149 172v3M149 220v3M151 79v6M151 112v6M153 82v3M153 115v3M155 103v3M155 121v6M155 139v3M157 79v3M157 103v3M157 109v3M157 139v3M157 151v3M159 76v3M159 148v3M161 154v3M161 337v3M163 304v3M163 328v3M163 337v6M163 352v3M163 379v3M163 403v2M165 73v3M165 280v3M165 286v3M165 292v3M165 298v3M165 331v3M165 388v3M167 70v3M167 157v3M167 226v3M167 232v3M167 373v3M167 379v3M169 160v3M169 169v3M169 205v3M169 211v9M171 52v3M171 169v3M171 175v3M171 181v15M173 70v3M173 184v3M175 58v3M175 166v3M175 175v3M177 67v6M177 169v3M177 187v3M181 67v3M181 178v3M181 184v3M183 67v6M183 172v3M183 184v6M185 67v6M185 175v3M185 184v3M191 64v3M193 70v3M195 58v3M199 52v3M203 400v3M205 370v3M205 394v3M205 403v2M207 334v6M207 343v3M207 352v3M207 358v3M209 265v3M209 274v3M209 280v3M209 286v3M209 295v9M209 310v3M209 316v6M209 328v3M211 253v6M211 268v3M211 274v3M211 286v3M211 301v3M211 307v3M211 316v6M211 325v3M213 262v3M213 271v3M213 277v3M213 292v3M213 322v3M215 238v3M215 316v3M217 229v3M219 238v3M219 244v9M219 271v3M219 283v3M219 289v3M219 304v3M219 328v6M219 337v6M221 232v3M221 241v3M221 253v3M221 262v3M221 268v3M221 286v3M221 292v3M221 301v3M221 319v3M221 331v3M223 226v3M223 244v3M223 268v3M223 292v3M223 307v3M223 319v3M223 325v3M223 343v6M225 238v3M225 376v3M225 403v2M227 226v3M227 232v3M229 253v3M229 271v6M229 283v6M229 292v12M229 322v3M229 373v6M231 229v3M231 289v3M231 301v3M231 307v3M231 319v3M231 364v9M231 376v3M233 316v3M233 340v3M237 220v3M237 244v3M237 313v3M237 319v6M237 361v6M239 217v6M239 310v3M239 349v3M241 67v3M241 214v3M241 319v3M241 325v3M241 340v3M243 58v3M243 211v6M243 319v3M243 340v3M243 346v3M243 355v6M245 67v3M245 331v6M247 61v3M247 211v3M247 334v3M249 313v3M249 331v3M251 208v3M255 214v3M257 220v3M257 313v3M259 214v6M259 223v3M259 310v3M261 67v3M261 220v3M261 295v6M261 304v3M261 349v6M263 208v3M263 214v3M263 223v3M263 274v3M263 361v3M265 199v3M265 358v3M267 280v3M267 355v3M269 307v3M269 352v3M271 55v3M271 202v6M271 307v3M273 58v3M273 205v3M273 211v3M273 316v3M273 364v3M275 52v3M275 73v3M275 325v3M275 355v3M277 361v6M279 202v3M279 214v3M279 343v9M281 67v3M281 199v3M283 58v3M283 193v3M285 55v3M285 70v3M285 202v3M287 205v6M287 214v3M289 220v3M291 223v6M293 67v6M293 217v3M297 70v3M297 226v3M301 67v3M303 73v3M305 226v3M307 58v3M307 70v3M309 223v3M311 217v3M313 55v3M313 82v3M313 220v3M315 73v3M317 52v3M317 58v3M317 349v3M317 367v6M317 385v3M319 349v6M319 361v6M319 379v3M319 385v9M321 232v3M321 355v6M321 385v3M323 79v3M323 238v3M323 361v6M323 373v6M323 388v3M325 76v3M325 229v3M325 235v3M325 331v3M325 352v15M325 370v6M327 70v3M327 238v3M327 244v6M327 325v3M327 385v6M329 76v3M329 232v6M329 370v3M331 67v3M331 247v3M331 316v9M331 376v3M331 385v3M331 394v3M331 400v3M333 250v6M333 397v3M333 403v2M335 64v3M335 70v3M335 79v3M335 232v6M335 241v3M335 322v3M335 370v3M335 388v3M337 58v3M337 73v3M337 238v3M337 316v3M337 379v3M337 388v3M339 322v6M339 361v9M339 376v3M339 397v3M341 55v3M341 229v6M343 67v3M343 79v3M343 241v3M343 322v3M343 346v3M343 376v3M343 400v5M345 61v3M345 316v9M345 340v6M345 349v3M345 355v6M345 370v3M347 244v6M347 313v6M347 367v3M347 376v3M349 235v3M349 244v3M349 364v3M349 370v3M351 367v3M351 373v3M353 244v3M353 364v3M355 364v3M357 241v3M357 370v3M359 271v3M359 280v3M359 286v3M361 250v3M361 268v3M361 274v3M361 280v3M361 286v6M361 376v3M363 244v6M363 271v6M363 280v6M363 373v3M365 265v3M365 295v3M365 370v3M367 244v3M367 268v3M367 283v3M367 376v3M369 250v3M369 259v3M369 268v3M369 370v3M371 274v3M371 379v3M373 370v3M373 376v3M375 247v3M375 256v6M375 271v3M375 292v3M375 373v3M377 247v12M377 370v3M379 295v3M379 361v3M381 361v3M385 370v3M387 292v3M387 352v3M389 370v3M391 292v3M391 367v3M393 250v3M393 373v6M395 247v3M397 235v3M397 373v3M401 61v3M401 241v6M401 295v6M401 367v3M403 55v3M403 61v9M403 232v3M403 283v3M403 292v3M405 52v3M405 67v3M405 223v3M405 280v6M405 373v3M405 400v3M407 286v3M409 232v3M409 244v6M409 286v3M411 61v3M411 232v3M411 238v3M411 244v3M411 280v3M413 232v3M413 238v3M413 289v3M415 277v6M415 286v3M415 364v6M417 229v6M417 277v3M417 289v3M419 229v3M419 235v6M419 280v3M419 286v3M419 358v3M419 364v3M421 232v9M421 283v6M423 229v6M423 280v6M425 361v3M427 274v3M429 229v6M429 238v3M429 277v3M431 55v3M431 232v3M431 361v3M433 76v3M433 274v3M435 61v6M435 73v6M437 58v3M437 76v3M439 70v3M441 67v3M441 76v6M441 271v3M445 64v3M445 271v3M445 355v3M447 271v3M447 355v3M449 271v3M449 355v3M451 61v3M451 70v3M451 268v3M453 355v3M455 274v3M457 268v3M457 355v3M459 265v3M463 274v3M465 271v3M467 352v3M473 268v3M479 268v3M481 268v3M483 271v3M483 358v6M485 274v3M485 358v6M487 364v3M491 268v3M497 370v3M499 373v3M501 271v3M501 376v3M507 268v6M509 376v3M519 376v3M527 376v3M531 274v3M543 274v3M543 376v3M549 280v3M551 379v3M553 277v3M557 385v3M561 274v3M561 373v3M563 388v3M565 268v3M565 385v3M567 268v3M571 268v3M571 385v3M573 385v3M575 268v3M575 388v3M579 385v3M581 265v3M581 388v3M585 265v3M585 388v3M589 268v3M591 271v3M595 265v3M595 388v3M597 265v3M603 262v3M603 391v3M605 388v3M609 262v3M611 259v3M611 388v3M613 388v3M615 268v3M619 391v3M621 391v3M623 259v3M629 262v3M629 277v3M629 328v3M629 367v3M629 382v9M631 262v3M631 268v3M631 388v3M633 265v3M633 274v3M633 310v3M633 382v6M635 283v3M635 304v9M635 319v6M635 340v3M635 352v3M635 358v3M635 364v3M637 265v6M637 382v9M639 247v9M639 391v3M641 385v6M641 397v3M643 262v3M643 268v3M643 313v3"/>
<path stroke="#00ff74" d="M137 88v6M137 115v3M139 109v3M141 301v3M141 316v3M141 334v3M141 346v3M141 370v3M141 376v3M141 388v3M143 298v3M143 304v3M143 313v3M143 322v3M143 328v6M143 340v3M143 376v3M143 382v3M143 403v2M147 58v3M149 70v3M149 124v3M149 157v3M149 163v9M149 280v3M151 73v3M151 151v9M151 163v3M151 169v3M151 175v3M153 79v3M153 85v3M153 130v3M155 79v3M155 118v3M155 145v3M157 82v6M157 94v6M157 145v3M161 310v12M161 325v3M161 334v3M161 343v3M163 274v6M163 295v9M163 346v3M163 355v3M163 361v3M163 370v6M163 382v3M163 388v3M163 394v3M165 271v9M165 295v3M165 349v9M165 400v3M167 67v3M167 160v3M167 220v3M167 241v3M169 163v3M169 184v6M169 202v3M169 208v3M173 55v3M177 172v3M181 64v3M181 175v3M181 181v3M183 175v3M185 61v6M185 181v3M187 52v9M199 58v3M203 397v3M205 385v3M205 391v3M205 397v6M207 349v3M207 355v3M207 364v3M207 373v3M209 253v3M209 259v3M209 268v3M209 277v3M209 289v6M209 304v3M209 313v3M209 322v3M211 262v3M211 271v3M211 280v3M211 289v3M211 298v3M211 304v3M211 313v3M211 334v3M213 256v6M213 265v3M213 283v3M213 295v3M213 301v6M213 310v3M213 316v3M213 325v6M215 244v3M215 253v6M215 262v3M215 271v3M215 307v9M215 322v6M215 334v3M217 232v3M217 244v3M217 250v3M217 310v6M217 319v3M219 256v3M219 262v9M219 277v6M219 295v9M221 250v3M221 256v6M221 265v3M221 283v3M221 289v3M221 307v3M221 325v3M221 337v6M223 250v3M223 265v3M223 271v3M223 277v3M223 283v6M223 295v3M223 301v6M223 322v3M223 328v6M223 340v3M225 400v3M227 241v6M227 394v6M229 226v3M229 235v3M229 247v3M229 259v6M229 277v3M229 367v3M229 379v3M229 385v9M231 226v3M231 232v3M231 238v6M231 247v3M231 253v3M231 259v3M231 268v3M231 280v9M231 295v6M231 304v3M231 373v3M231 379v6M231 388v3M233 220v3M233 310v6M233 322v6M233 337v3M233 343v3M233 352v6M235 220v3M235 319v3M235 334v3M237 223v3M237 229v3M237 241v3M237 259v3M237 277v9M237 289v6M237 307v6M237 349v3M237 370v3M239 316v3M239 322v3M239 340v3M239 358v6M241 322v3M241 346v3M241 358v3M243 64v3M243 217v3M243 316v3M243 322v3M243 343v3M245 58v3M245 211v3M245 322v3M245 349v3M247 316v6M247 325v3M247 337v3M249 61v3M249 316v9M249 328v3M251 58v3M253 214v3M253 316v3M253 325v6M255 319v3M255 328v3M255 334v3M257 310v3M257 316v6M257 343v3M259 220v3M259 307v3M259 313v3M259 319v3M259 343v3M259 355v3M261 223v3M261 232v3M261 280v3M261 292v3M261 355v3M261 361v3M261 367v3M263 73v3M263 211v3M263 217v3M263 235v3M263 265v6M263 358v3M265 58v3M265 70v3M265 202v3M265 211v3M265 226v3M265 361v3M267 199v3M267 358v3M269 79v3M269 358v3M271 199v3M271 211v3M271 310v3M271 364v3M273 208v3M273 214v3M273 226v3M273 232v3M275 322v3M275 361v6M277 208v3M277 214v6M277 319v3M277 370v3M279 211v3M279 220v3M279 232v3M279 322v3M279 355v3M281 217v3M281 334v3M285 61v3M285 67v3M289 226v3M293 55v3M295 73v3M295 226v3M297 229v6M301 64v3M301 226v3M303 61v3M305 235v3M305 241v3M307 64v3M307 226v3M309 64v6M309 226v3M309 232v3M311 220v3M315 76v3M317 223v3M317 229v3M317 352v9M317 379v6M319 76v3M319 235v6M319 334v3M319 340v3M319 346v3M319 355v6M319 367v6M319 376v3M319 394v3M321 226v6M321 346v3M321 373v3M321 379v3M321 388v3M323 58v3M323 232v3M323 337v12M323 370v3M323 379v6M325 55v3M325 334v6M325 343v3M325 367v3M325 379v6M325 388v6M327 229v3M327 250v6M327 328v3M327 397v8M329 73v3M329 241v3M329 247v3M329 328v3M329 379v3M329 400v3M331 64v3M331 313v3M331 397v3M333 256v6M333 307v3M333 316v3M335 61v3M335 244v9M335 319v3M335 379v6M337 253v3M337 313v3M337 322v3M337 385v3M337 391v3M339 73v3M339 79v3M339 238v3M339 313v3M339 328v3M339 358v3M339 370v3M339 382v3M341 82v3M341 343v3M343 76v3M343 238v3M343 265v3M343 316v6M343 331v6M343 340v6M343 352v3M343 364v3M343 370v3M345 250v6M345 328v3M345 337v3M345 352v3M345 361v9M347 70v9M347 238v6M347 319v3M349 73v3M349 238v6M349 259v3M349 367v3M351 244v6M351 364v3M353 250v3M353 313v3M355 244v3M355 250v3M355 277v3M355 367v3M359 256v3M359 268v3M359 274v3M359 283v3M359 289v3M361 271v3M361 283v3M361 292v3M361 364v12M363 250v3M363 277v3M363 286v3M365 253v3M365 268v3M365 274v3M365 367v3M365 373v3M367 253v3M367 265v3M367 286v6M367 370v6M369 253v3M369 271v3M369 289v6M371 265v6M371 286v3M373 247v3M373 259v9M373 292v3M375 244v3M375 250v6M375 298v3M377 295v6M377 367v3M381 310v3M383 358v3M387 358v3M393 289v3M395 235v3M397 370v3M401 238v3M401 247v3M403 250v3M403 289v3M403 370v3M405 229v6M405 250v3M405 289v3M405 370v3M407 61v6M407 232v3M407 289v3M407 367v3M409 235v3M409 367v3M411 289v3M413 241v3M415 61v3M415 226v9M415 283v3M417 238v3M417 280v6M417 361v3M419 277v3M419 283v3M421 361v3M423 358v3M425 64v3M425 289v3M425 358v3M427 76v3M427 229v3M427 238v3M427 277v3M427 358v6M429 58v3M429 358v6M431 67v3M431 76v3M431 226v3M431 277v3M431 358v3M433 58v3M433 358v3M435 274v3M437 64v3M437 277v3M439 67v3M441 274v3M443 61v3M445 67v3M445 274v3M447 277v3M449 277v3M451 271v3M451 355v3M455 277v3M457 280v3M459 355v3M461 277v3M465 277v3M467 277v3M469 271v3M471 271v3M471 355v3M475 355v3M481 271v3M481 358v3M487 367v3M489 364v3M491 367v3M493 271v3M495 271v3M495 370v3M499 271v3M499 376v3M501 367v3M503 271v3M503 370v3M505 271v3M505 373v3M509 373v3M513 370v3M515 277v3M519 271v3M521 271v3M523 373v6M525 376v3M529 376v3M531 373v3M533 376v3M537 376v3M539 274v3M539 376v3M547 277v3M547 373v3M549 373v3M551 274v3M555 379v3M557 271v3M557 382v3M559 274v3M561 379v3M563 271v3M565 388v3M569 385v3M573 268v3M573 274v3M573 382v3M585 268v3M587 268v6M587 388v3M591 277v6M591 388v3M593 385v6M597 268v3M597 277v3M599 271v3M599 388v3M601 265v6M605 268v6M607 262v3M607 388v3M611 262v6M613 265v3M613 271v3M613 277v3M615 388v3M617 262v3M619 262v3M621 259v6M623 391v3M625 253v3M627 256v3M629 271v6M629 313v3M631 265v3M631 274v3M631 385v3M633 268v6M633 280v3M633 322v6M635 313v6M635 328v3M635 334v6M635 343v6M635 373v3M637 262v3M637 379v3M639 244v3M639 256v3M639 382v3M639 388v3M641 262v3M643 271v3M643 316v3M643 322v3"/>
<path stroke="#00ff61" d="M141 298v3M141 310v6M141 322v3M141 337v3M141 343v3M141 349v12M141 364v3M141 379v3M141 400v3M143 301v3M143 316v6M143 325v3M143 334v3M143 349v6M143 379v3M143 397v3M145 304v3M145 310v3M145 331v3M145 373v3M145 403v2M147 319v3M149 67v3M149 79v3M149 178v3M149 184v3M149 238v6M149 283v3M151 52v3M151 172v3M153 64v3M153 76v3M153 112v3M153 127v3M153 133v3M153 151v3M155 88v3M155 106v3M157 91v3M157 106v3M157 115v3M157 148v3M159 151v3M161 271v3M161 304v6M161 328v6M161 340v3M161 349v3M161 373v3M161 403v2M163 157v3M163 268v6M163 280v6M163 292v3M163 349v3M163 358v3M163 367v3M163 385v3M163 391v3M163 397v3M165 154v3M165 358v6M165 370v3M165 376v9M167 58v3M167 163v3M167 193v3M167 205v3M167 217v3M169 67v6M169 175v6M169 190v3M169 199v3M171 55v3M171 64v3M177 61v3M179 61v3M183 73v3M183 178v3M189 58v3M193 67v3M197 58v3M203 55v6M207 361v3M207 370v3M209 256v3M209 262v3M209 283v3M209 307v3M209 352v3M211 283v3M211 295v3M211 340v3M213 268v3M213 274v3M213 298v3M213 331v3M215 268v3M215 274v3M215 295v3M215 301v6M217 235v3M217 241v3M217 271v3M217 280v3M217 286v3M217 307v3M217 322v3M219 259v3M219 274v3M219 286v3M219 292v3M219 322v3M219 334v3M219 343v3M221 274v3M221 328v3M221 343v3M223 229v3M223 238v6M223 253v12M223 274v3M223 280v3M223 289v3M223 298v3M223 349v3M227 235v6M227 403v2M229 238v3M229 256v3M229 268v3M229 382v3M231 235v3M231 250v3M231 265v3M233 223v6M233 319v3M233 331v6M233 346v6M233 358v6M235 310v9M235 322v6M235 331v3M235 337v9M235 349v6M237 226v3M237 268v3M237 286v3M237 298v6M237 373v3M239 226v3M239 253v3M239 280v3M239 304v6M239 355v3M239 364v3M241 61v3M241 349v9M241 361v3M243 286v3M243 295v3M243 310v3M243 349v6M243 367v3M245 61v3M245 316v6M245 340v3M245 346v3M245 358v6M247 214v3M247 310v3M247 340v3M247 349v6M249 211v3M249 325v3M249 334v3M249 340v3M251 55v3M251 61v6M251 316v3M251 325v12M253 217v3M253 310v3M253 322v3M253 331v3M253 337v3M253 346v3M255 220v3M255 271v3M255 307v6M255 316v3M255 352v3M255 361v3M257 244v3M257 262v3M257 307v3M257 322v3M257 331v3M257 337v3M259 232v3M259 325v6M259 346v6M261 226v3M261 253v3M261 265v6M261 274v3M261 301v3M263 220v3M263 229v3M263 241v3M263 367v6M265 64v3M265 76v3M265 208v3M265 223v3M265 274v3M265 370v6M267 52v6M267 202v3M267 223v3M267 361v3M269 196v3M269 286v3M269 298v3M269 310v3M269 361v3M271 214v3M271 286v9M271 367v3M273 217v3M273 223v3M273 229v3M273 313v3M273 367v3M275 199v3M275 319v3M277 226v3M277 232v3M277 316v3M279 205v3M279 223v3M279 367v3M281 58v3M281 64v3M281 223v3M281 322v3M281 331v3M281 346v3M283 55v3M283 64v6M283 199v3M283 211v3M285 58v3M285 208v3M285 217v6M287 220v3M289 232v3M291 229v3M293 220v6M295 64v3M299 64v9M303 67v6M303 229v3M305 247v3M307 67v3M307 223v3M307 235v3M309 229v3M311 73v3M311 223v3M313 223v3M315 58v3M315 238v3M317 232v3M317 241v3M317 343v6M317 361v3M317 373v6M317 388v6M319 58v3M319 67v3M319 232v3M319 244v3M319 382v3M319 397v3M321 79v3M321 235v9M321 343v3M321 352v3M321 376v3M321 382v3M321 391v3M323 241v3M323 367v3M323 385v3M323 391v6M325 232v3M325 241v3M325 247v3M327 319v6M327 394v3M329 229v3M329 238v3M329 244v3M329 385v12M331 70v6M331 403v2M335 238v3M335 310v9M335 385v3M335 391v3M337 241v3M337 250v3M337 394v6M339 64v3M339 70v3M339 241v3M339 316v3M339 388v3M339 394v3M341 76v3M341 334v3M341 340v3M341 352v3M343 247v3M343 313v3M343 325v6M343 337v3M343 358v3M343 367v3M343 373v3M343 379v3M345 256v6M345 346v3M347 364v3M349 247v6M349 313v6M351 250v3M351 259v3M351 319v3M353 247v3M353 259v3M355 247v3M355 370v3M357 247v3M357 265v3M359 277v3M359 310v3M359 361v9M361 277v3M363 256v3M363 289v3M363 295v3M365 259v3M365 292v3M365 364v3M367 250v3M367 256v3M367 292v6M369 307v3M371 247v3M371 253v3M371 259v6M371 373v3M373 250v3M373 289v3M373 295v3M373 367v3M373 373v3M375 295v3M375 367v3M377 358v3M379 298v3M381 298v3M381 307v3M381 313v3M383 310v3M385 289v3M385 364v3M387 310v6M387 355v3M389 289v3M389 367v3M393 241v3M393 292v3M393 367v3M395 238v3M395 244v3M395 292v3M399 250v3M403 235v3M403 295v3M405 58v3M407 235v3M407 247v3M407 292v3M409 238v3M409 289v6M409 364v3M411 241v3M411 292v3M411 364v3M413 292v3M413 361v3M415 238v6M417 292v3M421 289v3M423 238v3M427 73v3M427 232v3M427 280v3M429 73v3M431 58v3M433 277v3M435 70v3M435 277v3M439 274v9M439 355v3M441 277v3M441 355v3M443 277v3M445 277v6M451 76v3M451 277v3M453 274v3M457 271v9M459 268v6M461 274v3M461 283v3M463 277v6M465 274v3M465 280v3M467 274v3M467 280v3M469 274v3M469 355v3M471 274v3M473 271v3M473 355v3M475 274v3M477 271v3M479 271v3M483 274v3M487 268v3M489 274v3M491 271v3M493 274v3M495 274v3M495 367v3M497 367v3M501 274v3M503 274v6M503 373v3M507 373v3M509 271v3M509 370v3M511 271v3M511 370v3M513 277v3M515 316v3M515 340v3M515 364v6M517 271v6M517 373v3M519 373v3M521 373v3M525 271v6M527 274v3M529 373v3M535 277v3M535 370v6M537 373v3M541 274v3M541 376v3M545 376v3M549 283v6M549 358v3M551 277v3M551 376v3M553 373v3M555 274v6M561 277v3M561 283v3M561 361v3M561 367v3M563 382v3M565 271v3M567 385v3M571 271v3M571 382v3M573 271v3M573 379v3M575 379v3M577 271v3M577 277v3M577 361v3M577 385v3M579 274v3M579 373v3M579 379v3M581 268v6M587 280v6M589 277v3M591 274v3M591 385v3M593 283v3M593 376v3M595 385v3M597 271v3M597 283v3M597 373v3M597 385v3M599 268v3M601 388v3M605 277v3M607 265v3M609 268v6M611 268v3M613 274v3M615 271v3M615 277v6M615 343v3M617 265v3M617 391v3M619 268v3M619 388v3M621 265v3M623 271v3M623 277v3M625 256v3M625 391v3M627 388v3M629 265v3M629 310v3M629 334v3M629 373v6M631 271v3M631 280v3M631 373v3M631 382v3M633 262v3M633 313v6M633 376v6M635 298v3M635 349v3M635 361v3M635 367v3M637 271v6M637 310v9M637 325v3M637 370v3M641 310v3M641 382v3M643 373v6"/>
<path stroke="#00ff4e" d="M135 169v63M135 247v60M137 169v63M137 247v60M139 169v63M139 247v60M141 328v3M141 340v3M141 367v3M141 382v3M141 391v3M141 397v3M143 307v3M143 343v6M143 358v6M143 391v3M143 400v3M145 301v3M145 322v3M145 340v6M145 349v3M145 355v6M145 370v3M145 397v3M147 61v3M147 346v3M147 352v3M149 181v3M149 187v6M149 202v3M149 214v3M149 253v3M149 265v6M151 58v3M151 160v3M151 166v3M151 178v3M151 184v3M153 118v6M153 154v6M155 82v6M155 91v3M155 100v3M155 109v3M155 130v3M155 148v3M157 88v3M157 124v3M157 133v3M159 154v3M159 310v3M161 70v3M161 157v3M161 283v3M161 295v3M161 301v3M163 70v3M163 265v3M163 286v6M163 376v3M165 157v3M165 247v6M165 265v6M165 364v6M165 373v3M165 385v3M165 391v9M167 52v3M167 181v6M167 196v3M167 211v6M169 52v3M169 64v3M169 166v3M169 181v3M169 193v3M177 64v3M183 61v3M191 61v3M191 67v3M193 61v3M207 367v3M207 376v3M209 331v9M209 343v3M209 355v3M211 331v3M211 337v3M211 343v3M213 286v6M213 343v3M215 259v3M215 265v3M215 280v15M215 319v3M217 262v3M217 268v3M217 274v3M217 289v9M217 304v3M221 280v3M221 295v3M221 361v3M223 235v3M223 355v9M229 229v3M229 241v3M233 307v3M233 328v3M235 328v3M235 355v3M235 361v3M237 238v3M237 253v3M237 262v6M237 271v3M237 304v3M239 223v3M239 250v3M239 256v15M239 274v6M239 286v3M239 295v3M239 301v3M239 367v3M239 373v3M241 217v3M241 256v3M241 262v3M241 277v3M241 310v3M241 316v3M241 343v3M241 370v3M243 220v3M243 268v3M243 292v3M243 298v6M243 313v3M243 361v3M243 370v3M245 64v3M245 214v6M245 298v3M245 310v3M245 343v3M245 355v3M247 220v3M247 313v3M247 355v3M247 364v6M249 307v3M249 337v3M249 343v3M249 364v3M251 211v3M251 310v3M251 322v3M253 307v3M253 313v3M253 319v3M253 340v3M253 349v3M253 364v3M255 223v6M255 322v3M255 331v3M255 340v3M255 349v3M255 355v3M257 223v3M257 229v3M257 241v3M257 247v6M257 259v3M257 265v3M257 271v3M257 325v6M257 334v3M257 340v3M257 346v9M257 358v3M257 364v3M257 385v3M259 226v6M259 253v6M259 262v3M259 277v3M259 322v3M259 331v3M259 337v6M259 361v3M261 64v3M261 229v3M261 235v3M261 241v6M261 250v3M261 259v6M261 271v3M261 358v3M261 379v3M263 67v3M263 226v3M263 232v3M263 271v3M263 364v3M263 373v3M263 379v3M265 61v3M265 217v3M265 229v9M265 271v3M267 79v3M267 205v3M267 211v3M267 274v6M269 52v3M269 202v3M269 289v3M269 295v3M269 301v3M271 58v6M271 67v3M271 208v3M271 217v3M271 223v3M271 229v3M271 295v3M271 301v3M271 370v6M273 70v3M273 220v3M273 247v3M273 370v3M275 55v3M275 70v3M275 217v6M275 226v3M277 220v3M277 367v3M277 373v3M279 217v3M279 226v3M279 238v3M279 319v3M279 325v6M279 361v6M279 370v3M281 208v3M281 214v3M281 226v6M281 337v9M283 61v3M283 214v6M285 211v6M285 229v3M287 223v3M289 229v3M289 235v3M291 232v3M293 226v3M295 229v3M297 235v3M301 61v3M301 229v3M303 232v3M305 232v3M307 61v3M307 232v3M309 238v3M311 229v3M313 241v3M315 61v9M315 223v9M315 235v3M315 241v9M317 226v3M317 238v3M317 244v6M317 337v3M317 397v3M319 241v3M319 337v3M319 403v2M321 58v3M321 76v3M321 340v3M321 349v3M321 361v3M321 367v6M321 394v3M323 235v3M323 331v6M325 328v3M325 385v3M325 394v9M327 256v3M327 262v3M327 313v6M329 325v3M329 397v3M331 250v3M331 268v3M331 310v3M333 268v9M335 262v3M335 397v6M337 70v3M337 244v6M337 256v3M337 310v3M339 247v6M339 310v3M339 385v3M339 391v3M339 400v3M341 313v3M341 319v6M341 331v3M341 337v3M341 346v3M341 355v3M341 364v3M341 391v3M343 64v3M343 250v3M343 355v3M343 361v3M345 265v6M345 331v3M347 250v6M347 322v3M347 349v9M349 256v3M349 271v3M351 256v3M351 262v3M351 280v3M351 316v3M351 355v3M353 253v6M353 268v3M353 310v3M353 319v3M353 358v6M355 271v6M355 361v3M357 268v3M357 310v6M357 367v3M359 262v6M359 355v6M361 253v3M361 262v6M361 355v3M363 253v3M363 265v6M363 292v3M363 313v3M363 361v3M363 367v6M365 361v3M367 262v3M367 310v3M367 361v6M369 256v3M369 313v3M369 358v9M371 250v3M371 256v3M371 289v3M371 370v3M373 253v6M373 364v3M375 361v3M377 361v3M379 364v3M381 301v3M383 295v3M383 313v3M383 355v3M385 292v3M385 361v3M387 298v3M387 307v3M389 364v3M391 295v3M393 238v3M393 244v6M393 370v3M395 241v3M395 295v6M397 292v3M397 367v3M399 235v6M399 247v3M399 295v3M399 367v6M403 238v3M403 247v3M405 64v3M405 292v3M405 367v3M407 244v3M409 241v3M409 295v3M411 235v3M411 295v3M411 358v3M413 295v3M415 235v3M417 298v3M419 289v6M419 361v3M421 295v3M423 295v3M425 355v3M427 64v3M427 283v3M429 283v3M431 73v3M431 274v3M433 73v3M435 280v3M441 64v3M443 274v3M443 355v3M447 352v3M449 280v3M449 352v3M451 274v3M453 277v3M455 283v3M455 352v3M463 352v3M471 277v3M477 274v3M479 274v3M483 277v3M483 355v3M485 277v3M485 355v3M487 271v6M489 271v3M489 361v3M493 364v6M495 364v3M497 271v9M497 361v3M499 274v3M499 370v3M501 370v3M505 367v6M511 274v6M513 274v3M513 367v3M515 313v3M515 361v3M521 370v3M523 271v3M527 373v3M529 274v6M531 277v6M533 274v6M537 277v3M539 373v3M541 277v3M541 373v3M547 370v3M549 307v3M549 361v3M549 370v3M553 283v3M553 376v3M555 376v3M557 274v3M559 277v3M559 364v3M559 379v3M561 280v3M561 310v3M561 355v3M561 364v3M561 370v3M561 376v3M563 274v3M565 274v3M565 379v3M567 271v3M569 268v9M571 364v3M573 358v3M573 373v3M575 271v6M575 385v3M579 286v3M579 361v3M579 367v6M579 382v3M581 385v3M583 268v3M583 274v3M585 271v6M587 274v3M587 385v3M589 271v6M589 280v3M589 385v3M591 304v3M591 367v12M593 271v12M593 310v3M593 349v3M593 370v3M595 268v9M597 280v3M599 280v3M599 385v3M605 274v3M605 280v3M605 355v3M605 385v3M609 265v3M611 274v3M613 352v3M613 364v3M613 385v3M615 301v3M615 364v3M617 271v3M619 265v3M619 271v3M619 277v3M621 274v3M621 388v3M623 262v9M623 385v6M625 274v3M627 265v6M627 391v3M629 280v3M629 331v3M629 337v3M629 349v3M629 355v12M629 370v3M631 304v3M631 328v3M631 346v3M631 358v3M631 367v3M631 379v3M633 304v3M633 337v12M633 352v6M635 286v6M635 325v3M637 280v3M637 304v6M637 319v3M637 334v3M637 352v3M637 358v3M637 367v3M637 373v6M639 259v3M639 265v3M641 265v3M641 313v3M641 379v3M643 274v6M643 301v9M643 325v3M643 331v3M643 355v3M643 370v3"/>
<path stroke="#00ff3c" d="M141 319v3M141 325v3M141 385v3M143 310v3M143 355v3M143 367v3M143 373v3M143 394v3M145 298v3M145 313v6M145 325v6M145 337v3M145 364v6M145 379v12M145 394v3M147 298v3M147 325v3M147 361v3M149 193v6M149 205v9M149 217v3M149 223v9M149 250v3M149 259v3M149 271v3M149 277v3M149 286v3M151 55v3M151 181v3M153 52v3M153 163v6M153 172v3M155 76v3M155 133v3M155 151v3M155 157v3M157 154v3M161 67v3M161 163v6M161 289v6M161 298v3M161 322v3M161 346v3M161 379v3M161 385v6M161 394v3M161 400v3M163 160v6M163 250v6M163 259v3M163 364v3M163 400v3M165 160v3M165 226v6M165 238v9M165 253v12M165 403v2M167 166v3M167 172v3M167 178v3M167 190v3M167 199v6M167 208v3M169 196v3M179 58v3M181 70v3M185 58v3M197 55v3M207 379v3M207 385v6M207 394v3M209 340v3M209 349v3M209 358v3M211 349v3M213 253v3M213 280v3M213 334v9M215 277v3M215 298v3M215 328v6M215 337v3M215 343v3M217 253v3M217 259v3M217 265v3M217 298v6M217 325v6M217 334v3M221 352v3M223 364v6M227 400v3M229 232v3M231 385v3M233 238v3M233 277v3M233 304v3M233 364v3M233 376v3M235 304v3M235 358v3M237 232v6M237 256v3M237 274v3M237 382v6M239 271v3M239 283v3M239 289v3M239 298v3M239 370v3M239 385v3M241 220v6M241 259v3M241 271v3M241 313v3M243 262v6M243 283v3M243 304v3M243 364v3M243 373v6M245 274v3M245 292v3M245 313v3M245 352v3M245 364v3M245 370v3M247 217v3M247 292v6M247 307v3M247 343v6M247 358v6M247 370v3M249 304v3M249 352v9M249 367v3M251 217v3M251 313v3M251 319v3M251 340v3M253 220v3M253 271v3M253 343v3M253 352v3M253 358v6M255 217v3M255 304v3M255 325v3M255 337v3M255 343v6M255 364v6M255 385v6M257 226v3M257 238v3M257 253v6M257 289v3M257 301v3M257 355v3M257 361v3M257 367v6M259 235v6M259 259v3M259 265v3M259 271v3M259 283v3M259 304v3M259 316v3M259 334v3M259 352v3M259 358v3M259 364v6M261 238v3M261 247v3M261 256v3M261 370v6M261 385v3M263 64v3M263 238v3M263 376v3M263 400v3M265 67v3M265 214v3M265 238v3M265 256v3M265 364v6M267 58v6M267 76v3M267 220v3M267 229v3M267 364v3M269 199v3M269 205v3M269 217v3M269 280v6M269 304v3M269 364v3M271 64v3M271 235v3M271 277v6M271 298v3M271 304v3M271 376v3M271 382v3M271 388v3M273 61v3M273 235v3M273 310v3M273 373v3M275 205v3M275 211v6M275 223v3M277 223v3M277 235v3M277 241v3M277 247v3M277 379v3M279 208v3M279 235v3M279 241v3M279 316v3M281 205v3M281 232v6M281 349v3M283 202v3M283 208v3M283 220v3M283 229v3M285 205v3M285 223v3M287 226v6M299 229v3M301 70v3M301 235v3M303 235v6M305 238v3M307 229v3M309 61v3M309 235v3M309 241v3M311 58v3M313 61v3M313 67v3M313 232v6M315 232v3M317 235v3M317 334v3M317 340v3M317 394v3M317 400v3M319 247v3M319 313v3M319 400v3M321 244v3M323 244v3M323 400v3M325 58v3M325 70v3M325 322v3M325 376v3M327 73v3M329 310v9M329 322v3M329 403v2M331 253v15M333 262v3M335 256v6M335 265v3M335 403v2M337 67v3M337 268v6M337 382v3M337 400v5M339 61v3M339 76v3M339 379v3M339 403v2M341 349v3M341 361v3M341 367v6M341 376v6M341 385v6M341 397v8M343 244v3M343 253v9M345 262v3M345 307v3M345 325v3M347 259v3M347 283v3M347 328v3M347 361v3M349 280v3M349 319v3M349 358v3M351 253v3M351 310v6M351 322v3M351 361v3M353 262v6M353 283v9M353 316v3M353 355v3M355 259v6M355 283v3M355 316v3M357 253v3M357 262v3M357 274v9M357 364v3M359 253v3M359 292v6M361 256v6M361 295v3M361 361v3M363 259v6M363 298v3M363 358v3M363 364v3M365 298v3M365 358v3M367 259v3M367 358v3M369 298v3M369 304v3M369 310v3M369 367v3M371 292v3M371 364v6M375 310v3M375 358v3M375 364v3M377 310v6M379 304v3M379 358v3M383 298v3M383 307v3M385 310v3M389 292v3M391 361v3M395 367v3M401 301v3M401 307v6M403 298v3M403 367v3M405 235v3M405 244v3M405 295v3M407 241v3M407 295v3M409 361v3M413 298v3M413 358v3M415 64v3M415 289v3M415 361v3M417 295v3M419 295v3M421 292v3M421 298v3M421 358v3M423 286v3M425 292v3M429 61v3M429 280v3M433 64v3M433 280v3M437 70v3M437 355v3M441 70v3M441 280v3M443 280v3M445 352v3M447 349v3M455 280v3M457 352v3M459 352v3M461 280v3M461 352v3M465 352v3M467 283v3M473 274v3M475 352v3M479 355v3M481 277v3M485 280v3M491 274v3M495 277v3M495 361v3M499 361v9M501 277v6M501 364v3M503 280v3M503 367v3M505 274v9M505 361v3M507 274v3M509 274v3M511 313v3M513 280v6M513 313v3M513 319v3M513 337v3M515 280v6M515 307v3M515 328v3M515 337v3M515 343v6M515 358v3M517 277v3M517 370v3M519 274v3M523 277v3M527 277v3M531 370v3M533 373v3M535 280v3M539 277v3M543 277v3M545 277v3M545 373v3M547 280v3M549 364v6M551 280v6M551 373v3M553 280v3M553 304v3M553 361v3M553 370v3M555 310v3M557 379v3M559 307v6M559 376v3M561 307v3M561 358v3M563 361v3M567 364v3M567 382v3M569 382v3M571 277v3M571 376v3M573 277v6M573 361v3M573 367v6M577 274v3M577 283v3M577 367v3M577 376v3M577 382v3M579 277v3M579 283v3M579 289v3M579 358v3M579 376v3M585 385v3M587 277v3M587 370v3M589 301v3M589 310v3M589 361v3M589 367v3M589 379v3M591 286v3M591 379v3M593 286v3M593 307v3M593 364v6M595 277v3M597 274v3M597 361v3M597 367v3M599 283v3M603 265v3M605 367v3M609 388v3M611 271v3M611 385v3M613 280v3M613 307v6M613 343v3M613 358v6M613 367v3M613 376v3M615 274v3M615 337v3M615 370v3M615 385v3M617 268v3M617 274v6M617 385v6M619 274v3M619 280v3M621 271v3M621 385v3M623 274v3M623 280v3M625 259v3M625 268v3M625 388v3M627 259v3M627 271v3M629 301v6M629 316v12M629 340v9M629 352v3M631 310v3M631 319v3M631 334v12M631 352v6M631 361v3M633 307v3M633 319v3M633 331v3M633 358v6M633 367v6M635 295v3M635 301v3M637 277v3M637 301v3M637 322v3M637 331v3M637 337v3M637 361v3M639 262v3M639 268v3M639 310v3M639 385v3M641 316v3M643 286v3M643 319v3M643 328v3M643 337v9M643 349v6M643 361v3"/>
<path stroke="#00ff29" d="M135 307v3M137 307v3M139 307v3M145 307v3M145 319v3M145 334v3M145 346v3M145 361v3M145 376v3M145 391v3M145 400v3M147 316v3M147 340v3M147 358v3M149 64v3M149 199v3M149 232v3M149 244v3M149 256v3M149 262v3M149 274v3M149 289v3M151 67v3M151 190v6M151 223v3M151 256v3M153 160v3M153 175v3M153 316v3M153 322v3M153 349v3M153 388v3M153 397v3M155 52v3M155 97v3M155 154v3M157 55v3M157 100v3M157 112v3M157 118v3M157 127v3M157 157v3M159 73v3M159 157v3M159 163v3M161 55v3M161 160v3M161 226v3M161 232v3M161 274v9M161 286v3M161 352v3M161 367v3M161 376v3M161 382v3M163 52v9M163 67v3M163 166v3M163 223v3M163 232v3M165 163v3M165 220v6M165 232v6M167 61v3M167 169v3M167 175v3M169 55v3M169 61v3M169 172v3M175 55v3M199 55v3M203 52v3M207 382v3M207 391v3M209 346v3M209 364v3M211 346v3M211 352v3M213 346v3M215 340v3M217 256v3M217 277v3M217 283v3M219 346v3M221 349v3M221 355v6M221 376v3M223 232v3M223 352v3M223 373v3M229 394v6M231 391v6M231 403v2M233 229v3M233 235v3M233 241v3M233 256v3M233 262v6M233 280v6M233 289v3M233 295v3M233 367v3M235 223v3M235 253v9M235 268v3M235 277v6M235 286v6M235 298v3M235 307v3M235 346v3M235 364v3M237 247v6M237 367v3M237 376v3M237 388v3M239 229v3M239 235v12M239 292v3M239 388v3M241 226v3M241 250v3M241 268v3M241 274v3M241 295v6M241 304v3M241 367v3M241 376v3M243 226v3M243 247v15M243 271v3M243 277v3M245 220v6M245 283v3M245 289v3M245 307v3M245 367v3M245 379v3M247 268v12M247 289v3M247 298v9M247 373v3M249 214v3M249 346v6M249 361v3M253 223v3M253 274v3M253 283v3M253 289v3M253 334v3M253 355v3M253 373v3M255 268v3M255 295v6M255 358v3M255 376v3M257 235v3M257 268v3M257 376v9M259 247v3M259 268v3M259 274v3M259 286v18M259 379v3M259 388v3M261 376v3M261 382v3M263 247v3M263 253v3M263 259v3M263 382v9M265 220v3M265 241v3M265 250v3M265 382v3M265 394v3M267 217v3M267 232v3M267 268v3M267 367v6M269 76v3M269 223v6M269 274v3M269 292v3M271 226v3M271 232v3M271 247v3M271 385v3M273 238v9M273 307v3M273 376v3M275 64v6M275 202v3M275 232v3M275 316v3M275 367v3M275 376v3M277 238v3M277 244v3M277 250v3M277 313v3M277 376v3M277 382v6M279 229v3M279 244v3M279 253v3M279 373v3M281 211v3M281 220v3M281 319v3M281 325v3M281 352v6M283 205v3M283 223v3M285 64v3M285 226v3M285 232v3M287 232v3M291 241v6M293 229v3M295 235v3M299 232v3M301 241v6M303 244v6M305 244v3M307 238v3M307 244v6M309 244v6M311 61v3M311 226v3M311 238v9M313 76v3M313 226v3M313 238v3M317 64v3M319 61v3M319 73v3M319 250v3M319 328v3M321 70v6M321 250v3M321 334v6M321 397v3M323 73v3M323 328v3M323 397v3M325 67v3M325 244v3M325 250v3M327 61v6M327 259v3M327 265v3M327 307v6M329 70v3M329 250v3M329 319v3M331 271v3M335 67v3M335 253v3M335 271v3M337 265v3M337 307v3M339 67v3M339 244v3M339 253v12M341 235v3M341 244v3M341 250v3M341 325v3M341 358v3M341 373v3M341 394v3M343 262v3M343 271v3M345 271v3M345 277v3M347 262v6M347 280v3M347 307v3M347 325v3M347 343v6M347 358v3M349 253v3M349 265v3M349 274v3M349 310v3M349 346v9M349 361v3M351 265v3M351 271v3M351 277v3M351 283v6M353 274v9M353 295v3M353 322v3M355 253v3M355 265v3M355 280v3M355 289v3M355 358v3M357 250v3M357 271v3M357 283v3M357 292v3M357 316v3M357 358v6M359 259v3M359 313v6M361 310v6M363 310v3M365 256v3M365 310v6M367 307v3M367 367v3M369 295v3M369 355v3M371 307v6M373 310v3M373 358v3M379 301v3M379 310v6M381 304v3M381 352v9M383 304v3M383 352v3M385 358v3M387 295v3M387 346v3M389 361v3M391 355v6M391 364v3M393 295v3M395 364v3M397 238v6M397 247v3M397 298v3M399 241v3M399 298v3M401 364v3M403 241v6M405 241v3M405 247v3M407 298v3M407 364v3M411 361v3M415 292v3M423 292v3M425 295v3M427 67v3M427 286v3M429 64v6M433 283v3M435 283v6M437 280v3M439 286v3M439 352v3M443 352v3M453 280v3M453 352v3M455 286v3M459 274v3M463 283v6M465 283v6M467 292v3M467 349v3M469 277v3M469 352v3M471 352v3M473 277v3M473 352v3M475 277v3M475 349v3M479 277v3M479 352v3M481 274v3M487 361v3M491 277v3M491 364v3M493 361v3M495 283v3M495 358v3M497 364v3M499 277v3M503 283v3M505 364v3M507 370v3M509 280v3M509 367v3M511 304v3M513 307v3M513 325v9M513 349v3M513 364v3M515 286v3M515 322v3M515 331v3M515 355v3M517 361v3M517 367v3M521 277v3M521 364v3M523 274v3M523 370v3M525 370v3M537 367v3M541 280v3M541 370v3M543 280v3M543 373v3M547 283v3M547 361v3M549 289v3M549 304v3M549 310v6M549 355v3M553 307v3M555 280v6M555 304v3M557 277v6M557 370v3M559 280v3M559 361v3M559 373v3M561 304v3M561 319v3M563 277v3M563 379v3M565 373v3M567 274v3M567 361v3M571 274v3M571 373v3M571 379v3M573 283v3M573 364v3M575 364v3M575 376v3M575 382v3M577 370v6M577 379v3M579 316v3M579 364v3M581 274v3M581 376v3M583 271v3M583 361v3M583 367v3M583 373v3M583 382v6M585 277v3M587 310v6M587 367v3M587 373v6M589 283v3M589 304v6M589 364v3M589 370v3M589 376v3M591 283v3M591 289v3M591 349v3M593 313v3M593 355v6M595 280v3M595 358v3M595 379v3M597 286v3M597 310v3M597 358v3M597 364v3M597 379v3M599 274v6M599 286v3M599 373v3M601 274v3M601 280v3M601 385v3M603 268v6M603 388v3M605 283v6M605 361v3M605 376v3M605 382v3M607 268v9M607 280v3M607 385v3M609 274v9M609 379v3M611 277v6M611 310v3M613 304v3M613 349v3M613 370v6M615 310v6M615 349v12M615 367v3M615 373v3M619 340v3M619 367v3M619 376v3M621 268v3M621 277v3M621 307v3M621 319v3M621 370v3M623 304v3M623 358v3M623 376v3M623 382v3M625 265v3M625 277v3M625 385v3M627 262v3M627 277v6M627 319v6M627 358v3M627 379v3M627 385v3M629 379v3M631 301v3M631 307v3M631 313v6M631 322v3M631 349v3M631 376v3M633 283v3M633 301v3M633 328v3M633 334v3M633 349v3M633 364v3M633 373v3M637 283v3M637 343v3M637 355v3M639 316v3M639 379v3M641 268v6M641 307v3M641 319v9M641 370v9M643 334v3M643 346v3M643 364v6"/>
<path stroke="#00ff16" d="M135 136v18M135 160v9M137 136v18M137 160v9M139 136v18M139 160v9M145 352v3M147 301v3M147 331v3M147 343v3M147 349v3M149 52v3M149 235v3M149 247v3M151 187v3M151 196v3M151 220v3M151 226v12M151 391v3M153 55v6M153 73v3M153 169v3M153 325v3M153 358v3M153 370v6M153 382v3M153 394v3M153 400v3M155 73v3M155 94v3M155 112v6M155 163v3M157 160v3M159 55v3M159 169v3M161 61v3M161 169v3M161 229v3M161 238v3M161 244v3M161 250v3M161 259v3M161 268v3M161 355v12M161 370v3M161 391v3M161 397v3M163 229v3M163 238v9M163 256v3M163 262v3M165 55v3M165 70v3M165 166v3M167 55v3M171 58v6M173 58v3M181 61v3M195 55v3M197 52v3M207 400v5M209 361v3M209 367v9M211 355v6M213 349v6M217 337v3M217 343v3M219 361v3M221 346v3M221 364v6M223 370v3M223 376v9M229 403v2M231 397v3M233 232v3M233 247v6M233 268v9M233 286v3M233 301v3M233 370v3M235 232v3M235 250v3M235 265v3M235 271v6M235 292v6M235 301v3M235 367v9M237 295v3M237 379v3M239 232v3M239 247v3M239 376v6M241 229v3M241 247v3M241 265v3M241 283v12M241 301v3M241 307v3M241 364v3M241 373v3M241 379v6M243 223v3M243 274v3M243 280v3M243 289v3M243 307v3M243 385v6M243 394v3M245 268v3M245 277v6M245 295v3M245 301v6M245 373v6M245 403v2M247 223v3M247 265v3M247 280v9M247 379v6M247 391v3M247 397v3M249 217v3M249 370v3M251 214v3M251 292v3M251 307v3M251 337v3M251 349v12M253 256v3M253 268v3M253 280v3M253 295v9M253 367v6M253 379v6M255 229v9M255 244v6M255 259v3M255 277v6M255 286v3M255 292v3M255 370v3M255 379v3M257 232v3M257 274v6M257 283v3M257 295v3M257 304v3M257 373v3M257 391v3M259 241v6M259 250v3M259 280v3M259 370v3M259 382v3M261 388v6M263 244v3M263 250v3M263 256v3M263 262v3M263 391v6M265 253v3M265 265v6M265 376v6M265 400v3M267 208v3M267 214v3M267 226v3M267 235v3M267 376v3M269 211v6M269 229v6M269 277v3M269 367v3M271 238v9M271 250v3M271 274v3M271 283v3M273 250v3M273 280v6M273 304v3M273 379v18M275 58v3M275 208v3M275 229v3M275 379v3M275 391v3M277 388v3M279 250v3M279 313v3M279 376v3M281 241v3M281 361v3M281 370v9M283 226v3M283 334v6M283 343v3M283 349v3M287 235v3M287 241v3M289 241v3M291 235v3M295 244v3M297 238v3M297 244v6M299 235v3M301 238v3M303 241v3M307 241v3M309 250v3M311 70v3M311 232v3M311 247v3M313 73v3M313 229v3M313 244v3M315 250v3M315 259v3M317 61v3M317 70v3M317 403v2M319 64v3M319 253v3M319 265v3M319 310v3M319 316v3M319 325v3M319 331v3M321 67v3M321 256v3M321 400v5M323 67v6M323 76v3M323 247v6M323 403v2M325 73v3M325 403v2M327 67v3M329 61v3M329 271v3M329 307v3M331 307v3M333 265v3M335 274v3M337 262v3M339 265v3M341 58v3M341 73v3M341 79v3M341 238v6M341 247v3M341 316v3M341 328v3M341 382v3M343 307v3M345 274v3M345 283v3M347 268v3M347 286v3M347 331v12M349 262v3M349 268v3M349 286v3M349 322v3M351 268v3M351 274v3M351 349v6M351 358v3M353 271v3M353 307v3M353 352v3M355 256v3M355 286v3M355 292v6M355 310v6M357 256v3M357 286v3M359 298v3M361 307v3M365 307v3M365 355v3M367 298v3M367 313v3M369 301v3M371 295v3M371 301v3M371 358v6M373 298v3M373 307v3M373 361v3M375 301v3M377 301v3M377 307v3M377 355v3M379 307v3M383 301v3M383 316v3M383 334v3M383 349v3M385 313v3M387 301v3M387 319v3M387 328v3M389 298v3M389 310v3M397 244v3M397 295v3M399 244v3M401 304v3M407 238v3M407 361v3M415 301v3M417 301v6M417 358v3M419 304v3M421 301v3M421 307v3M421 355v3M423 298v3M423 355v3M429 70v3M429 286v3M429 355v3M431 280v6M431 355v3M433 67v6M437 283v3M439 283v3M439 349v3M445 349v3M449 283v3M449 349v3M455 349v3M457 283v3M459 277v3M461 286v3M461 349v3M467 286v6M469 280v3M475 346v3M477 355v3M485 286v3M489 277v3M489 358v3M491 361v3M493 277v6M497 280v6M497 310v3M497 358v3M501 283v3M503 289v3M503 340v3M503 364v3M505 286v3M505 304v6M505 316v3M505 340v3M507 277v3M507 352v3M507 367v3M509 277v3M509 283v3M509 364v3M511 280v6M511 310v3M511 361v6M513 322v3M513 340v3M513 346v3M513 361v3M515 289v3M515 298v6M515 310v3M515 319v3M515 325v3M515 349v3M519 277v3M519 367v6M521 274v3M523 301v6M525 373v3M527 367v6M529 280v3M531 283v3M535 367v3M537 370v3M539 370v3M547 310v3M547 358v3M547 364v6M549 301v3M549 316v3M553 286v6M553 310v6M555 361v3M555 367v6M559 358v3M559 370v3M561 301v3M561 313v6M561 322v3M563 307v3M563 316v3M563 376v3M565 376v3M569 358v3M569 379v3M571 358v3M571 367v6M573 301v6M573 355v3M573 376v3M575 280v3M575 358v3M575 370v6M577 280v3M577 304v3M577 364v3M579 280v3M579 301v6M579 355v3M581 277v3M581 304v3M581 361v3M581 367v6M581 382v3M583 277v6M583 370v3M585 280v9M585 361v3M585 379v3M587 307v3M587 358v3M587 379v6M589 289v3M589 298v3M589 382v3M591 301v3M591 310v3M591 358v9M591 382v3M593 301v6M593 352v3M593 361v3M593 373v3M593 379v3M595 283v6M595 355v3M595 361v3M595 370v3M595 382v3M597 304v3M597 349v9M597 370v3M597 382v3M599 352v6M599 361v3M601 271v3M601 277v3M601 283v3M601 358v3M601 364v3M603 385v3M605 352v3M605 358v3M605 370v6M605 379v3M607 277v3M607 355v3M607 364v3M607 379v3M609 283v3M609 349v6M609 376v3M609 382v6M611 283v3M611 304v3M611 343v6M611 352v9M611 367v3M611 373v3M613 283v3M613 313v3M613 322v3M613 328v3M613 337v6M613 346v3M613 355v3M613 379v3M615 283v3M615 307v3M615 319v3M615 340v3M615 376v6M617 280v3M617 346v3M617 364v3M619 307v3M619 322v3M619 349v3M619 379v3M619 385v3M621 316v3M621 325v3M621 331v6M621 340v3M621 349v6M623 313v3M623 322v9M623 337v15M623 361v3M623 370v6M625 262v3M625 271v3M627 274v3M627 325v6M627 334v6M629 283v3M629 292v3M629 298v3M629 307v3M631 283v3M631 331v3M631 364v3M631 370v3M633 292v3M635 292v3M637 340v3M637 346v3M637 364v3M639 271v3M639 313v3M639 325v3M641 277v3M641 328v3M641 340v3M641 358v6M643 280v6M643 289v3M643 358v3"/>
<path stroke="#00ff03" d="M135 52v3M135 61v12M135 313v3M135 322v3M135 331v3M135 340v3M135 349v3M135 358v3M135 367v3M135 376v3M135 385v3M135 394v3M135 403v2M137 52v3M137 61v12M137 313v3M137 322v3M137 331v3M137 340v3M137 349v3M137 358v3M137 367v3M137 376v3M137 385v3M137 394v3M137 403v2M139 52v3M139 61v12M139 313v3M139 322v3M139 331v3M139 340v3M139 349v3M139 358v3M139 367v3M139 376v3M139 385v3M139 394v3M139 403v2M147 328v3M147 334v3M147 355v3M149 55v3M149 292v3M151 64v3M151 262v3M151 352v6M151 367v3M151 376v3M153 67v3M153 178v3M153 184v3M153 190v3M153 310v3M153 334v3M153 340v6M153 355v3M153 361v3M153 367v3M155 160v3M155 166v3M157 67v3M157 76v3M159 271v3M159 304v3M159 313v3M161 52v3M161 64v3M161 223v3M161 253v3M161 262v6M163 169v3M163 226v3M163 247v3M165 67v3M167 64v3M167 187v3M169 58v3M177 58v3M179 52v3M185 52v3M211 361v6M213 355v3M217 331v3M217 340v3M219 358v3M219 367v3M221 370v6M223 388v3M229 400v3M233 244v3M233 253v3M233 259v3M233 292v3M233 298v3M233 373v3M235 226v3M235 235v15M235 262v3M235 283v3M235 376v3M235 391v3M237 391v9M239 382v3M239 394v3M241 232v3M241 238v9M241 253v3M241 280v3M241 391v3M243 229v3M243 235v3M243 379v3M243 391v3M243 403v2M245 256v3M245 271v3M245 286v3M245 382v3M245 394v3M247 376v3M247 403v2M249 220v3M249 226v3M249 274v3M249 289v12M249 376v6M249 385v3M251 223v3M251 343v3M251 361v3M253 277v3M253 292v3M253 304v3M253 376v3M253 388v9M255 238v6M255 250v3M255 274v3M255 301v3M255 373v3M255 382v3M255 397v3M257 286v3M257 292v3M257 298v3M257 388v3M259 373v3M261 394v3M263 397v3M263 403v2M265 73v3M265 244v6M265 262v3M267 244v3M267 271v3M267 373v3M267 379v3M269 58v3M269 70v3M269 208v3M269 235v3M269 376v3M271 256v3M271 268v6M271 379v3M271 391v3M271 397v3M273 397v3M275 235v9M275 370v3M275 382v3M275 388v3M277 274v3M277 283v3M277 391v3M279 247v3M279 382v3M281 244v3M281 328v3M281 364v6M283 232v3M283 340v3M283 346v3M285 235v6M289 238v3M289 244v6M291 247v6M293 232v3M295 238v6M299 238v3M301 232v3M301 247v3M309 253v3M309 268v3M311 235v3M311 250v3M313 70v3M313 247v3M313 259v3M315 253v3M317 73v3M317 253v3M317 259v3M317 313v3M317 328v6M319 256v9M319 322v3M321 247v3M321 259v3M321 331v3M323 253v3M323 262v3M323 310v3M323 319v9M325 253v3M325 313v6M325 325v3M327 268v12M329 64v3M329 265v6M329 274v3M331 274v6M331 289v3M333 277v3M333 286v3M333 298v3M335 268v3M337 259v3M339 268v6M339 307v3M341 61v3M341 253v3M343 268v3M343 277v3M345 280v3M347 256v3M347 271v6M349 277v3M349 325v3M349 337v6M349 355v3M351 289v6M351 307v3M351 343v3M353 298v3M353 349v3M355 268v3M357 259v3M357 289v3M357 319v3M359 307v3M361 298v3M361 358v3M363 316v3M363 355v3M365 304v3M365 316v3M367 304v3M367 355v3M369 316v3M371 304v3M371 355v3M373 304v3M373 313v3M375 307v3M375 313v3M375 355v3M377 304v3M379 355v3M381 316v3M381 346v6M383 337v3M385 295v3M385 307v3M385 349v6M387 316v3M387 322v3M387 337v3M389 295v3M389 307v3M391 298v3M391 313v6M393 298v3M393 364v3M397 364v3M401 313v3M403 304v3M403 310v3M403 364v3M405 61v3M409 298v3M411 298v3M413 310v3M415 358v3M419 301v3M421 304v3M425 298v3M427 289v3M431 61v3M433 61v3M435 355v3M441 352v3M443 349v3M445 283v3M447 283v6M447 346v3M449 346v3M451 352v3M453 283v3M455 346v3M457 289v3M459 280v3M461 292v3M463 289v3M465 346v3M467 337v3M469 349v3M477 277v3M481 280v3M483 280v3M485 283v3M491 283v3M491 358v3M493 283v3M493 358v3M495 280v3M495 289v3M495 313v3M497 286v3M497 292v3M497 355v3M499 283v6M499 358v3M501 289v3M501 310v3M501 352v3M501 358v6M503 286v3M503 310v9M503 334v3M503 355v9M505 283v3M505 310v3M505 331v3M505 337v3M505 343v6M505 352v6M507 283v3M507 361v6M509 316v3M509 340v3M511 316v3M511 325v6M511 358v3M511 367v3M513 289v3M513 304v3M513 343v3M513 352v3M513 358v3M515 304v3M515 334v3M515 352v3M517 280v3M517 304v3M517 313v6M517 355v3M517 364v3M519 280v3M521 307v6M521 358v3M521 367v3M523 307v3M523 361v3M525 307v3M529 370v3M531 286v3M531 301v6M531 310v3M533 280v3M533 370v3M535 313v3M537 280v3M539 280v3M539 367v3M541 283v3M541 367v3M545 280v6M547 286v3M547 313v3M549 298v3M549 319v3M549 343v3M551 361v9M553 358v3M553 364v3M555 289v3M555 307v3M555 313v3M555 358v3M555 364v3M555 373v3M557 310v3M557 376v3M559 313v3M559 355v3M559 367v3M561 286v3M561 325v3M561 337v3M561 343v12M563 280v3M563 310v6M563 358v3M563 364v9M565 358v3M565 367v6M565 382v3M567 277v3M567 322v3M567 367v3M567 376v6M569 361v9M569 373v6M571 280v3M571 361v3M573 307v3M573 334v3M575 277v3M575 283v3M575 361v3M575 367v3M577 286v3M577 355v6M579 298v3M579 307v9M579 322v3M579 349v3M581 280v3M581 286v3M581 355v3M581 379v3M583 283v3M583 301v3M583 307v3M583 358v3M583 364v3M583 376v3M585 313v3M585 373v3M587 298v6M587 352v3M587 361v3M589 286v3M589 355v3M589 373v3M591 307v3M591 313v3M591 355v3M593 289v3M593 298v3M593 382v3M595 301v6M595 352v3M595 367v3M595 373v3M597 376v3M599 289v3M599 379v3M601 286v3M601 355v3M601 361v3M601 373v6M601 382v3M603 274v3M603 280v6M605 349v3M607 352v3M607 367v3M607 382v3M609 286v3M609 343v6M609 358v9M609 370v3M611 286v6M611 301v3M611 307v3M611 361v3M611 376v9M613 298v3M613 319v3M613 334v3M613 382v3M615 292v3M615 304v3M615 322v3M615 346v3M615 361v3M617 340v3M617 355v3M617 379v3M619 301v6M619 313v6M619 337v3M619 361v3M619 370v6M621 280v6M621 304v3M621 313v3M621 328v3M621 346v3M621 355v9M621 373v6M623 316v3M623 334v3M623 352v6M623 364v6M623 379v3M625 337v6M625 358v3M625 367v3M625 379v3M627 355v3M627 382v3M631 298v3M631 325v3M633 295v6M637 286v6M637 328v3M637 349v3M639 274v3M639 304v6M639 322v3M639 352v3M639 367v3M641 274v3M641 304v3M641 334v3"/>
<path stroke="#1bff00" d="M147 313v3M147 322v3M147 337v3M147 373v3M147 388v6M149 58v3M149 337v3M151 202v3M151 217v3M151 238v3M151 244v3M151 253v3M151 274v3M151 319v3M151 328v3M151 334v3M151 343v3M151 349v3M151 361v3M151 373v3M151 385v6M151 400v3M153 61v3M153 181v3M153 235v3M153 328v3M153 337v3M153 346v3M153 352v3M153 376v6M153 385v3M153 403v2M155 175v3M157 163v6M157 172v3M159 160v3M159 166v3M159 316v3M159 337v3M159 358v3M161 58v3M161 235v3M161 241v3M161 247v3M163 178v3M163 196v3M163 214v3M163 220v3M163 235v3M165 187v3M165 199v6M177 55v3M181 58v3M189 52v6M193 58v3M209 376v3M211 367v9M213 358v3M213 370v3M219 349v6M231 400v3M233 379v3M233 388v3M235 229v3M235 379v3M235 388v3M237 400v3M239 391v3M239 397v6M241 235v3M241 388v3M241 400v5M243 238v6M243 382v3M243 397v6M245 226v6M245 241v9M245 259v6M245 391v3M247 226v3M247 256v3M247 385v3M247 394v3M249 277v3M249 283v3M249 373v3M249 382v3M249 388v6M249 397v6M251 220v3M251 283v6M251 295v3M251 346v3M251 364v6M251 385v3M251 391v3M251 397v3M253 226v15M253 244v3M253 253v3M253 286v3M253 385v3M255 253v3M255 262v6M255 283v3M255 289v3M255 391v3M257 280v3M259 376v3M259 391v3M261 397v3M261 403v2M265 385v9M265 397v3M267 238v3M267 253v6M267 262v6M267 391v3M267 397v3M269 61v3M269 220v3M269 385v3M271 259v6M271 394v3M273 268v3M273 277v3M273 289v6M273 298v6M273 403v2M275 61v3M275 247v3M275 313v3M275 373v3M275 385v3M277 256v6M277 271v3M277 280v3M277 301v3M277 307v6M281 247v3M283 235v12M283 325v3M283 352v3M285 241v6M287 238v3M287 244v3M287 250v3M289 250v3M291 238v3M293 235v3M295 232v3M295 247v3M297 241v3M299 241v3M299 247v3M305 250v3M305 256v3M309 256v3M309 262v3M311 64v6M311 262v3M313 64v3M313 250v3M313 262v3M315 256v3M317 262v3M317 319v9M321 253v3M321 316v3M321 322v3M323 256v3M323 313v6M325 259v6M325 310v3M325 319v3M327 280v3M327 286v3M327 292v3M329 253v9M331 295v3M331 301v6M333 283v3M333 289v9M333 301v6M335 277v3M335 307v3M337 274v3M339 274v3M341 64v3M341 70v3M341 262v6M341 310v3M343 286v3M345 286v3M345 304v3M347 277v3M349 283v3M349 289v3M349 307v3M351 295v3M351 325v6M351 337v6M351 346v3M353 292v3M353 304v3M353 325v3M353 334v3M353 346v3M355 319v3M355 352v6M357 295v3M359 301v3M359 322v6M359 352v3M361 316v3M363 301v3M363 307v3M365 301v3M365 325v3M365 352v3M367 301v3M367 316v3M369 352v3M371 298v3M371 313v3M373 301v3M375 304v3M375 316v3M381 319v3M381 343v3M383 322v3M383 328v3M383 343v3M387 304v3M387 349v3M391 301v3M391 310v3M395 301v3M399 364v3M401 361v3M403 307v3M405 238v3M413 307v3M413 355v3M415 295v3M419 298v3M419 307v9M423 307v6M425 301v6M425 313v3M427 61v3M427 355v3M431 70v3M431 286v3M433 286v6M433 355v3M443 346v3M445 346v3M449 286v3M451 280v3M453 349v3M457 286v3M457 349v3M459 286v3M461 289v3M463 346v6M465 289v3M465 349v3M467 322v6M467 334v3M467 346v3M469 283v3M471 280v3M473 280v3M475 280v3M477 352v3M479 280v3M479 331v3M479 340v3M481 355v3M483 283v3M483 340v3M483 349v3M485 310v6M485 349v6M487 277v3M487 358v3M495 286v3M495 310v3M495 316v3M497 289v3M497 307v3M499 280v3M499 289v3M499 313v3M501 286v3M501 304v6M503 298v3M503 304v3M503 319v3M503 325v6M503 343v3M503 349v6M505 313v3M505 319v3M505 325v3M505 349v3M505 358v3M507 280v3M507 286v3M507 325v3M507 331v3M507 340v6M507 358v3M509 286v3M509 304v6M509 313v3M509 331v3M509 352v3M509 361v3M511 286v3M511 322v3M511 331v3M511 340v3M511 349v9M513 286v3M513 301v3M513 316v3M513 334v3M513 355v3M517 283v3M517 301v3M517 319v3M517 334v3M517 358v3M519 304v3M519 358v6M521 280v3M521 301v6M521 361v3M525 277v3M525 301v3M525 367v3M527 280v6M527 307v3M529 283v3M529 304v3M529 310v3M529 367v3M531 364v3M533 367v3M535 283v3M535 304v3M537 283v3M539 361v3M543 283v3M543 370v3M547 301v3M547 355v3M549 292v3M549 328v3M549 337v3M549 346v3M549 352v3M551 286v3M551 307v6M553 301v3M553 316v3M553 331v3M553 355v3M553 367v3M555 286v3M555 301v3M555 355v3M557 283v6M557 307v3M557 373v3M559 283v6M559 316v3M561 292v3M561 328v3M561 340v3M563 289v3M563 373v3M565 277v3M565 310v6M567 358v3M567 370v6M569 277v3M569 370v3M571 352v6M573 310v3M573 319v3M573 337v3M575 286v3M575 298v3M577 292v3M577 298v6M577 328v3M577 352v3M579 292v6M579 334v6M579 343v3M581 301v3M581 346v3M581 358v3M581 364v3M581 373v3M583 286v3M583 304v3M583 310v3M583 379v3M585 310v3M585 364v9M585 376v3M585 382v3M587 304v3M587 316v3M587 322v3M587 355v3M589 295v3M589 313v6M591 292v3M591 298v3M591 316v3M591 325v3M591 343v3M593 292v3M595 289v3M595 310v3M595 346v6M595 364v3M595 376v3M597 343v3M599 349v3M599 364v6M599 376v3M601 289v3M601 370v3M603 277v3M603 286v3M605 289v3M605 307v3M605 343v6M607 283v3M607 289v3M607 349v3M607 361v3M607 370v6M609 301v3M609 310v3M609 340v3M609 355v3M611 313v3M611 349v3M611 364v3M611 370v3M613 286v3M613 295v3M613 301v3M613 331v3M615 289v3M615 298v3M615 325v9M615 382v3M617 301v3M617 307v6M617 316v6M617 325v3M617 349v3M617 367v3M617 376v3M617 382v3M619 298v3M619 310v3M619 319v3M619 325v9M619 346v3M619 352v6M619 364v3M619 382v3M621 301v3M621 310v3M621 322v3M621 337v3M621 343v3M621 367v3M621 382v3M623 307v6M623 319v3M623 331v3M625 304v15M625 343v3M625 349v9M625 382v3M627 301v6M627 310v3M627 316v3M627 331v3M627 340v6M627 361v3M627 367v3M627 373v3M629 289v3M633 286v3M637 298v3M639 277v6M639 319v3M639 331v3M639 349v3M639 370v3M639 376v3M641 280v3M641 337v3M641 343v6M641 352v6M641 364v6M643 292v3"/>
<path stroke="#3cff00" d="M147 304v3M147 382v6M149 295v3M149 334v3M149 346v3M149 352v3M149 367v3M151 70v3M151 205v12M151 247v3M151 259v3M151 265v3M151 271v3M151 277v6M151 310v3M151 322v3M151 340v3M151 370v3M151 394v3M151 403v2M153 193v3M153 319v3M153 331v3M153 364v3M153 391v3M155 64v3M155 169v6M157 58v3M157 175v3M159 58v3M159 64v3M159 232v3M159 250v3M159 268v3M159 283v9M159 298v3M159 307v3M159 319v3M159 325v6M159 334v3M159 340v3M161 172v3M161 184v3M161 196v3M163 64v3M163 172v3M163 187v3M163 217v3M165 169v3M165 196v3M165 211v3M165 217v3M181 55v3M193 55v3M195 52v3M207 397v3M209 379v3M213 361v3M213 373v3M215 346v6M215 361v3M217 346v3M217 355v3M219 355v3M219 364v3M221 379v3M223 385v3M223 391v9M233 382v6M233 391v3M235 382v3M241 385v3M241 394v6M243 232v3M243 244v3M245 232v3M245 265v3M245 385v6M245 397v6M247 253v3M247 388v3M247 400v3M249 223v3M249 265v6M249 286v3M249 394v3M249 403v2M251 280v3M251 289v3M251 370v3M251 382v3M253 247v6M253 262v6M253 400v5M255 256v3M257 394v3M259 385v3M259 397v3M259 403v2M261 400v3M265 259v3M267 70v6M267 241v3M267 250v3M267 382v3M267 400v5M269 55v3M269 238v3M269 244v6M269 253v3M269 268v3M269 370v6M269 379v3M269 388v6M271 253v3M271 265v3M271 400v3M273 262v6M273 271v6M273 286v3M273 295v3M273 400v3M275 244v3M275 250v3M277 253v3M277 262v6M277 277v3M277 295v3M279 262v3M279 271v6M279 283v3M279 289v3M279 304v3M279 379v3M279 391v3M281 238v3M281 250v3M281 358v3M281 379v3M283 328v3M283 355v3M283 361v6M285 250v3M285 337v3M285 343v12M287 247v3M289 256v3M289 346v3M293 244v6M297 250v3M299 244v3M305 253v3M305 262v3M305 268v3M307 250v3M309 259v3M311 253v3M313 256v3M315 262v9M317 250v3M317 310v3M319 289v3M319 319v3M321 64v3M321 262v3M321 310v3M321 319v3M323 61v3M323 259v3M323 307v3M325 256v3M325 268v3M327 283v3M329 262v3M331 298v3M333 280v3M335 301v6M337 295v3M341 256v6M343 280v6M343 304v3M345 298v3M347 289v3M349 328v6M349 343v3M351 298v3M355 298v3M355 307v3M359 304v3M359 319v3M359 349v3M361 304v3M363 346v3M367 352v3M373 355v3M377 316v3M379 316v3M379 352v3M381 334v3M383 319v3M383 340v3M383 346v3M385 298v3M385 316v3M385 355v3M387 331v6M389 355v3M391 304v6M391 319v3M391 352v3M393 316v3M395 358v3M399 301v3M399 310v6M401 316v3M403 301v3M405 298v3M405 364v3M407 301v3M409 301v3M409 358v3M411 304v3M411 310v3M411 355v3M413 304v3M413 313v3M415 307v3M417 307v6M423 301v6M425 307v3M427 292v3M431 289v3M433 352v3M435 352v3M437 286v3M437 352v3M439 292v3M439 346v3M441 283v3M441 346v6M443 283v3M449 343v3M453 286v3M453 346v3M455 292v3M455 340v3M457 346v3M459 283v3M461 313v3M461 337v3M461 346v3M463 292v3M465 292v3M467 295v3M467 304v3M467 310v3M467 328v3M467 340v3M471 283v6M471 349v3M473 283v3M473 349v3M475 310v3M477 280v3M479 349v3M481 286v3M481 340v3M483 286v3M483 325v3M483 334v6M483 343v3M483 352v3M485 331v3M485 340v9M489 280v3M489 355v3M491 280v3M495 292v3M497 313v3M497 343v3M499 310v3M501 301v3M501 313v6M501 322v3M501 328v3M501 337v3M501 355v3M503 292v3M503 307v3M503 331v3M503 346v3M505 289v3M505 298v3M505 334v3M507 304v6M507 322v3M509 319v6M509 328v3M509 334v3M509 343v9M509 355v3M511 319v3M511 334v6M511 346v3M513 298v3M513 310v3M515 292v3M517 310v3M517 331v3M517 337v6M519 301v3M519 364v3M521 283v3M521 355v3M523 280v3M523 310v3M523 364v6M525 304v3M525 358v3M527 304v3M527 310v3M529 301v3M529 307v3M531 298v3M531 307v3M531 316v3M531 358v3M531 367v3M535 289v3M535 325v3M535 334v3M539 283v3M539 364v3M545 286v3M547 304v3M549 325v3M549 340v3M551 304v3M551 358v3M551 370v3M553 292v3M553 298v3M553 328v3M553 334v3M557 358v6M557 367v3M559 289v3M559 301v6M559 325v9M559 352v3M561 289v3M561 298v3M561 331v6M563 283v3M563 322v3M563 346v3M565 280v3M565 364v3M567 280v3M567 316v3M567 352v3M569 283v3M569 319v3M571 292v3M571 322v3M571 343v3M573 289v3M573 295v6M573 313v6M573 322v9M573 340v3M573 349v6M575 301v3M575 307v3M575 352v3M577 289v3M577 307v3M577 319v3M577 340v6M579 319v3M579 325v6M579 352v3M581 289v3M581 307v3M581 316v3M583 319v3M583 355v3M585 289v3M585 301v6M587 286v3M587 292v3M587 340v6M587 364v3M589 292v3M589 346v9M589 358v3M591 319v3M591 334v3M591 352v3M593 295v3M593 340v9M595 292v3M595 313v3M597 289v6M597 301v3M597 307v3M597 313v3M599 382v3M601 349v6M601 367v3M601 379v3M603 358v3M603 373v3M605 301v6M605 340v3M605 364v3M607 307v6M607 343v6M607 358v3M607 376v3M609 304v3M609 313v3M609 367v3M609 373v3M613 289v3M613 325v3M615 286v3M615 316v3M617 313v3M617 322v3M617 328v6M617 337v3M617 358v3M617 370v6M619 292v3M619 334v3M621 364v3M621 379v3M623 298v3M625 280v3M625 322v3M625 328v3M625 346v3M625 364v3M625 373v6M627 283v3M627 298v3M627 313v3M627 346v9M627 364v3M627 370v3M627 376v3M629 295v3M631 289v3M631 295v3M633 289v3M639 283v3M639 298v3M639 337v3M639 343v6M639 361v3M639 373v3M641 283v3M641 301v3M641 331v3M643 298v3"/>
<path stroke="#5dff00" d="M135 232v15M137 232v15M139 232v15M147 307v6M147 364v9M147 376v3M149 298v3M149 310v9M149 331v3M149 355v3M149 391v3M149 400v5M151 61v3M151 241v3M151 250v3M151 268v3M151 283v3M151 289v6M151 313v6M151 325v3M151 331v3M151 337v3M151 346v3M151 358v3M151 379v6M151 397v3M153 70v3M153 187v3M153 226v3M153 232v3M153 313v3M155 178v3M157 169v3M157 178v3M157 238v3M159 52v3M159 61v3M159 172v6M159 187v3M159 235v6M159 253v3M159 274v3M159 280v3M159 301v3M159 322v3M159 391v3M159 400v3M161 175v3M161 187v3M161 205v3M161 217v6M161 256v3M163 61v3M163 175v3M163 190v3M163 202v12M165 52v3M165 61v3M165 172v9M165 193v3M165 205v6M179 55v3M183 55v3M191 58v3M209 400v3M211 376v3M213 367v3M215 364v3M217 349v3M219 370v3M221 382v3M221 388v9M223 400v3M235 385v3M239 403v2M245 238v3M245 253v3M247 235v3M247 241v6M249 229v3M249 238v3M249 250v3M249 271v3M249 280v3M251 268v3M251 274v6M251 298v9M251 373v3M251 379v3M251 400v5M253 241v3M253 259v3M255 394v3M255 400v3M257 397v3M257 403v2M265 403v2M267 64v3M267 247v3M267 259v3M267 388v3M267 394v3M269 73v3M269 241v3M269 250v3M269 271v3M271 403v2M273 253v9M275 310v3M275 394v3M277 268v3M277 286v3M277 292v3M277 397v3M279 256v3M279 277v6M279 385v3M281 253v3M281 262v3M281 280v3M281 316v3M281 382v6M283 322v3M283 367v3M283 373v3M285 247v3M285 334v3M285 340v3M287 253v3M287 280v3M287 319v3M287 334v3M287 340v3M287 352v3M289 337v3M291 253v3M295 250v3M301 268v3M303 250v3M305 274v3M305 295v3M307 253v3M307 265v3M311 256v3M313 253v3M313 265v3M315 70v3M315 289v3M317 256v3M317 271v3M317 316v3M321 61v3M321 265v3M321 313v3M321 325v6M323 64v3M325 61v3M325 265v3M325 307v3M327 289v3M327 295v3M327 304v3M329 289v3M329 304v3M331 283v3M331 292v3M335 283v9M337 277v6M337 286v3M337 298v9M339 298v3M339 304v3M343 274v3M343 289v6M345 289v3M347 298v3M349 292v6M351 331v3M353 328v6M353 343v3M355 322v3M357 307v3M357 352v6M359 343v6M361 319v3M361 340v3M363 304v3M365 322v3M365 343v3M369 322v3M377 352v3M379 334v3M379 349v3M381 322v3M381 328v3M381 337v6M383 325v3M383 331v3M385 304v3M385 328v3M385 337v6M387 325v3M387 343v3M389 301v3M389 313v3M389 352v3M391 334v3M393 307v3M395 316v3M399 304v6M401 331v3M401 349v12M403 361v3M409 352v3M411 301v3M411 307v3M413 301v3M413 331v3M415 298v3M415 355v3M417 355v3M419 355v3M421 310v9M423 352v3M425 310v3M425 334v3M425 349v3M427 70v3M427 295v3M429 289v9M431 64v3M435 346v6M441 286v3M441 343v3M443 343v3M447 343v3M449 340v3M451 283v3M455 289v3M455 295v3M455 310v3M455 343v3M459 289v3M459 349v3M461 307v6M461 340v3M463 310v3M463 325v3M463 343v3M465 331v3M465 340v6M467 298v6M467 313v3M467 343v3M469 286v6M469 346v3M473 340v3M475 283v3M477 337v3M477 346v6M479 283v3M481 283v3M481 334v3M481 352v3M483 289v3M483 328v3M483 346v3M485 316v3M485 328v3M485 337v3M487 352v6M489 322v3M489 328v3M491 334v3M493 286v3M493 355v3M495 328v3M495 340v3M495 346v3M495 352v6M497 331v3M497 352v3M499 316v3M499 334v3M499 355v3M501 325v3M501 334v3M501 349v3M503 301v3M503 322v3M503 337v3M505 301v3M505 322v3M505 328v3M507 301v3M507 310v12M507 328v3M507 337v3M507 346v6M509 289v3M509 301v3M509 310v3M509 325v3M511 289v3M511 301v3M511 307v3M511 343v3M517 286v3M517 307v3M517 322v3M517 346v3M519 283v3M519 298v3M519 307v9M519 331v3M519 340v3M519 349v6M521 295v3M521 316v3M521 322v3M521 334v3M523 313v3M523 358v3M525 280v6M525 313v3M527 301v3M529 313v3M531 313v3M533 286v3M533 304v3M535 286v3M535 298v6M535 310v3M535 316v6M535 328v3M535 346v9M535 358v9M537 289v3M537 361v3M539 292v3M541 361v3M543 364v3M545 364v3M547 292v9M547 307v3M547 319v6M547 331v3M547 352v3M549 322v3M549 334v3M549 349v3M551 289v3M551 313v6M551 355v3M553 319v3M553 337v6M555 292v3M555 298v3M555 316v3M555 337v3M557 301v6M557 355v3M557 364v3M559 292v3M559 319v3M559 334v6M559 346v6M563 349v9M565 304v6M565 355v3M565 361v3M567 310v3M567 325v3M567 343v3M567 355v3M569 307v3M569 313v3M569 349v3M571 283v3M571 301v3M571 307v3M571 313v3M571 319v3M571 331v3M571 349v3M573 286v3M573 331v3M573 343v3M575 295v3M575 310v3M575 319v6M575 331v3M575 337v6M575 346v3M575 355v3M577 313v3M577 322v6M577 337v3M581 283v3M581 292v3M581 298v3M583 289v3M583 298v3M583 331v3M585 307v3M585 352v9M587 289v3M589 328v3M589 337v3M591 295v3M591 331v3M591 337v6M591 346v3M593 316v9M593 328v9M595 298v3M595 307v3M595 316v3M595 325v9M595 340v3M597 298v3M597 337v3M597 346v3M599 292v3M599 304v6M599 313v3M599 346v3M599 358v3M599 370v3M601 340v3M603 349v6M603 361v3M603 379v3M605 292v3M605 298v3M605 319v3M607 286v3M607 298v3M607 304v3M609 298v3M609 307v3M611 292v3M611 337v6M613 316v3M615 334v3M617 304v3M617 334v3M617 343v3M617 352v3M617 361v3M619 283v3M619 343v3M619 358v3M621 298v3M623 301v3M625 301v3M625 325v3M625 334v3M625 361v3M625 370v3M627 292v3M627 307v3M629 286v3M631 286v3M631 292v3M637 292v6M639 286v3M639 301v3M639 328v3M639 334v3M639 355v3M639 364v3M641 286v3M641 349v3M643 295v3"/>
<path stroke="#7eff00" d="M147 379v3M149 322v6M149 340v3M149 361v6M149 388v3M149 394v6M151 199v3M151 286v3M151 295v3M151 364v3M153 196v6M153 223v3M155 55v3M155 181v6M157 52v3M157 70v6M157 181v3M157 223v3M159 181v6M159 223v6M159 241v9M159 265v3M159 292v6M159 331v3M159 343v9M159 361v3M159 367v3M159 385v3M159 394v3M161 178v6M161 190v3M161 199v6M161 208v3M163 181v6M163 193v3M163 199v3M165 58v3M165 190v3M177 52v3M191 55v3M209 382v6M209 397v3M211 379v3M211 388v3M211 400v3M213 376v3M213 391v3M213 403v2M215 352v6M215 367v3M215 373v3M217 352v3M217 364v3M217 370v3M221 385v3M221 397v3M223 403v2M233 394v3M237 403v2M245 235v3M245 250v3M247 229v6M247 247v6M247 259v6M249 241v3M249 247v3M249 301v3M251 271v3M251 376v3M251 394v3M253 397v3M257 400v3M259 394v3M267 385v3M269 64v6M269 262v3M269 382v3M269 394v3M269 403v2M275 256v3M275 277v6M275 304v3M277 304v3M277 394v3M277 400v5M279 265v3M279 307v3M279 388v3M281 265v12M281 283v12M281 301v3M281 313v3M283 247v3M283 274v3M283 319v3M283 331v3M283 358v3M283 376v3M285 322v3M285 358v3M287 286v3M287 343v3M287 349v3M287 358v3M289 253v3M291 328v3M293 238v6M295 253v3M299 250v3M301 250v3M305 265v3M305 283v3M305 310v3M307 256v3M309 271v3M309 289v3M311 259v3M315 271v3M315 280v3M315 331v3M317 67v3M319 268v3M319 280v3M319 292v6M319 301v3M319 307v3M321 298v3M321 307v3M323 271v6M323 280v3M323 289v3M325 271v3M325 280v3M325 301v3M327 298v3M329 67v3M329 283v6M329 292v3M329 298v3M331 286v3M335 292v9M337 283v3M337 292v3M339 283v9M341 67v3M345 292v6M347 292v6M347 301v6M349 304v3M349 334v3M351 301v3M351 334v3M353 301v3M355 325v3M357 298v3M357 304v3M359 331v3M361 301v3M361 328v6M361 343v12M363 331v3M365 319v3M365 346v6M367 328v3M369 319v3M371 316v3M371 322v3M371 352v3M375 319v3M375 352v3M377 337v6M377 349v3M379 319v3M379 337v6M379 346v3M381 325v3M381 331v3M385 325v3M385 334v3M385 346v3M387 340v3M389 316v3M389 346v3M391 325v6M391 340v6M393 301v3M393 319v3M393 358v6M395 310v3M395 319v3M395 361v3M397 301v6M397 310v6M401 319v9M405 304v9M405 361v3M407 307v3M409 304v3M409 355v3M411 313v3M411 352v3M413 328v3M413 352v3M417 313v6M419 352v3M421 352v3M423 313v3M423 343v3M423 349v3M425 346v3M425 352v3M427 352v3M431 292v3M431 352v3M435 289v6M437 289v3M437 346v3M439 289v3M441 292v3M445 337v9M447 325v3M447 337v6M449 298v3M451 286v3M453 289v3M453 298v3M453 343v3M455 298v3M455 316v3M455 328v3M455 337v3M457 292v3M461 331v6M463 328v3M463 334v3M465 298v3M465 307v3M465 316v3M467 307v3M467 331v3M469 292v3M469 340v3M471 289v3M471 337v3M471 346v3M473 346v3M475 313v3M475 331v3M475 340v3M477 283v3M479 346v3M481 307v6M481 328v3M481 337v3M481 343v3M481 349v3M483 307v3M483 313v6M483 331v3M485 292v3M485 325v3M487 280v3M489 283v6M489 331v9M489 349v3M491 289v3M491 337v3M491 352v6M493 289v3M493 310v6M493 343v3M493 349v3M495 298v3M497 298v3M497 304v3M497 316v6M497 325v3M497 334v3M497 340v3M497 346v3M499 292v3M499 304v6M499 328v6M499 349v3M501 295v6M501 340v6M505 292v6M507 292v3M507 334v3M507 355v3M509 292v3M509 337v3M509 358v3M511 298v3M513 292v3M517 289v3M517 298v3M517 325v3M517 352v3M519 355v3M521 313v3M521 319v3M521 337v9M523 355v3M525 361v3M527 286v3M527 298v3M527 364v3M529 286v3M529 364v3M531 289v6M531 331v3M531 337v3M531 346v3M531 355v3M531 361v3M533 283v3M533 310v3M533 364v3M535 292v3M535 307v3M535 322v3M535 331v3M535 337v3M535 355v3M537 310v3M537 316v3M537 349v6M537 364v3M539 286v3M539 316v3M539 358v3M541 286v3M541 316v3M541 343v3M543 367v3M545 367v6M547 289v3M547 316v3M547 328v3M547 334v6M547 343v3M549 295v3M549 331v3M551 298v6M551 325v3M553 295v3M553 325v3M555 340v6M555 349v6M557 289v3M557 313v3M557 346v3M559 295v6M559 322v3M559 340v6M561 295v3M563 304v3M563 319v3M563 325v6M563 340v6M565 283v3M565 319v3M565 328v6M565 349v3M567 283v3M567 307v3M567 319v3M567 328v3M569 280v3M569 310v3M569 316v3M569 322v3M569 328v3M569 337v3M569 352v6M571 304v3M571 310v3M571 316v3M571 325v6M571 346v3M573 346v3M575 289v6M575 304v3M575 328v3M577 334v3M577 349v3M579 331v3M579 340v3M581 310v6M581 319v3M581 331v3M583 292v3M583 328v3M583 337v3M583 352v3M585 322v3M585 334v3M585 349v3M587 334v3M587 346v6M589 325v3M589 331v6M591 322v3M591 328v3M593 325v3M593 337v3M597 316v3M597 325v3M597 331v6M599 310v3M599 316v3M599 334v6M601 295v6M601 304v3M601 334v3M601 343v6M603 355v3M603 364v6M603 376v3M605 313v6M605 331v3M605 337v3M607 301v3M607 316v3M607 340v3M609 289v3M609 316v3M609 337v3M611 298v3M611 316v3M611 325v3M611 334v3M613 292v3M615 295v3M617 283v3M619 286v3M621 292v6M623 283v9M623 295v3M625 331v3M627 295v3M639 289v3M639 340v3M639 358v3M641 289v3M641 298v3"/>
<path stroke="#9eff00" d="M147 394v6M149 343v3M149 358v3M149 370v9M151 298v3M153 220v3M153 229v3M153 238v3M153 295v3M155 58v3M155 67v3M155 190v3M157 187v3M157 292v3M159 67v3M159 190v6M159 220v3M159 229v3M159 364v3M159 376v6M159 388v3M159 397v3M161 193v3M161 211v3M165 181v6M165 214v3M181 52v3M183 58v3M185 55v3M191 52v3M193 52v3M209 391v3M211 382v3M211 391v9M213 364v3M215 358v3M215 370v3M217 358v6M217 367v3M219 373v9M233 397v3M235 394v3M247 238v3M249 232v6M249 253v6M251 256v3M251 388v3M255 403v2M269 256v3M269 265v3M269 397v6M275 253v3M275 259v3M275 265v3M275 274v3M275 286v6M275 397v3M277 289v3M279 259v3M279 268v3M279 286v3M279 298v6M279 310v3M279 394v3M281 256v6M281 277v3M281 394v3M283 250v3M283 313v3M283 370v3M285 319v3M285 331v3M287 256v3M287 265v3M287 322v3M287 328v3M287 337v3M287 346v3M287 355v3M289 277v3M289 298v3M289 307v3M289 322v3M289 340v6M289 349v3M289 355v3M291 259v3M293 250v3M295 310v3M297 268v3M297 337v3M301 253v3M301 265v3M303 256v12M303 274v3M303 298v3M305 259v3M305 271v3M305 277v3M305 286v9M305 301v3M305 307v3M305 319v6M305 331v6M307 262v3M307 268v3M307 280v3M307 304v3M309 265v3M309 274v3M309 280v3M309 286v3M309 313v6M309 340v3M311 265v3M311 328v3M313 268v3M313 322v3M315 283v3M315 310v6M315 328v3M317 265v6M317 283v6M317 295v6M319 274v3M319 283v3M319 304v3M321 301v3M323 265v3M325 274v3M327 301v3M329 280v3M329 295v3M329 301v3M335 280v3M337 289v3M339 277v3M339 301v3M341 268v6M341 307v3M345 301v3M353 337v3M355 346v6M357 322v3M357 346v3M359 328v3M359 334v3M359 340v3M361 322v3M361 337v3M363 322v3M363 340v3M365 337v6M367 319v6M367 349v3M369 325v6M369 340v3M369 349v3M373 316v9M373 352v3M375 322v3M375 334v9M377 319v3M377 325v3M377 334v3M377 343v3M385 301v3M385 319v6M385 331v3M389 304v3M389 319v6M389 358v3M391 322v3M391 331v3M391 337v3M391 346v6M393 304v3M393 310v3M393 355v3M395 304v6M395 313v3M395 337v3M395 346v3M395 355v3M397 361v3M399 361v3M401 328v3M401 334v3M401 340v3M403 313v3M405 301v3M407 310v3M407 331v3M407 358v3M409 307v6M413 316v3M413 325v3M415 304v3M415 310v3M417 322v3M419 337v3M421 319v3M423 316v3M423 322v3M423 337v6M423 346v3M425 340v3M427 301v3M427 307v3M429 352v3M435 325v3M435 331v3M435 343v3M437 292v3M437 325v3M437 343v3M437 349v3M439 322v3M439 340v6M441 322v3M441 340v3M443 286v6M443 295v3M443 331v3M445 286v6M445 322v3M445 331v3M447 289v6M447 298v6M449 289v6M449 313v3M449 334v6M451 346v6M455 334v3M457 295v3M457 340v3M461 295v3M461 343v3M463 295v3M463 307v3M463 313v3M463 337v6M465 295v3M465 310v3M465 325v3M465 334v6M469 313v3M471 310v3M471 343v3M473 337v3M475 286v3M475 334v3M475 343v3M477 328v3M477 334v3M477 343v3M479 286v3M479 292v3M479 310v3M479 316v6M479 328v3M479 337v3M481 304v3M481 313v3M483 292v3M483 310v3M485 289v3M485 298v3M485 322v3M485 334v3M487 283v6M489 340v9M489 352v3M491 313v3M491 328v3M491 343v3M491 349v3M493 319v3M493 325v3M493 331v3M493 346v3M495 307v3M495 319v3M495 331v3M495 337v3M495 343v3M495 349v3M497 328v3M497 349v3M499 295v6M499 319v3M499 337v6M501 292v3M501 319v3M501 331v3M501 346v3M507 298v3M511 292v3M515 295v3M517 295v3M517 328v3M517 343v3M517 349v3M519 316v9M519 343v6M521 328v6M521 352v3M523 283v3M523 316v3M523 322v3M523 328v3M523 334v3M523 346v3M525 310v3M525 316v3M525 328v3M525 349v3M525 364v3M527 313v6M527 352v3M527 358v6M529 289v3M529 358v3M533 307v3M533 331v3M535 295v3M535 343v3M537 292v3M537 298v3M537 319v3M537 331v3M539 304v9M539 319v3M539 337v3M539 343v3M539 352v3M541 307v9M541 319v3M541 337v3M541 349v3M541 358v3M541 364v3M543 286v3M545 358v6M547 325v3M547 346v6M551 337v6M551 346v3M553 322v3M553 343v3M553 349v3M555 295v3M555 325v12M557 292v3M557 337v3M557 349v6M563 301v3M563 331v3M565 292v3M565 301v3M565 316v3M565 322v3M565 343v3M565 352v3M567 286v3M567 304v3M567 313v3M567 331v6M567 340v3M567 346v3M569 295v3M569 304v3M569 334v3M569 346v3M571 337v3M573 292v3M575 316v3M575 343v3M575 349v3M577 310v3M577 316v3M577 331v3M577 346v3M579 346v3M581 295v3M581 322v6M581 334v3M581 352v3M583 295v3M583 313v3M583 340v12M585 295v6M585 316v6M585 328v6M585 337v3M587 295v3M587 319v3M587 328v6M587 337v3M589 319v6M589 340v6M595 322v3M595 337v3M597 295v3M597 322v3M597 328v3M599 295v3M599 301v3M599 340v6M601 307v6M603 346v3M603 370v3M603 382v3M605 295v3M605 310v3M605 322v9M605 334v3M607 313v3M609 292v6M609 322v3M609 328v3M611 319v6M611 331v3M617 289v3M617 298v3M619 295v3M621 289v3M623 292v3M625 283v3M625 298v3M625 319v3M641 292v6"/>
<path stroke="#bfff00" d="M147 403v2M149 301v9M149 319v3M149 328v3M149 349v3M149 379v9M151 304v6M153 202v3M153 217v3M153 253v3M153 271v6M155 61v3M155 70v3M155 187v3M155 193v3M157 226v12M157 241v3M157 271v3M159 70v3M159 178v3M159 199v6M159 211v3M159 259v3M159 277v3M159 355v3M159 370v6M159 382v3M161 214v3M209 394v3M209 403v2M211 385v3M211 403v2M213 379v6M219 385v3M221 403v2M233 403v2M235 397v3M249 259v6M251 226v3M251 241v3M251 247v3M251 259v3M251 265v3M267 67v3M269 259v3M275 262v3M275 307v3M275 403v2M277 298v3M279 292v3M281 307v6M281 388v3M283 262v3M283 316v3M285 253v6M285 316v3M285 325v6M285 361v6M287 295v3M287 316v3M287 325v3M287 331v3M287 361v3M289 259v3M289 271v3M289 283v3M289 292v3M289 310v3M289 316v6M289 331v6M289 352v3M291 262v3M291 301v3M291 307v3M291 346v3M291 352v3M291 358v3M295 313v3M295 328v3M297 253v3M297 265v3M297 289v3M297 313v3M297 322v3M299 253v3M301 259v6M301 274v3M301 334v3M303 268v3M303 310v3M303 316v3M305 325v6M305 367v3M307 283v3M307 295v3M307 307v3M307 334v3M309 277v3M309 283v3M309 295v6M309 304v3M309 310v3M309 319v6M309 328v3M309 334v3M311 283v3M313 271v6M313 283v3M313 310v12M313 334v3M315 274v3M315 286v3M315 292v9M315 316v3M315 322v6M315 337v6M317 280v3M317 301v3M319 271v3M319 286v3M321 268v3M321 277v3M321 286v3M321 304v3M323 268v3M323 277v3M323 283v6M323 292v3M323 298v9M325 277v3M325 286v6M325 304v3M329 277v3M331 280v3M339 280v3M339 292v6M341 274v3M341 283v3M343 301v3M351 304v3M353 340v3M355 301v6M355 328v6M355 337v3M355 343v3M357 301v3M357 325v3M357 340v6M357 349v3M359 337v3M361 325v3M361 334v3M363 319v3M363 337v3M363 343v3M363 349v6M365 328v6M367 340v3M369 346v3M371 328v3M371 349v3M373 343v3M373 349v3M375 328v3M375 349v3M377 322v3M377 328v6M377 346v3M379 322v6M379 331v3M379 343v3M389 331v9M389 349v3M393 313v3M393 322v3M393 352v3M395 334v3M395 343v3M397 316v3M397 325v3M397 355v3M399 355v6M401 343v6M403 355v6M407 304v3M407 313v3M407 355v3M409 313v3M409 331v3M409 343v3M411 316v3M411 334v3M413 319v3M413 334v12M413 349v3M415 316v3M415 352v3M417 319v3M419 316v3M419 346v3M421 346v3M423 319v3M423 325v3M423 331v6M425 316v3M425 322v3M425 328v3M425 337v3M427 298v3M427 304v3M427 310v3M427 346v3M429 298v6M429 307v3M429 349v3M433 292v3M433 304v3M435 304v3M435 316v6M435 337v3M437 316v3M437 322v3M437 337v3M443 322v3M447 295v3M447 313v3M447 319v3M449 295v3M449 331v3M453 292v3M453 310v6M453 328v3M453 334v9M455 307v3M455 319v6M457 304v3M457 337v3M459 337v3M461 301v3M461 316v3M461 325v3M463 301v3M465 304v3M465 319v3M465 328v3M467 316v6M469 295v3M469 301v6M469 322v3M469 328v6M469 337v3M473 286v6M473 310v6M473 325v3M473 331v3M473 343v3M475 292v6M475 322v3M475 337v3M477 289v3M477 310v3M477 322v3M477 340v3M479 301v9M479 313v3M481 301v3M481 322v6M481 331v3M481 346v3M483 295v6M483 304v3M483 322v3M485 295v3M485 304v6M485 319v3M487 289v3M487 319v3M487 328v3M487 334v9M489 289v3M489 310v12M489 325v3M491 286v3M491 310v3M491 316v3M491 322v3M491 331v3M491 340v3M491 346v3M493 292v3M493 307v3M493 316v3M493 328v3M493 337v3M493 352v3M495 295v3M495 301v6M495 334v3M497 295v3M497 301v3M497 322v3M497 337v3M499 301v3M499 325v3M499 346v3M499 352v3M503 295v3M507 289v3M509 295v6M511 295v3M513 295v3M519 289v3M519 325v3M519 334v3M521 298v3M521 325v3M521 346v6M523 340v3M523 349v6M525 298v3M525 331v3M525 340v3M525 352v3M527 289v3M527 334v3M529 292v3M529 316v3M529 325v3M529 346v3M529 361v3M531 295v3M531 322v9M531 340v6M533 295v3M533 301v3M533 313v6M533 340v3M533 346v3M533 361v3M535 340v3M537 301v9M537 325v3M537 334v3M537 346v3M539 289v3M539 298v6M539 322v3M539 328v9M539 340v3M541 289v3M541 298v3M541 304v3M541 322v3M541 334v3M541 346v3M543 352v9M545 289v3M545 307v9M545 355v3M547 340v3M551 292v3M551 319v3M551 334v3M551 343v3M551 349v6M553 346v3M553 352v3M555 322v3M555 346v3M557 316v3M557 328v6M557 340v6M563 286v3M563 292v3M563 334v3M565 325v3M565 334v9M565 346v3M567 349v3M569 325v3M569 331v3M569 340v6M571 295v6M571 334v3M571 340v3M575 313v3M575 334v3M577 295v3M581 328v3M581 340v6M581 349v3M583 316v3M583 334v3M585 292v3M585 340v3M587 325v3M595 295v3M595 319v3M595 343v3M597 319v3M599 331v3M601 292v3M601 313v3M601 331v3M601 337v3M603 289v3M603 343v3M607 292v3M607 325v3M607 331v9M609 319v3M609 334v3M611 295v3M617 286v3M617 295v3M621 286v3M625 292v6M627 286v3"/>
<path stroke="#e0ff00" d="M135 154v6M137 154v6M139 154v6M147 400v3M149 61v3M151 301v3M153 208v3M153 244v3M153 250v3M153 265v6M153 283v3M153 292v3M155 232v9M157 61v6M157 193v3M157 220v3M157 244v3M157 268v3M157 283v6M157 295v15M159 196v3M159 256v3M159 262v3M159 352v3M159 403v2M209 388v3M213 388v3M213 397v3M219 400v3M221 400v3M235 403v2M249 244v3M251 229v3M251 235v3M251 262v3M259 400v3M275 271v3M275 283v3M275 292v3M275 298v6M279 403v2M281 304v3M281 391v3M283 253v6M283 280v6M283 379v6M285 259v3M285 286v3M285 313v3M285 355v3M285 367v6M287 262v3M287 268v3M287 283v3M287 298v3M287 313v3M287 364v3M287 373v3M289 265v6M289 274v3M289 286v6M289 325v3M291 271v3M291 280v3M291 304v3M291 313v3M291 322v6M291 340v3M293 253v3M295 256v3M295 274v3M295 292v3M295 307v3M295 325v3M295 331v3M295 340v3M297 256v3M297 283v3M297 307v3M297 316v6M297 331v3M297 340v6M299 265v3M299 295v3M299 307v3M299 313v3M299 322v3M299 337v3M301 271v3M301 292v6M301 313v3M301 331v3M303 253v3M303 271v3M303 277v3M303 286v3M303 307v3M303 313v3M303 319v3M303 331v6M303 343v3M305 280v3M307 259v3M307 271v6M307 286v3M307 292v3M309 292v3M309 301v3M309 325v3M311 313v9M311 334v3M313 280v3M313 325v3M315 307v3M315 319v3M315 334v3M315 349v3M317 274v3M317 289v3M317 307v3M319 277v3M321 280v3M321 292v6M323 295v3M325 283v3M325 292v6M341 277v3M341 298v3M341 304v3M343 298v3M349 301v3M355 334v3M355 340v3M357 328v12M363 325v3M365 334v3M367 325v3M367 331v6M367 343v6M369 334v3M369 343v3M371 331v3M373 328v3M373 337v6M375 331v3M375 343v3M379 328v3M385 343v3M389 343v3M393 340v3M395 331v3M395 340v3M395 349v3M397 307v3M397 358v3M399 316v3M403 316v3M403 322v3M405 316v3M407 316v3M407 325v3M409 316v6M409 346v3M411 340v3M411 349v3M413 322v3M417 343v3M417 352v3M419 322v3M419 340v3M419 349v3M421 322v3M421 334v6M423 328v3M425 325v3M425 331v3M425 343v3M427 313v3M427 349v3M429 304v3M429 316v3M429 322v3M429 334v3M429 346v3M431 295v6M433 295v3M433 301v3M433 307v3M433 316v3M433 322v3M433 331v3M433 337v3M433 349v3M435 313v3M435 328v3M437 295v3M439 298v3M439 316v6M439 334v3M441 289v3M441 319v3M441 331v3M441 337v3M443 292v3M443 316v3M443 337v6M445 325v3M445 334v3M447 307v3M447 316v3M447 322v3M447 328v6M449 316v12M451 340v3M453 304v3M453 316v3M453 322v3M455 304v3M455 313v3M457 298v3M457 310v3M457 316v6M457 343v3M459 298v3M459 343v3M461 298v3M461 304v3M461 319v3M461 328v3M463 298v3M463 304v3M463 331v3M465 301v3M469 298v3M469 310v3M469 319v3M469 343v3M471 295v6M471 304v6M471 313v3M471 328v3M471 340v3M473 298v3M473 304v6M473 316v6M473 328v3M473 334v3M475 289v3M475 298v3M475 307v3M475 316v3M477 286v3M477 295v3M477 304v6M477 313v6M477 325v3M479 295v3M479 322v6M479 334v3M479 343v3M481 316v3M483 319v3M487 313v3M487 325v3M487 343v9M491 292v3M491 319v3M493 295v3M493 334v3M495 322v6M499 322v3M499 343v3M519 295v3M519 328v3M519 337v3M521 289v3M523 298v3M523 319v3M523 337v3M525 286v3M525 292v3M525 319v6M525 337v3M525 346v3M527 292v3M527 319v6M527 328v6M527 337v3M527 346v3M529 295v6M529 334v6M529 355v3M531 334v3M531 352v3M533 289v3M533 319v3M533 325v3M533 349v3M537 313v3M537 322v3M537 328v3M539 349v3M539 355v3M541 292v3M541 301v3M541 325v3M541 340v3M541 355v3M543 310v3M543 361v3M545 337v3M545 343v3M551 295v3M551 328v6M557 298v3M557 334v3M563 298v3M563 337v3M565 286v3M565 298v3M567 292v3M567 337v3M569 298v3M571 286v6M583 322v6M595 334v3M597 340v3M599 319v12M601 301v3M601 325v3M603 292v3M603 298v6M603 307v3M603 334v3M607 295v3M609 325v3M609 331v3M611 328v3M625 289v3M639 295v3"/>
<path stroke="#fffe00" d="M153 214v3M153 241v3M153 256v9M153 280v3M153 289v3M153 307v3M155 202v3M155 220v3M155 226v6M157 184v3M157 190v3M157 196v3M157 202v3M157 256v3M157 262v6M157 274v9M159 208v3M159 217v3M213 400v3M215 376v9M217 373v3M219 382v3M219 394v6M219 403v2M233 400v3M235 400v3M251 232v3M251 238v3M251 244v3M275 268v3M275 295v3M279 295v3M281 295v3M283 259v3M283 277v3M283 286v3M283 301v3M283 310v3M285 262v3M285 268v3M285 280v3M287 259v3M287 271v9M287 289v6M287 370v3M289 262v3M289 280v3M289 295v3M289 304v3M289 313v3M289 328v3M289 358v3M291 256v3M291 268v3M291 286v3M291 292v3M291 310v3M291 316v3M291 334v6M293 316v3M295 265v9M295 280v9M295 301v6M295 316v3M295 343v3M297 259v6M297 274v9M297 361v3M299 268v6M299 283v6M299 292v3M299 331v3M299 340v6M301 256v3M301 277v6M301 286v6M301 301v6M301 310v3M301 322v6M301 337v6M303 280v3M303 289v6M303 304v3M303 325v6M303 337v3M305 298v3M305 304v3M305 316v3M305 337v3M305 349v3M307 277v3M307 289v3M307 298v3M307 313v6M307 322v12M307 337v3M309 331v3M311 277v3M311 286v3M311 292v3M311 304v3M311 325v3M313 277v3M313 286v9M313 304v3M313 328v3M315 277v3M315 301v6M315 343v3M315 352v3M315 361v3M315 367v3M315 373v3M315 379v3M317 277v3M317 292v3M317 304v3M319 298v3M321 274v3M321 283v3M321 289v3M325 64v3M325 298v3M341 280v3M341 286v3M341 292v3M343 295v3M349 298v3M363 328v3M367 337v3M369 331v3M369 337v3M371 319v3M371 325v3M371 343v3M373 325v3M373 346v3M375 346v3M389 325v6M389 340v3M393 325v12M393 343v6M395 322v6M395 352v3M397 319v3M397 328v9M397 340v6M397 349v3M399 322v6M399 337v3M399 349v3M401 337v3M405 355v3M407 328v3M407 334v3M407 340v3M407 346v3M407 352v3M409 325v6M409 340v3M409 349v3M411 328v6M411 337v3M411 346v3M415 322v3M415 340v3M417 337v3M417 346v3M419 328v6M421 328v6M421 340v3M421 349v3M425 319v3M427 316v3M427 325v3M429 313v3M429 325v3M431 316v3M431 346v6M433 298v3M433 343v6M435 301v3M435 307v6M435 322v3M437 304v3M437 310v6M437 319v3M437 334v3M437 340v3M439 295v3M439 313v3M439 325v3M439 331v3M441 310v3M441 316v3M441 325v3M441 334v3M443 319v3M443 328v3M443 334v3M445 292v6M445 313v9M445 328v3M447 304v3M447 310v3M447 334v3M449 301v12M449 328v3M453 307v3M453 325v3M455 301v3M455 331v3M457 307v3M457 322v3M457 331v6M459 292v3M459 310v3M459 346v3M461 322v3M463 316v9M465 313v3M469 316v3M469 325v3M469 334v3M471 292v3M471 334v3M473 292v6M473 301v3M475 304v3M475 325v6M477 319v3M477 331v3M479 289v3M479 298v3M481 289v3M481 295v6M483 301v3M485 301v3M487 307v3M487 316v3M487 331v3M489 292v3M489 307v3M491 298v3M491 307v3M491 325v3M493 304v3M493 322v3M493 340v3M507 295v3M517 292v3M519 292v3M521 292v3M523 289v3M523 325v3M523 331v3M525 289v3M525 325v3M525 334v3M525 343v3M525 355v3M527 295v3M527 325v3M527 355v3M529 319v3M529 328v6M529 343v3M529 349v3M531 319v3M531 349v3M533 292v3M533 298v3M533 328v3M533 334v3M533 352v3M533 358v3M537 286v3M537 295v3M537 337v3M537 355v3M539 295v3M539 313v3M539 325v3M541 295v3M541 328v3M541 352v3M543 289v3M543 295v3M543 301v6M543 313v3M543 319v3M545 292v3M545 331v3M545 346v3M551 322v3M555 319v3M557 295v3M557 322v3M563 295v3M567 295v9M569 301v3M575 325v3M581 337v3M585 346v3M599 298v3M603 340v3M607 319v6M617 292v3M619 289v3M625 286v3M627 289v3M639 292v3"/>
<path stroke="#fff400" d="M153 211v3M153 277v3M153 286v3M155 196v6M155 223v3M155 250v3M155 286v3M157 199v3M157 205v3M157 259v3M157 289v3M159 205v3M159 214v3M165 64v3M183 52v3M213 385v3M213 394v3M215 403v2M217 376v3M219 388v3M251 250v6M275 400v3M279 397v6M281 298v3M283 268v3M283 289v3M283 298v3M283 307v3M285 265v3M285 271v3M285 289v3M285 298v3M285 304v3M287 307v6M289 370v3M291 265v3M291 274v6M291 289v3M291 295v3M291 319v3M291 331v3M291 355v3M293 256v3M293 280v3M295 259v3M295 277v3M295 295v6M295 319v3M295 337v3M297 271v3M297 292v6M297 301v6M297 325v6M297 334v3M297 352v3M299 256v3M299 262v3M299 274v3M299 280v3M299 289v3M299 298v6M299 316v6M299 328v3M299 334v3M301 283v3M301 307v3M301 316v3M301 328v3M303 283v3M303 295v3M303 301v3M303 322v3M305 313v3M305 340v6M305 358v3M305 373v3M307 301v3M307 319v3M307 346v3M309 307v3M309 337v3M309 349v3M309 364v6M309 376v3M311 268v6M311 280v3M311 289v3M311 295v3M311 310v3M311 322v3M311 337v3M311 343v3M311 376v3M313 295v6M313 307v3M313 331v3M313 337v6M313 379v3M315 346v3M315 370v3M315 385v3M321 271v3M371 334v6M373 331v3M375 325v3M393 349v3M395 328v3M397 322v3M397 337v3M397 352v3M399 331v6M399 343v3M399 352v3M403 325v3M403 349v3M405 313v3M405 328v3M405 334v3M405 340v3M405 349v3M405 358v3M407 337v3M407 349v3M409 334v6M411 319v3M411 343v3M415 313v3M415 319v3M415 328v3M415 334v3M417 325v12M417 349v3M419 319v3M419 325v3M419 334v3M421 325v3M421 343v3M427 328v3M427 334v3M429 319v3M429 328v6M429 337v3M431 301v12M431 328v3M433 310v3M433 319v3M435 295v6M435 334v3M435 340v3M437 301v3M437 307v3M437 328v6M439 301v9M439 337v3M441 328v3M443 325v3M445 298v3M445 310v3M451 289v6M451 304v3M451 313v3M451 322v3M451 337v3M451 343v3M453 295v3M453 301v3M453 331v3M455 325v3M457 313v3M457 325v6M459 331v6M459 340v3M469 307v3M471 301v3M471 319v3M471 331v3M473 322v3M475 301v3M477 292v3M481 292v3M481 319v3M487 310v3M487 322v3M489 298v3M491 295v3M491 301v3M493 298v3M519 286v3M523 295v3M523 343v3M527 340v6M527 349v3M529 322v3M533 322v3M533 337v3M533 343v3M533 355v3M537 340v6M537 358v3M541 331v3M543 292v3M543 298v3M543 307v3M543 316v3M543 328v6M543 343v3M543 349v3M545 295v3M545 301v6M545 322v3M545 334v3M545 340v3M545 352v3M557 319v3M557 325v3M565 289v3M565 295v3M567 289v3M569 286v3M569 292v3M585 325v3M585 343v3M601 316v6M601 328v3M603 304v3M603 337v3"/>
<path stroke="#ffe900" d="M153 205v3M153 301v3M155 217v3M155 241v3M155 289v6M155 298v3M155 307v3M157 250v6M215 385v3M217 379v3M219 391v3M283 271v3M283 292v3M283 304v3M285 274v6M285 373v3M287 301v6M287 376v6M289 301v3M289 361v6M291 298v3M291 349v3M293 259v6M293 277v3M293 283v3M293 322v3M293 328v3M295 262v3M295 289v3M295 322v3M295 334v3M295 346v3M297 286v3M297 298v3M297 346v3M297 355v3M297 364v3M299 259v3M299 310v3M299 346v3M301 298v3M301 319v3M301 343v6M301 364v3M303 340v3M303 349v3M305 346v3M305 376v3M307 340v3M307 349v3M307 379v3M309 355v6M311 298v3M311 331v3M311 346v3M313 301v3M313 358v12M315 358v3M315 364v3M315 376v3M315 397v3M341 295v3M363 334v3M371 340v3M371 346v3M393 337v3M397 346v3M399 319v3M399 328v3M399 340v3M399 346v3M403 328v12M403 343v6M403 352v3M405 325v3M407 319v6M411 325v3M413 346v3M415 331v3M415 349v3M417 340v3M427 319v3M427 340v6M429 310v3M429 343v3M431 319v9M431 331v6M431 343v3M433 325v6M437 298v3M439 310v3M439 328v3M441 295v3M443 298v6M443 307v3M445 301v3M451 295v3M451 301v3M451 307v3M451 316v3M451 328v3M453 319v3M457 301v3M459 295v3M459 301v3M459 322v3M465 322v3M471 316v3M471 322v6M475 319v3M487 292v3M489 295v3M523 286v3M523 292v3M529 340v3M529 352v3M539 346v3M543 322v3M543 340v3M543 346v3M545 298v3M545 316v6M545 325v6M545 349v3M569 289v3M601 322v3M603 295v3M603 310v3M603 328v3M607 328v3"/>
<path stroke="#ffde00" d="M135 55v6M137 55v6M139 55v6M153 247v3M153 298v3M153 304v3M155 205v3M155 247v3M155 274v6M155 301v6M157 208v3M157 217v3M215 388v12M217 391v6M283 265v3M283 385v3M285 283v3M285 292v3M285 301v3M285 310v3M285 376v9M287 367v3M291 283v3M291 343v3M291 367v3M293 265v3M293 274v3M293 289v6M293 298v6M293 313v3M293 319v3M293 325v3M293 331v3M293 337v6M293 358v3M295 349v3M295 355v3M297 310v3M297 358v3M299 277v3M299 304v3M299 325v3M301 349v3M301 361v3M303 352v3M303 373v3M305 352v6M305 361v3M305 370v3M307 343v3M307 355v3M307 373v6M307 382v3M309 346v3M309 352v3M309 361v3M309 373v3M309 379v6M311 274v3M311 301v3M311 349v9M311 370v6M313 343v12M313 382v3M315 355v3M315 382v3M315 400v3M341 289v3M341 301v3M373 334v3M403 319v3M403 340v3M405 319v3M405 346v3M405 352v3M411 322v3M415 337v3M415 343v3M419 343v3M427 322v3M427 331v3M429 340v3M431 313v3M431 337v3M433 313v3M433 334v3M441 298v3M441 313v3M443 310v6M445 307v3M451 298v3M451 310v3M451 334v3M459 307v3M459 313v6M459 328v3M477 298v6M487 295v3M489 301v3M491 304v3M521 286v3M525 295v3M543 325v3M543 337v3M603 313v12M603 331v3"/>
<path stroke="#ffd300" d="M155 208v3M155 244v3M155 259v3M155 265v9M155 280v3M157 211v6M157 247v3M217 388v3M281 397v3M281 403v2M283 295v3M283 388v6M285 307v3M285 385v3M287 382v3M289 367v3M291 361v3M293 268v6M293 286v3M293 304v3M293 310v3M293 343v15M295 352v3M297 349v3M299 355v3M299 361v3M303 346v3M303 355v6M303 367v6M305 364v3M305 379v3M305 394v3M307 310v3M307 352v3M307 358v9M307 370v3M309 343v3M309 370v3M309 391v3M311 307v3M311 340v3M311 358v6M313 355v3M313 370v3M313 376v3M315 388v6M315 403v2M405 331v3M405 343v3M407 343v3M415 325v3M427 337v3M431 340v3M433 340v3M441 301v6M443 304v3M451 325v3M459 304v3M487 298v6M493 301v3M543 334v3M603 325v3"/>
<path stroke="#ffc800" d="M155 214v3M155 256v3M155 262v3M155 283v3M155 295v3M215 400v3M217 382v6M217 397v3M217 403v2M281 400v3M285 295v3M285 394v6M285 403v2M287 385v3M291 364v3M291 394v3M293 295v3M293 307v3M293 334v3M295 358v9M297 367v6M297 382v3M299 349v6M299 367v3M301 352v3M301 358v3M303 361v3M303 376v3M307 367v3M309 388v3M311 364v6M311 379v12M313 373v3M405 322v3M409 322v3M415 346v3M441 307v3M445 304v3M451 319v3M451 331v3M459 319v3M459 325v3M487 304v3M489 304v3"/>
<path stroke="#ffbd00" d="M155 253v3M217 400v3M283 394v3M287 388v6M287 400v3M289 373v6M289 385v3M289 391v3M291 373v3M291 397v3M295 367v3M299 358v3M301 355v3M301 367v3M301 376v6M303 364v3M303 382v3M305 382v3M305 388v6M305 403v2M309 403v2M311 391v3M313 385v6M405 337v3"/>
<path stroke="#ffb000" d="M155 211v3M287 397v3M289 379v3M289 400v5M291 382v3M291 388v6M293 361v9M295 373v3M297 376v3M297 400v3M299 364v3M299 373v3M299 382v3M301 373v3M301 394v3M303 379v3M305 385v3M305 397v3M307 385v3M309 385v3M309 394v3M311 403v2M313 394v9"/>
<path stroke="#ff9f00" d="M283 397v3M283 403v2M285 388v6M287 394v3M289 388v3M289 397v3M291 370v3M291 379v3M291 385v3M293 370v3M293 388v3M295 397v3M297 373v3M297 388v3M297 397v3M299 370v3M299 376v3M299 391v6M301 370v3M301 385v3M301 391v3M301 403v2M303 385v6M303 397v3M305 400v3M307 388v9M311 400v3M313 391v3M315 394v3"/>
<path stroke="#ff8f00" d="M283 400v3M287 403v2M289 382v3M289 394v3M291 400v5M295 370v3M295 385v6M295 394v3M297 394v3M299 379v3M299 400v5M301 388v3M301 397v3M303 403v2M307 397v6M309 397v6M311 394v3M313 403v2"/>
<path stroke="#ff7f00" d="M291 376v3M293 376v3M295 379v6M295 391v3M295 400v5M297 385v3M297 403v2M299 385v6M299 397v3M301 382v3M303 391v6M303 400v3M307 403v2M311 397v3"/>
<path stroke="#ff6f00" d="M155 394v3M293 373v3M293 379v3M297 379v3"/>
<path stroke="#ff5f00" d="M155 337v3M155 373v3M157 310v3M157 340v3M157 346v3M157 355v3M285 400v3M293 391v6M293 403v2M297 391v3M301 400v3"/>
<path stroke="#ff5000" d="M155 310v3M155 364v3M155 379v3M155 403v2M157 358v3M157 379v6M157 388v6M157 400v3M293 382v6M293 397v6M295 376v3"/>
<path stroke="#ff4500" d="M155 319v3M155 331v3M155 340v3M155 352v9M155 367v6M155 376v3M155 385v9M155 397v3M157 313v6M157 322v6M157 334v3M157 343v3M157 361v6M157 376v3M157 394v3"/>
<path stroke="#ff3900" d="M155 313v3M155 322v3M155 328v3M155 346v6M155 361v3M157 319v3M157 328v3M157 337v3M157 349v6M157 367v3M157 397v3M157 403v2"/>
<path stroke="#ff2e00" d="M155 343v3M155 382v3M155 400v3M157 331v3M157 373v3"/>
<path stroke="#ff2200" d="M155 316v3M155 325v3M155 334v3"/>
<path stroke="#ff1700" d="M157 385v3"/>
<path stroke="#ff0b00" d="M157 370v3"/></g><rect x="130" y="306" width="520" height="6" fill="#fff"/><polyline fill="none" stroke="#ff00ff" stroke-width="1.6" stroke-linejoin="round" points="136,57 145,65.5 155.3,74.7 164,83 173.7,91.7 183,99.5 193.6,107.3 206,116 219.1,124.3 232,132 246,139.2 262,147.1 284,156.5 307.4,165.5 327,171.5 347.1,177.2 368,182.2 389.7,186.6 411,190.6 432.6,194.3 453,196.8 475.1,198.9 493,200.8 510.6,202.4 526.5,202.4 526.5,203.6 552,203.6 552,204.6 616,204.6 616,203.6 639.3,203.6"/><g stroke="none" shape-rendering="crispEdges"><path fill="#00fff7" d="M632 434h2v10.5h-2z"/>
<path fill="#00ffe5" d="M576 428h2v6h-2zM582 428h2v6h-2zM632 428h2v6h-2zM576 434h4v10.5h-4zM584 434h2v10.5h-2z"/>
<path fill="#00ffd2" d="M450 428h2v6h-2zM454 428h6v6h-6zM506 428h2v6h-2zM518 428h2v6h-2zM522 428h2v6h-2zM532 428h2v6h-2zM552 428h2v6h-2zM556 428h2v6h-2zM560 428h2v6h-2zM564 428h2v6h-2zM568 428h2v6h-2zM574 428h2v6h-2zM578 428h2v6h-2zM584 428h2v6h-2zM598 428h2v6h-2zM506 434h2v10.5h-2zM512 434h2v10.5h-2zM516 434h2v10.5h-2zM522 434h2v10.5h-2zM532 434h2v10.5h-2zM546 434h2v10.5h-2zM556 434h2v10.5h-2zM564 434h2v10.5h-2zM568 434h2v10.5h-2zM572 434h4v10.5h-4zM582 434h2v10.5h-2zM590 434h4v10.5h-4zM596 434h4v10.5h-4zM618 434h2v10.5h-2zM622 434h2v10.5h-2zM626 434h2v10.5h-2zM630 434h2v10.5h-2zM640 434h2v10.5h-2z"/>
<path fill="#00ffbf" d="M384 428h2v6h-2zM462 428h4v6h-4zM498 428h6v6h-6zM508 428h10v6h-10zM520 428h2v6h-2zM528 428h4v6h-4zM534 428h4v6h-4zM540 428h8v6h-8zM550 428h2v6h-2zM566 428h2v6h-2zM572 428h2v6h-2zM580 428h2v6h-2zM586 428h4v6h-4zM592 428h2v6h-2zM596 428h2v6h-2zM600 428h2v6h-2zM606 428h6v6h-6zM614 428h2v6h-2zM618 428h2v6h-2zM622 428h10v6h-10zM636 428h8v6h-8zM508 434h4v10.5h-4zM518 434h4v10.5h-4zM528 434h4v10.5h-4zM534 434h4v10.5h-4zM540 434h2v10.5h-2zM548 434h6v10.5h-6zM560 434h2v10.5h-2zM580 434h2v10.5h-2zM586 434h4v10.5h-4zM600 434h4v10.5h-4zM606 434h2v10.5h-2zM614 434h2v10.5h-2zM620 434h2v10.5h-2zM624 434h2v10.5h-2zM628 434h2v10.5h-2zM642 434h2v10.5h-2z"/>
<path fill="#00ffac" d="M382 428h2v6h-2zM386 428h2v6h-2zM446 428h4v6h-4zM452 428h2v6h-2zM460 428h2v6h-2zM466 428h6v6h-6zM504 428h2v6h-2zM524 428h4v6h-4zM538 428h2v6h-2zM548 428h2v6h-2zM558 428h2v6h-2zM562 428h2v6h-2zM570 428h2v6h-2zM590 428h2v6h-2zM594 428h2v6h-2zM602 428h4v6h-4zM616 428h2v6h-2zM620 428h2v6h-2zM634 428h2v6h-2zM500 434h4v10.5h-4zM514 434h2v10.5h-2zM524 434h4v10.5h-4zM542 434h4v10.5h-4zM554 434h2v10.5h-2zM558 434h2v10.5h-2zM562 434h2v10.5h-2zM566 434h2v10.5h-2zM570 434h2v10.5h-2zM594 434h2v10.5h-2zM604 434h2v10.5h-2zM608 434h4v10.5h-4zM636 434h4v10.5h-4z"/>
<path fill="#00ff99" d="M380 428h2v6h-2zM392 428h2v6h-2zM400 428h2v6h-2zM414 428h4v6h-4zM444 428h2v6h-2zM494 428h4v6h-4zM554 428h2v6h-2zM450 434h2v10.5h-2zM504 434h2v10.5h-2zM538 434h2v10.5h-2zM612 434h2v10.5h-2zM616 434h2v10.5h-2zM634 434h2v10.5h-2z"/>
<path fill="#00ff87" d="M174 428h8v6h-8zM376 428h4v6h-4zM388 428h4v6h-4zM396 428h4v6h-4zM402 428h2v6h-2zM406 428h4v6h-4zM412 428h2v6h-2zM424 428h2v6h-2zM440 428h4v6h-4zM472 428h2v6h-2zM612 428h2v6h-2zM376 434h10v10.5h-10zM454 434h8v10.5h-8zM464 434h4v10.5h-4zM498 434h2v10.5h-2z"/>
<path fill="#00ff74" d="M166 428h2v6h-2zM170 428h4v6h-4zM370 428h6v6h-6zM410 428h2v6h-2zM418 428h6v6h-6zM426 428h2v6h-2zM430 428h2v6h-2zM474 428h4v6h-4zM492 428h2v6h-2zM374 434h2v10.5h-2zM386 434h2v10.5h-2zM446 434h2v10.5h-2zM462 434h2v10.5h-2zM468 434h4v10.5h-4zM576 444.5h2v10.5h-2z"/>
<path fill="#00ff61" d="M162 428h2v6h-2zM168 428h2v6h-2zM182 428h4v6h-4zM350 428h2v6h-2zM356 428h2v6h-2zM366 428h4v6h-4zM394 428h2v6h-2zM404 428h2v6h-2zM428 428h2v6h-2zM436 428h4v6h-4zM478 428h2v6h-2zM484 428h2v6h-2zM490 428h2v6h-2zM362 434h2v10.5h-2zM392 434h2v10.5h-2zM448 434h2v10.5h-2zM452 434h2v10.5h-2zM494 434h4v10.5h-4zM506 444.5h2v10.5h-2zM518 444.5h2v10.5h-2zM528 444.5h2v10.5h-2zM532 444.5h2v10.5h-2zM556 444.5h2v10.5h-2zM574 444.5h2v10.5h-2zM578 444.5h2v10.5h-2zM582 444.5h2v10.5h-2zM598 444.5h2v10.5h-2zM632 444.5h2v10.5h-2zM640 444.5h2v10.5h-2z"/>
<path fill="#00ff4e" d="M186 428h2v6h-2zM190 428h4v6h-4zM196 428h2v6h-2zM200 428h2v6h-2zM352 428h4v6h-4zM362 428h4v6h-4zM480 428h2v6h-2zM486 428h2v6h-2zM366 434h2v10.5h-2zM388 434h2v10.5h-2zM398 434h6v10.5h-6zM416 434h2v10.5h-2zM420 434h4v10.5h-4zM442 434h4v10.5h-4zM472 434h2v10.5h-2zM516 444.5h2v10.5h-2zM520 444.5h4v10.5h-4zM548 444.5h2v10.5h-2zM558 444.5h4v10.5h-4zM564 444.5h6v10.5h-6zM572 444.5h2v10.5h-2zM580 444.5h2v10.5h-2zM584 444.5h2v10.5h-2zM588 444.5h2v10.5h-2zM596 444.5h2v10.5h-2zM610 444.5h2v10.5h-2zM614 444.5h2v10.5h-2zM618 444.5h2v10.5h-2zM628 444.5h4v10.5h-4zM638 444.5h2v10.5h-2zM642 444.5h2v10.5h-2z"/>
<path fill="#00ff3c" d="M164 428h2v6h-2zM188 428h2v6h-2zM194 428h2v6h-2zM342 428h8v6h-8zM358 428h4v6h-4zM434 428h2v6h-2zM482 428h2v6h-2zM488 428h2v6h-2zM360 434h2v10.5h-2zM364 434h2v10.5h-2zM368 434h2v10.5h-2zM372 434h2v10.5h-2zM390 434h2v10.5h-2zM394 434h4v10.5h-4zM406 434h10v10.5h-10zM418 434h2v10.5h-2zM424 434h4v10.5h-4zM440 434h2v10.5h-2zM476 434h2v10.5h-2zM492 434h2v10.5h-2zM504 444.5h2v10.5h-2zM508 444.5h6v10.5h-6zM524 444.5h2v10.5h-2zM530 444.5h2v10.5h-2zM536 444.5h2v10.5h-2zM540 444.5h8v10.5h-8zM550 444.5h6v10.5h-6zM562 444.5h2v10.5h-2zM570 444.5h2v10.5h-2zM586 444.5h2v10.5h-2zM590 444.5h6v10.5h-6zM600 444.5h4v10.5h-4zM606 444.5h2v10.5h-2zM620 444.5h4v10.5h-4zM626 444.5h2v10.5h-2zM636 444.5h2v10.5h-2zM576 465h2v11h-2z"/>
<path fill="#00ff29" d="M198 428h2v6h-2zM340 428h2v6h-2zM432 428h2v6h-2zM184 434h2v10.5h-2zM350 434h2v10.5h-2zM354 434h4v10.5h-4zM370 434h2v10.5h-2zM404 434h2v10.5h-2zM430 434h2v10.5h-2zM438 434h2v10.5h-2zM474 434h2v10.5h-2zM478 434h2v10.5h-2zM490 434h2v10.5h-2zM356 444.5h2v10.5h-2zM392 444.5h2v10.5h-2zM502 444.5h2v10.5h-2zM514 444.5h2v10.5h-2zM526 444.5h2v10.5h-2zM534 444.5h2v10.5h-2zM538 444.5h2v10.5h-2zM604 444.5h2v10.5h-2zM608 444.5h2v10.5h-2zM612 444.5h2v10.5h-2zM616 444.5h2v10.5h-2zM624 444.5h2v10.5h-2zM634 444.5h2v10.5h-2zM532 455h2v10h-2zM556 455h2v10h-2zM576 455h2v10h-2zM632 455h2v10h-2zM632 465h2v11h-2z"/>
<path fill="#00ff16" d="M202 428h2v6h-2zM322 428h2v6h-2zM326 428h2v6h-2zM332 428h4v6h-4zM338 428h2v6h-2zM174 434h2v10.5h-2zM178 434h6v10.5h-6zM186 434h2v10.5h-2zM190 434h2v10.5h-2zM332 434h2v10.5h-2zM342 434h2v10.5h-2zM358 434h2v10.5h-2zM428 434h2v10.5h-2zM436 434h2v10.5h-2zM484 434h2v10.5h-2zM362 444.5h2v10.5h-2zM376 444.5h4v10.5h-4zM382 444.5h2v10.5h-2zM398 444.5h4v10.5h-4zM442 444.5h2v10.5h-2zM450 444.5h2v10.5h-2zM454 444.5h6v10.5h-6zM464 444.5h2v10.5h-2zM498 444.5h4v10.5h-4zM376 455h2v10h-2zM402 455h2v10h-2zM422 455h2v10h-2zM450 455h2v10h-2zM454 455h2v10h-2zM458 455h2v10h-2zM464 455h2v10h-2zM506 455h2v10h-2zM518 455h2v10h-2zM522 455h2v10h-2zM528 455h4v10h-4zM536 455h2v10h-2zM550 455h4v10h-4zM564 455h2v10h-2zM568 455h2v10h-2zM572 455h4v10h-4zM578 455h2v10h-2zM582 455h4v10h-4zM592 455h2v10h-2zM596 455h2v10h-2zM614 455h2v10h-2zM626 455h6v10h-6zM564 465h2v11h-2zM568 465h2v11h-2zM574 465h2v11h-2zM578 465h2v11h-2zM582 465h6v11h-6zM592 465h2v11h-2zM596 465h6v11h-6zM606 465h2v11h-2zM640 465h2v11h-2z"/>
<path fill="#00ff03" d="M160 428h2v6h-2zM316 428h2v6h-2zM320 428h2v6h-2zM324 428h2v6h-2zM328 428h4v6h-4zM336 428h2v6h-2zM176 434h2v10.5h-2zM188 434h2v10.5h-2zM192 434h2v10.5h-2zM196 434h6v10.5h-6zM328 434h4v10.5h-4zM338 434h4v10.5h-4zM344 434h6v10.5h-6zM352 434h2v10.5h-2zM480 434h2v10.5h-2zM486 434h4v10.5h-4zM354 444.5h2v10.5h-2zM358 444.5h2v10.5h-2zM364 444.5h6v10.5h-6zM374 444.5h2v10.5h-2zM380 444.5h2v10.5h-2zM384 444.5h2v10.5h-2zM396 444.5h2v10.5h-2zM402 444.5h2v10.5h-2zM408 444.5h2v10.5h-2zM412 444.5h10v10.5h-10zM424 444.5h2v10.5h-2zM444 444.5h4v10.5h-4zM460 444.5h4v10.5h-4zM374 455h2v10h-2zM378 455h2v10h-2zM400 455h2v10h-2zM406 455h14v10h-14zM424 455h2v10h-2zM456 455h2v10h-2zM508 455h4v10h-4zM516 455h2v10h-2zM524 455h2v10h-2zM534 455h2v10h-2zM542 455h6v10h-6zM558 455h6v10h-6zM566 455h2v10h-2zM580 455h2v10h-2zM586 455h6v10h-6zM598 455h6v10h-6zM606 455h6v10h-6zM618 455h8v10h-8zM636 455h8v10h-8zM560 465h2v11h-2zM566 465h2v11h-2zM570 465h4v11h-4zM590 465h2v11h-2zM602 465h2v11h-2zM610 465h2v11h-2zM614 465h2v11h-2zM618 465h14v11h-14zM636 465h4v11h-4zM642 465h2v11h-2z"/>
<path fill="#1bff00" d="M134 428h6v6h-6zM204 428h2v6h-2zM318 428h2v6h-2zM166 434h2v10.5h-2zM170 434h2v10.5h-2zM194 434h2v10.5h-2zM202 434h2v10.5h-2zM326 434h2v10.5h-2zM334 434h4v10.5h-4zM434 434h2v10.5h-2zM482 434h2v10.5h-2zM350 444.5h4v10.5h-4zM360 444.5h2v10.5h-2zM372 444.5h2v10.5h-2zM386 444.5h6v10.5h-6zM406 444.5h2v10.5h-2zM410 444.5h2v10.5h-2zM422 444.5h2v10.5h-2zM440 444.5h2v10.5h-2zM448 444.5h2v10.5h-2zM452 444.5h2v10.5h-2zM468 444.5h2v10.5h-2zM366 455h4v10h-4zM372 455h2v10h-2zM398 455h2v10h-2zM404 455h2v10h-2zM420 455h2v10h-2zM426 455h2v10h-2zM452 455h2v10h-2zM460 455h4v10h-4zM466 455h2v10h-2zM504 455h2v10h-2zM512 455h4v10h-4zM520 455h2v10h-2zM526 455h2v10h-2zM538 455h4v10h-4zM548 455h2v10h-2zM554 455h2v10h-2zM570 455h2v10h-2zM604 455h2v10h-2zM634 455h2v10h-2zM562 465h2v11h-2zM580 465h2v11h-2zM588 465h2v11h-2zM594 465h2v11h-2zM604 465h2v11h-2zM608 465h2v11h-2zM616 465h2v11h-2zM634 465h2v11h-2z"/>
<path fill="#3cff00" d="M206 428h2v6h-2zM204 434h2v10.5h-2zM432 434h2v10.5h-2zM370 444.5h2v10.5h-2zM394 444.5h2v10.5h-2zM404 444.5h2v10.5h-2zM426 444.5h2v10.5h-2zM466 444.5h2v10.5h-2zM496 444.5h2v10.5h-2zM370 455h2v10h-2zM380 455h2v10h-2zM446 455h4v10h-4zM502 455h2v10h-2zM594 455h2v10h-2zM612 455h2v10h-2zM616 455h2v10h-2zM556 465h2v11h-2z"/>
<path fill="#5dff00" d="M168 434h2v10.5h-2zM172 434h2v10.5h-2zM438 444.5h2v10.5h-2zM470 444.5h4v10.5h-4zM494 444.5h2v10.5h-2zM322 455h2v10h-2zM350 455h2v10h-2zM356 455h2v10h-2zM362 455h4v10h-4zM382 455h2v10h-2zM428 455h2v10h-2zM468 455h2v10h-2zM500 455h2v10h-2zM558 465h2v11h-2zM612 465h2v11h-2z"/>
<path fill="#7eff00" d="M140 428h2v6h-2zM162 434h4v10.5h-4zM206 434h2v10.5h-2zM322 434h4v10.5h-4zM170 444.5h2v10.5h-2zM174 444.5h2v10.5h-2zM178 444.5h4v10.5h-4zM184 444.5h2v10.5h-2zM322 444.5h2v10.5h-2zM326 444.5h2v10.5h-2zM342 444.5h2v10.5h-2zM346 444.5h4v10.5h-4zM428 444.5h2v10.5h-2zM476 444.5h4v10.5h-4zM342 455h2v10h-2zM354 455h2v10h-2zM392 455h2v10h-2zM396 455h2v10h-2zM430 455h2v10h-2zM498 455h2v10h-2zM400 465h2v11h-2zM418 465h2v11h-2zM450 465h2v11h-2zM464 465h2v11h-2zM506 465h2v11h-2zM518 465h2v11h-2zM522 465h2v11h-2zM528 465h2v11h-2zM532 465h2v11h-2zM550 465h4v11h-4z"/>
<path fill="#9eff00" d="M316 434h2v10.5h-2zM320 434h2v10.5h-2zM182 444.5h2v10.5h-2zM320 444.5h2v10.5h-2zM328 444.5h2v10.5h-2zM332 444.5h2v10.5h-2zM336 444.5h6v10.5h-6zM344 444.5h2v10.5h-2zM430 444.5h2v10.5h-2zM436 444.5h2v10.5h-2zM480 444.5h2v10.5h-2zM484 444.5h2v10.5h-2zM492 444.5h2v10.5h-2zM174 455h2v10h-2zM178 455h4v10h-4zM184 455h2v10h-2zM316 455h2v10h-2zM320 455h2v10h-2zM326 455h4v10h-4zM332 455h2v10h-2zM336 455h6v10h-6zM344 455h2v10h-2zM384 455h2v10h-2zM470 455h2v10h-2zM484 455h2v10h-2zM184 465h2v11h-2zM392 465h2v11h-2zM396 465h4v11h-4zM402 465h2v11h-2zM408 465h2v11h-2zM412 465h6v11h-6zM420 465h6v11h-6zM446 465h2v11h-2zM454 465h6v11h-6zM470 465h2v11h-2zM510 465h4v11h-4zM516 465h2v11h-2zM520 465h2v11h-2zM534 465h4v11h-4zM540 465h2v11h-2zM546 465h2v11h-2zM576 476h2v10h-2zM632 476h2v10h-2z"/>
<path fill="#bfff00" d="M158 428h2v6h-2zM240 428h2v6h-2zM176 444.5h2v10.5h-2zM186 444.5h4v10.5h-4zM316 444.5h4v10.5h-4zM324 444.5h2v10.5h-2zM330 444.5h2v10.5h-2zM334 444.5h2v10.5h-2zM474 444.5h2v10.5h-2zM482 444.5h2v10.5h-2zM490 444.5h2v10.5h-2zM182 455h2v10h-2zM318 455h2v10h-2zM324 455h2v10h-2zM330 455h2v10h-2zM334 455h2v10h-2zM346 455h4v10h-4zM352 455h2v10h-2zM358 455h4v10h-4zM386 455h6v10h-6zM394 455h2v10h-2zM444 455h2v10h-2zM472 455h2v10h-2zM476 455h6v10h-6zM490 455h2v10h-2zM494 455h4v10h-4zM406 465h2v11h-2zM410 465h2v11h-2zM444 465h2v11h-2zM448 465h2v11h-2zM452 465h2v11h-2zM460 465h4v11h-4zM468 465h2v11h-2zM500 465h2v11h-2zM504 465h2v11h-2zM508 465h2v11h-2zM514 465h2v11h-2zM524 465h4v11h-4zM530 465h2v11h-2zM542 465h4v11h-4zM548 465h2v11h-2zM554 465h2v11h-2zM578 476h2v10h-2zM598 476h2v10h-2z"/>
<path fill="#e0ff00" d="M142 428h2v6h-2zM228 428h2v6h-2zM138 434h2v10.5h-2zM160 434h2v10.5h-2zM318 434h2v10.5h-2zM172 444.5h2v10.5h-2zM190 444.5h4v10.5h-4zM200 444.5h2v10.5h-2zM486 444.5h2v10.5h-2zM176 455h2v10h-2zM192 455h2v10h-2zM200 455h2v10h-2zM440 455h4v10h-4zM482 455h2v10h-2zM488 455h2v10h-2zM492 455h2v10h-2zM174 465h2v11h-2zM178 465h4v11h-4zM192 465h2v11h-2zM196 465h2v11h-2zM322 465h2v11h-2zM326 465h2v11h-2zM332 465h2v11h-2zM350 465h2v11h-2zM354 465h4v11h-4zM362 465h2v11h-2zM376 465h2v11h-2zM382 465h2v11h-2zM390 465h2v11h-2zM404 465h2v11h-2zM426 465h2v11h-2zM440 465h4v11h-4zM466 465h2v11h-2zM472 465h2v11h-2zM502 465h2v11h-2zM538 465h2v11h-2zM564 476h2v10h-2zM574 476h2v10h-2zM582 476h4v10h-4zM614 476h2v10h-2zM626 476h2v10h-2zM630 476h2v10h-2zM640 476h2v10h-2z"/>
<path fill="#fffe00" d="M208 428h2v6h-2zM224 428h2v6h-2zM238 428h2v6h-2zM208 434h2v10.5h-2zM166 444.5h4v10.5h-4zM194 444.5h4v10.5h-4zM434 444.5h2v10.5h-2zM488 444.5h2v10.5h-2zM138 455h2v10h-2zM170 455h2v10h-2zM186 455h6v10h-6zM196 455h4v10h-4zM438 455h2v10h-2zM486 455h2v10h-2zM170 465h2v11h-2zM182 465h2v11h-2zM186 465h6v11h-6zM194 465h2v11h-2zM200 465h2v11h-2zM320 465h2v11h-2zM324 465h2v11h-2zM328 465h4v11h-4zM336 465h2v11h-2zM342 465h4v11h-4zM358 465h2v11h-2zM366 465h2v11h-2zM374 465h2v11h-2zM380 465h2v11h-2zM384 465h2v11h-2zM394 465h2v11h-2zM498 465h2v11h-2zM560 476h2v10h-2zM568 476h2v10h-2zM572 476h2v10h-2zM586 476h4v10h-4zM596 476h2v10h-2zM600 476h2v10h-2zM628 476h2v10h-2zM638 476h2v10h-2zM642 476h2v10h-2z"/>
<path fill="#fff400" d="M210 428h4v6h-4zM222 428h2v6h-2zM244 428h2v6h-2zM134 434h4v10.5h-4zM140 434h2v10.5h-2zM212 434h2v10.5h-2zM198 444.5h2v10.5h-2zM206 444.5h2v10.5h-2zM432 444.5h2v10.5h-2zM134 455h4v10h-4zM194 455h2v10h-2zM432 455h2v10h-2zM436 455h2v10h-2zM474 455h2v10h-2zM176 465h2v11h-2zM198 465h2v11h-2zM316 465h2v11h-2zM334 465h2v11h-2zM338 465h4v11h-4zM346 465h4v11h-4zM352 465h2v11h-2zM360 465h2v11h-2zM364 465h2v11h-2zM368 465h2v11h-2zM372 465h2v11h-2zM378 465h2v11h-2zM386 465h4v11h-4zM428 465h4v11h-4zM476 465h2v11h-2zM494 465h2v11h-2zM556 476h2v10h-2zM562 476h2v10h-2zM566 476h2v10h-2zM570 476h2v10h-2zM580 476h2v10h-2zM590 476h4v10h-4zM602 476h2v10h-2zM606 476h6v10h-6zM616 476h10v10h-10zM634 476h4v10h-4z"/>
<path fill="#ffe900" d="M226 428h2v6h-2zM242 428h2v6h-2zM210 434h2v10.5h-2zM164 444.5h2v10.5h-2zM202 444.5h4v10.5h-4zM166 455h4v10h-4zM172 455h2v10h-2zM204 455h4v10h-4zM434 455h2v10h-2zM166 465h4v11h-4zM202 465h6v11h-6zM318 465h2v11h-2zM370 465h2v11h-2zM438 465h2v11h-2zM474 465h2v11h-2zM478 465h2v11h-2zM496 465h2v11h-2zM552 476h2v10h-2zM558 476h2v10h-2zM594 476h2v10h-2zM604 476h2v10h-2zM612 476h2v10h-2z"/>
<path fill="#ffde00" d="M144 428h2v6h-2zM216 428h2v6h-2zM142 434h2v10.5h-2zM158 434h2v10.5h-2zM244 434h2v10.5h-2zM140 455h2v10h-2zM164 455h2v10h-2zM202 455h2v10h-2zM138 465h2v11h-2zM164 465h2v11h-2zM172 465h2v11h-2zM484 465h2v11h-2zM490 465h4v11h-4zM332 476h2v10h-2zM400 476h2v10h-2zM450 476h2v10h-2zM464 476h2v10h-2zM500 476h2v10h-2zM506 476h2v10h-2zM522 476h2v10h-2zM532 476h2v10h-2z"/>
<path fill="#ffd300" d="M230 428h4v6h-4zM236 428h2v6h-2zM246 428h2v6h-2zM252 428h4v6h-4zM262 428h2v6h-2zM144 434h2v10.5h-2zM216 434h4v10.5h-4zM222 434h4v10.5h-4zM228 434h2v10.5h-2zM238 434h4v10.5h-4zM252 434h4v10.5h-4zM138 444.5h2v10.5h-2zM162 444.5h2v10.5h-2zM212 455h2v10h-2zM232 455h2v10h-2zM162 465h2v11h-2zM208 465h2v11h-2zM212 465h2v11h-2zM228 465h2v11h-2zM232 465h2v11h-2zM436 465h2v11h-2zM480 465h2v11h-2zM320 476h4v10h-4zM326 476h2v10h-2zM330 476h2v10h-2zM392 476h2v10h-2zM414 476h2v10h-2zM422 476h2v10h-2zM454 476h4v10h-4zM498 476h2v10h-2zM502 476h2v10h-2zM510 476h2v10h-2zM516 476h4v10h-4zM528 476h4v10h-4zM534 476h4v10h-4zM550 476h2v10h-2zM576 486h2v10h-2z"/>
<path fill="#ffc800" d="M214 428h2v6h-2zM218 428h2v6h-2zM234 428h2v6h-2zM248 428h4v6h-4zM258 428h2v6h-2zM146 434h2v10.5h-2zM214 434h2v10.5h-2zM226 434h2v10.5h-2zM246 434h6v10.5h-6zM256 434h2v10.5h-2zM134 444.5h4v10.5h-4zM140 444.5h2v10.5h-2zM160 444.5h2v10.5h-2zM208 444.5h6v10.5h-6zM258 444.5h2v10.5h-2zM142 455h2v10h-2zM162 455h2v10h-2zM210 455h2v10h-2zM134 465h4v11h-4zM210 465h2v11h-2zM254 465h2v11h-2zM486 465h4v11h-4zM316 476h2v10h-2zM324 476h2v10h-2zM328 476h2v10h-2zM334 476h6v10h-6zM396 476h4v10h-4zM406 476h8v10h-8zM416 476h4v10h-4zM424 476h2v10h-2zM458 476h4v10h-4zM466 476h2v10h-2zM470 476h2v10h-2zM494 476h2v10h-2zM508 476h2v10h-2zM512 476h2v10h-2zM520 476h2v10h-2zM540 476h4v10h-4zM546 476h4v10h-4z"/>
<path fill="#ffbd00" d="M146 428h2v6h-2zM220 428h2v6h-2zM256 428h2v6h-2zM260 428h2v6h-2zM264 428h6v6h-6zM242 434h2v10.5h-2zM258 434h2v10.5h-2zM262 434h2v10.5h-2zM228 444.5h2v10.5h-2zM254 444.5h4v10.5h-4zM262 444.5h2v10.5h-2zM160 455h2v10h-2zM208 455h2v10h-2zM228 455h2v10h-2zM234 455h2v10h-2zM238 455h2v10h-2zM254 455h6v10h-6zM262 455h2v10h-2zM140 465h2v11h-2zM160 465h2v11h-2zM258 465h2v11h-2zM262 465h2v11h-2zM432 465h4v11h-4zM184 476h2v10h-2zM318 476h2v10h-2zM340 476h2v10h-2zM402 476h2v10h-2zM420 476h2v10h-2zM426 476h4v10h-4zM446 476h4v10h-4zM452 476h2v10h-2zM462 476h2v10h-2zM468 476h2v10h-2zM484 476h2v10h-2zM496 476h2v10h-2zM514 476h2v10h-2zM524 476h4v10h-4zM544 476h2v10h-2zM632 486h2v10h-2z"/>
<path fill="#ffb000" d="M148 428h2v6h-2zM152 428h2v6h-2zM274 428h2v6h-2zM220 434h2v10.5h-2zM232 434h2v10.5h-2zM260 434h2v10.5h-2zM142 444.5h2v10.5h-2zM238 444.5h4v10.5h-4zM230 455h2v10h-2zM236 455h2v10h-2zM240 455h2v10h-2zM230 465h2v11h-2zM234 465h2v11h-2zM238 465h4v11h-4zM256 465h2v11h-2zM482 465h2v11h-2zM140 476h2v10h-2zM178 476h2v10h-2zM342 476h2v10h-2zM350 476h2v10h-2zM356 476h2v10h-2zM404 476h2v10h-2zM430 476h2v10h-2zM444 476h2v10h-2zM476 476h2v10h-2zM490 476h2v10h-2zM504 476h2v10h-2zM538 476h2v10h-2zM554 476h2v10h-2zM574 486h2v10h-2zM578 486h2v10h-2zM614 486h2v10h-2zM640 486h2v10h-2z"/>
<path fill="#ff9f00" d="M156 428h2v6h-2zM270 428h4v6h-4zM284 428h4v6h-4zM298 428h4v6h-4zM304 428h2v6h-2zM308 428h2v6h-2zM314 428h2v6h-2zM230 434h2v10.5h-2zM236 434h2v10.5h-2zM144 444.5h2v10.5h-2zM216 444.5h2v10.5h-2zM222 444.5h4v10.5h-4zM232 444.5h2v10.5h-2zM244 444.5h2v10.5h-2zM252 444.5h2v10.5h-2zM260 444.5h2v10.5h-2zM144 455h2v10h-2zM158 455h2v10h-2zM216 455h2v10h-2zM222 455h4v10h-4zM244 455h2v10h-2zM252 455h2v10h-2zM260 455h2v10h-2zM142 465h2v11h-2zM216 465h2v11h-2zM222 465h4v11h-4zM236 465h2v11h-2zM244 465h2v11h-2zM252 465h2v11h-2zM260 465h2v11h-2zM138 476h2v10h-2zM174 476h2v10h-2zM180 476h4v10h-4zM186 476h2v10h-2zM190 476h4v10h-4zM254 476h2v10h-2zM344 476h2v10h-2zM354 476h2v10h-2zM362 476h2v10h-2zM374 476h6v10h-6zM382 476h2v10h-2zM390 476h2v10h-2zM394 476h2v10h-2zM438 476h4v10h-4zM472 476h2v10h-2zM478 476h2v10h-2zM492 476h2v10h-2zM568 486h2v10h-2zM572 486h2v10h-2zM582 486h4v10h-4zM588 486h2v10h-2zM596 486h4v10h-4zM626 486h2v10h-2zM630 486h2v10h-2zM638 486h2v10h-2zM642 486h2v10h-2z"/>
<path fill="#ff8f00" d="M150 428h2v6h-2zM154 428h2v6h-2zM276 428h8v6h-8zM288 428h10v6h-10zM302 428h2v6h-2zM306 428h2v6h-2zM312 428h2v6h-2zM158 444.5h2v10.5h-2zM226 444.5h2v10.5h-2zM246 444.5h2v10.5h-2zM250 444.5h2v10.5h-2zM146 455h2v10h-2zM214 455h2v10h-2zM218 455h2v10h-2zM248 455h4v10h-4zM144 465h2v11h-2zM214 465h2v11h-2zM218 465h2v11h-2zM246 465h2v11h-2zM250 465h2v11h-2zM136 476h2v10h-2zM142 476h4v10h-4zM162 476h6v10h-6zM170 476h2v10h-2zM188 476h2v10h-2zM194 476h4v10h-4zM200 476h2v10h-2zM252 476h2v10h-2zM262 476h2v10h-2zM348 476h2v10h-2zM366 476h2v10h-2zM380 476h2v10h-2zM384 476h6v10h-6zM442 476h2v10h-2zM480 476h2v10h-2zM486 476h4v10h-4zM580 486h2v10h-2zM586 486h2v10h-2zM590 486h4v10h-4zM600 486h4v10h-4zM606 486h2v10h-2zM610 486h2v10h-2zM618 486h4v10h-4zM628 486h2v10h-2zM636 486h2v10h-2z"/>
<path fill="#ff7f00" d="M310 428h2v6h-2zM234 434h2v10.5h-2zM266 434h2v10.5h-2zM146 444.5h2v10.5h-2zM214 444.5h2v10.5h-2zM218 444.5h2v10.5h-2zM230 444.5h2v10.5h-2zM236 444.5h2v10.5h-2zM248 444.5h2v10.5h-2zM264 444.5h2v10.5h-2zM226 455h2v10h-2zM242 455h2v10h-2zM246 455h2v10h-2zM264 455h2v10h-2zM268 455h2v10h-2zM146 465h2v11h-2zM158 465h2v11h-2zM226 465h2v11h-2zM242 465h2v11h-2zM248 465h2v11h-2zM264 465h4v11h-4zM134 476h2v10h-2zM146 476h2v10h-2zM160 476h2v10h-2zM176 476h2v10h-2zM198 476h2v10h-2zM228 476h2v10h-2zM250 476h2v10h-2zM256 476h4v10h-4zM268 476h2v10h-2zM346 476h2v10h-2zM352 476h2v10h-2zM358 476h4v10h-4zM364 476h2v10h-2zM368 476h2v10h-2zM372 476h2v10h-2zM436 476h2v10h-2zM482 476h2v10h-2zM184 486h2v10h-2zM570 486h2v10h-2zM604 486h2v10h-2zM608 486h2v10h-2zM622 486h2v10h-2z"/>
<path fill="#ff6f00" d="M264 434h2v10.5h-2zM268 434h2v10.5h-2zM234 444.5h2v10.5h-2zM242 444.5h2v10.5h-2zM266 444.5h4v10.5h-4zM266 455h2v10h-2zM268 465h2v11h-2zM168 476h2v10h-2zM204 476h4v10h-4zM244 476h2v10h-2zM248 476h2v10h-2zM260 476h2v10h-2zM266 476h2v10h-2zM370 476h2v10h-2zM432 476h4v10h-4zM474 476h2v10h-2zM228 486h2v10h-2zM556 486h2v10h-2zM564 486h2v10h-2zM594 486h2v10h-2zM616 486h2v10h-2zM624 486h2v10h-2z"/>
<path fill="#ff5f00" d="M152 434h2v10.5h-2zM274 434h2v10.5h-2zM274 444.5h2v10.5h-2zM220 455h2v10h-2zM274 455h2v10h-2zM220 465h2v11h-2zM274 465h2v11h-2zM202 476h2v10h-2zM212 476h2v10h-2zM246 476h2v10h-2zM264 476h2v10h-2zM196 486h2v10h-2zM322 486h2v10h-2zM350 486h2v10h-2zM356 486h2v10h-2zM362 486h2v10h-2zM400 486h2v10h-2zM450 486h2v10h-2zM476 486h2v10h-2zM484 486h2v10h-2zM490 486h2v10h-2zM506 486h2v10h-2zM566 486h2v10h-2zM612 486h2v10h-2zM634 486h2v10h-2z"/>
<path fill="#ff5000" d="M154 434h2v10.5h-2zM220 444.5h2v10.5h-2zM272 444.5h2v10.5h-2zM270 465h4v11h-4zM158 476h2v10h-2zM172 476h2v10h-2zM232 476h2v10h-2zM238 476h4v10h-4zM270 476h2v10h-2zM274 476h2v10h-2zM174 486h2v10h-2zM178 486h6v10h-6zM206 486h2v10h-2zM238 486h4v10h-4zM244 486h2v10h-2zM262 486h2v10h-2zM326 486h2v10h-2zM342 486h4v10h-4zM354 486h2v10h-2zM376 486h4v10h-4zM392 486h2v10h-2zM414 486h4v10h-4zM442 486h2v10h-2zM446 486h2v10h-2zM464 486h2v10h-2zM470 486h4v10h-4zM494 486h2v10h-2zM500 486h2v10h-2zM516 486h8v10h-8zM528 486h2v10h-2zM532 486h2v10h-2z"/>
<path fill="#ff4500" d="M148 434h2v10.5h-2zM270 434h4v10.5h-4zM270 444.5h2v10.5h-2zM270 455h4v10h-4zM222 476h6v10h-6zM272 476h2v10h-2zM138 486h2v10h-2zM170 486h2v10h-2zM186 486h8v10h-8zM200 486h2v10h-2zM232 486h2v10h-2zM246 486h2v10h-2zM254 486h2v10h-2zM320 486h2v10h-2zM330 486h4v10h-4zM338 486h2v10h-2zM346 486h2v10h-2zM374 486h2v10h-2zM380 486h4v10h-4zM396 486h4v10h-4zM422 486h2v10h-2zM430 486h2v10h-2zM438 486h4v10h-4zM444 486h2v10h-2zM454 486h6v10h-6zM468 486h2v10h-2zM480 486h2v10h-2zM486 486h2v10h-2zM492 486h2v10h-2zM498 486h2v10h-2zM502 486h2v10h-2zM508 486h4v10h-4zM530 486h2v10h-2zM534 486h4v10h-4zM546 486h2v10h-2zM550 486h4v10h-4zM560 486h2v10h-2zM138 496h2v8h-2z"/>
<path fill="#ff3900" d="M156 434h2v10.5h-2zM276 434h2v10.5h-2zM276 455h2v10h-2zM208 476h4v10h-4zM216 476h4v10h-4zM230 476h2v10h-2zM242 476h2v10h-2zM136 486h2v10h-2zM140 486h2v10h-2zM160 486h2v10h-2zM164 486h4v10h-4zM176 486h2v10h-2zM194 486h2v10h-2zM198 486h2v10h-2zM204 486h2v10h-2zM210 486h4v10h-4zM224 486h4v10h-4zM248 486h2v10h-2zM252 486h2v10h-2zM256 486h4v10h-4zM316 486h2v10h-2zM328 486h2v10h-2zM336 486h2v10h-2zM340 486h2v10h-2zM352 486h2v10h-2zM364 486h4v10h-4zM386 486h2v10h-2zM402 486h2v10h-2zM406 486h6v10h-6zM418 486h2v10h-2zM424 486h6v10h-6zM460 486h2v10h-2zM466 486h2v10h-2zM478 486h2v10h-2zM488 486h2v10h-2zM496 486h2v10h-2zM512 486h4v10h-4zM540 486h4v10h-4zM548 486h2v10h-2zM140 496h2v8h-2zM184 496h2v8h-2zM356 496h2v8h-2zM576 496h2v8h-2z"/>
<path fill="#ff2e00" d="M150 434h2v10.5h-2zM152 444.5h2v10.5h-2zM276 444.5h2v10.5h-2zM152 455h2v10h-2zM276 465h2v11h-2zM214 476h2v10h-2zM236 476h2v10h-2zM276 476h2v10h-2zM134 486h2v10h-2zM162 486h2v10h-2zM208 486h2v10h-2zM222 486h2v10h-2zM230 486h2v10h-2zM236 486h2v10h-2zM242 486h2v10h-2zM250 486h2v10h-2zM260 486h2v10h-2zM264 486h6v10h-6zM318 486h2v10h-2zM324 486h2v10h-2zM334 486h2v10h-2zM348 486h2v10h-2zM358 486h4v10h-4zM368 486h2v10h-2zM372 486h2v10h-2zM384 486h2v10h-2zM390 486h2v10h-2zM412 486h2v10h-2zM420 486h2v10h-2zM436 486h2v10h-2zM448 486h2v10h-2zM462 486h2v10h-2zM474 486h2v10h-2zM504 486h2v10h-2zM526 486h2v10h-2zM544 486h2v10h-2zM558 486h2v10h-2zM562 486h2v10h-2zM134 496h4v8h-4zM484 496h2v8h-2zM556 496h2v8h-2zM632 496h2v8h-2z"/>
<path fill="#ff2200" d="M148 444.5h2v10.5h-2zM154 444.5h2v10.5h-2zM148 455h2v10h-2zM154 455h4v10h-4zM152 465h2v11h-2zM152 476h2v10h-2zM234 476h2v10h-2zM152 486h2v10h-2zM158 486h2v10h-2zM168 486h2v10h-2zM202 486h2v10h-2zM234 486h2v10h-2zM274 486h2v10h-2zM370 486h2v10h-2zM388 486h2v10h-2zM404 486h2v10h-2zM434 486h2v10h-2zM452 486h2v10h-2zM482 486h2v10h-2zM524 486h2v10h-2zM538 486h2v10h-2zM554 486h2v10h-2zM142 496h2v8h-2zM152 496h2v8h-2zM174 496h2v8h-2zM206 496h2v8h-2zM228 496h2v8h-2zM274 496h2v8h-2zM332 496h2v8h-2zM350 496h2v8h-2zM400 496h2v8h-2zM450 496h2v8h-2zM490 496h2v8h-2zM518 496h2v8h-2zM568 496h2v8h-2zM578 496h2v8h-2z"/>
<path fill="#ff1700" d="M286 434h2v10.5h-2zM314 434h2v10.5h-2zM156 444.5h2v10.5h-2zM286 444.5h2v10.5h-2zM150 455h2v10h-2zM296 455h2v10h-2zM314 455h2v10h-2zM278 465h2v11h-2zM286 465h2v11h-2zM296 465h2v11h-2zM308 465h2v11h-2zM154 476h2v10h-2zM220 476h2v10h-2zM286 476h2v10h-2zM296 476h2v10h-2zM314 476h2v10h-2zM142 486h2v10h-2zM148 486h2v10h-2zM270 486h2v10h-2zM296 486h2v10h-2zM314 486h2v10h-2zM394 486h2v10h-2zM432 486h2v10h-2zM154 496h2v8h-2zM178 496h4v8h-4zM212 496h2v8h-2zM240 496h2v8h-2zM262 496h2v8h-2zM276 496h2v8h-2zM314 496h2v8h-2zM322 496h2v8h-2zM342 496h2v8h-2zM362 496h2v8h-2zM376 496h4v8h-4zM392 496h2v8h-2zM446 496h2v8h-2zM464 496h2v8h-2zM470 496h4v8h-4zM476 496h2v8h-2zM506 496h2v8h-2zM516 496h2v8h-2zM522 496h2v8h-2zM528 496h2v8h-2zM532 496h2v8h-2zM574 496h2v8h-2zM582 496h4v8h-4zM596 496h4v8h-4zM614 496h2v8h-2z"/>
<path fill="#ff0b00" d="M278 434h4v10.5h-4zM284 434h2v10.5h-2zM288 434h2v10.5h-2zM296 434h6v10.5h-6zM304 434h2v10.5h-2zM308 434h2v10.5h-2zM312 434h2v10.5h-2zM150 444.5h2v10.5h-2zM278 444.5h2v10.5h-2zM284 444.5h2v10.5h-2zM296 444.5h2v10.5h-2zM300 444.5h6v10.5h-6zM308 444.5h2v10.5h-2zM312 444.5h4v10.5h-4zM278 455h2v10h-2zM284 455h6v10h-6zM292 455h2v10h-2zM298 455h8v10h-8zM312 455h2v10h-2zM148 465h2v11h-2zM154 465h2v11h-2zM280 465h2v11h-2zM284 465h2v11h-2zM298 465h8v11h-8zM312 465h4v11h-4zM148 476h2v10h-2zM278 476h2v10h-2zM284 476h2v10h-2zM288 476h2v10h-2zM292 476h2v10h-2zM298 476h4v10h-4zM308 476h2v10h-2zM312 476h2v10h-2zM144 486h2v10h-2zM150 486h2v10h-2zM154 486h2v10h-2zM172 486h2v10h-2zM216 486h2v10h-2zM272 486h2v10h-2zM276 486h2v10h-2zM284 486h6v10h-6zM298 486h6v10h-6zM312 486h2v10h-2zM144 496h2v8h-2zM148 496h2v8h-2zM182 496h2v8h-2zM186 496h2v8h-2zM190 496h2v8h-2zM196 496h2v8h-2zM200 496h2v8h-2zM216 496h2v8h-2zM222 496h4v8h-4zM232 496h2v8h-2zM238 496h2v8h-2zM244 496h2v8h-2zM254 496h2v8h-2zM284 496h4v8h-4zM296 496h4v8h-4zM306 496h4v8h-4zM312 496h2v8h-2zM326 496h2v8h-2zM354 496h2v8h-2zM366 496h2v8h-2zM382 496h4v8h-4zM402 496h2v8h-2zM406 496h2v8h-2zM414 496h4v8h-4zM430 496h2v8h-2zM440 496h4v8h-4zM454 496h6v8h-6zM468 496h2v8h-2zM478 496h2v8h-2zM492 496h4v8h-4zM546 496h2v8h-2zM550 496h4v8h-4zM560 496h2v8h-2zM564 496h2v8h-2zM572 496h2v8h-2zM586 496h2v8h-2zM626 496h2v8h-2zM630 496h2v8h-2zM636 496h2v8h-2zM642 496h2v8h-2z"/>
<path fill="#ff0000" d="M282 434h2v10.5h-2zM290 434h6v10.5h-6zM302 434h2v10.5h-2zM306 434h2v10.5h-2zM310 434h2v10.5h-2zM280 444.5h4v10.5h-4zM288 444.5h8v10.5h-8zM298 444.5h2v10.5h-2zM306 444.5h2v10.5h-2zM310 444.5h2v10.5h-2zM280 455h4v10h-4zM290 455h2v10h-2zM294 455h2v10h-2zM306 455h6v10h-6zM150 465h2v11h-2zM156 465h2v11h-2zM282 465h2v11h-2zM288 465h8v11h-8zM306 465h2v11h-2zM310 465h2v11h-2zM150 476h2v10h-2zM156 476h2v10h-2zM280 476h4v10h-4zM290 476h2v10h-2zM294 476h2v10h-2zM302 476h6v10h-6zM310 476h2v10h-2zM146 486h2v10h-2zM156 486h2v10h-2zM214 486h2v10h-2zM218 486h4v10h-4zM278 486h6v10h-6zM290 486h6v10h-6zM304 486h8v10h-8zM146 496h2v8h-2zM150 496h2v8h-2zM156 496h18v8h-18zM176 496h2v8h-2zM188 496h2v8h-2zM192 496h4v8h-4zM198 496h2v8h-2zM202 496h4v8h-4zM208 496h4v8h-4zM214 496h2v8h-2zM218 496h4v8h-4zM226 496h2v8h-2zM230 496h2v8h-2zM234 496h4v8h-4zM242 496h2v8h-2zM246 496h8v8h-8zM256 496h6v8h-6zM264 496h10v8h-10zM278 496h6v8h-6zM288 496h8v8h-8zM300 496h6v8h-6zM310 496h2v8h-2zM316 496h6v8h-6zM324 496h2v8h-2zM328 496h4v8h-4zM334 496h8v8h-8zM344 496h6v8h-6zM352 496h2v8h-2zM358 496h4v8h-4zM364 496h2v8h-2zM368 496h8v8h-8zM380 496h2v8h-2zM386 496h6v8h-6zM394 496h6v8h-6zM404 496h2v8h-2zM408 496h6v8h-6zM418 496h12v8h-12zM432 496h8v8h-8zM444 496h2v8h-2zM448 496h2v8h-2zM452 496h2v8h-2zM460 496h4v8h-4zM466 496h2v8h-2zM474 496h2v8h-2zM480 496h4v8h-4zM486 496h4v8h-4zM496 496h10v8h-10zM508 496h8v8h-8zM520 496h2v8h-2zM524 496h4v8h-4zM530 496h2v8h-2zM534 496h12v8h-12zM548 496h2v8h-2zM554 496h2v8h-2zM558 496h2v8h-2zM562 496h2v8h-2zM566 496h2v8h-2zM570 496h2v8h-2zM580 496h2v8h-2zM588 496h8v8h-8zM600 496h14v8h-14zM616 496h10v8h-10zM628 496h2v8h-2zM634 496h2v8h-2zM638 496h4v8h-4z"/></g><rect x="966" y="53" width="13" height="352.5" fill="url(#cb)"/><rect x="966" y="429" width="13" height="75.5" fill="url(#cb)"/><g fill="none" stroke="#000" stroke-width="1" shape-rendering="crispEdges"><rect x="90.5" y="51.5" width="863" height="354"/><rect x="90.5" y="427.5" width="863" height="77"/><path d="M90.5 405.5h-10M90.5 376.5h-5M90.5 359.5h-5M90.5 347.5h-5M90.5 337.5h-5M90.5 329.5h-5M90.5 323.5h-5M90.5 317.5h-5M90.5 312.5h-5M90.5 307.5h-10M90.5 278.5h-5M90.5 261.5h-5M90.5 249.5h-5M90.5 239.5h-5M90.5 231.5h-5M90.5 225.5h-5M90.5 219.5h-5M90.5 214.5h-5M90.5 209.5h-10M90.5 180.5h-5M90.5 163.5h-5M90.5 151.5h-5M90.5 141.5h-5M90.5 133.5h-5M90.5 127.5h-5M90.5 121.5h-5M90.5 116.5h-5M90.5 111.5h-10M90.5 82.5h-5M90.5 65.5h-5M90.5 53.5h-5M90.5 500.5h-4M90.5 492.5h-4M90.5 487.5h-4M90.5 483.5h-4M90.5 480.5h-4M90.5 477.5h-4M90.5 474.5h-4M90.5 472.5h-4M90.5 470.5h-10M90.5 458.5h-4M90.5 450.5h-4M90.5 445.5h-4M90.5 441.5h-4M90.5 438.5h-4M90.5 435.5h-4M90.5 432.5h-4M90.5 430.5h-4M90.5 428.5h-10M93.5 505v4M124.5 505v4M156.5 505v9M187.5 505v4M219.5 505v4M250.5 505v4M281.5 505v9M313.5 505v4M344.5 505v4M376.5 505v4M407.5 505v9M438.5 505v4M470.5 505v4M501.5 505v4M533.5 505v9M564.5 505v4M595.5 505v4M627.5 505v4M658.5 505v9M690.5 505v4M721.5 505v4M752.5 505v4M784.5 505v9M815.5 505v4M847.5 505v4M878.5 505v4M909.5 505v9M941.5 505v4M979.5 405.5h9.5M979.5 369.5h4.5M979.5 334.5h9.5M979.5 299.5h4.5M979.5 263.5h9.5M979.5 228.5h4.5M979.5 193.5h9.5M979.5 157.5h4.5M979.5 122.5h9.5M979.5 87.5h4.5M979.5 52.5h9.5M979.5 504.5h4.5M979.5 496.5h9.5M979.5 489.5h4.5M979.5 481.5h4.5M979.5 474.5h4.5M979.5 466.5h4.5M979.5 458.5h9.5M979.5 451.5h4.5M979.5 443.5h4.5M979.5 436.5h4.5M979.5 428.5h4.5M979.5 52v353.5M979.5 428v76.5"/></g><g font-family="Liberation Sans, sans-serif" fill="#000"><text x="279.2" y="31" text-anchor="start" font-size="13" xml:space="preserve" textLength="484" lengthAdjust="spacing">DE 1/PWI-SFC  Spin Plane E-Field Spectra, 200 meter antenna, 104 Hz to 409 kHz</text>
<text x="459.5" y="44" text-anchor="start" font-size="9" stroke="#000" stroke-width="0.35" textLength="124" lengthAdjust="spacing">(Magenta Line: Fce in Hz)</text>
<text x="282" y="418.7" text-anchor="start" font-size="13" xml:space="preserve" textLength="479" lengthAdjust="spacing">DE 1/PWI-LFC  Spin Plane E-Field Spectra, 200 meter antenna, 1.78 Hz to 100 Hz</text>
<text x="55.8" y="118.8" font-size="13">10<tspan dx="-0.3" dy="-6.5" font-size="13">5</tspan></text>
<text x="55.8" y="216.8" font-size="13">10<tspan dx="-0.3" dy="-6.5" font-size="13">4</tspan></text>
<text x="55.8" y="314.8" font-size="13">10<tspan dx="-0.3" dy="-6.5" font-size="13">3</tspan></text>
<text x="55.8" y="412.8" font-size="13">10<tspan dx="-0.3" dy="-6.5" font-size="13">2</tspan></text>
<text x="55.8" y="435.8" font-size="13">10<tspan dx="-0.3" dy="-6.5" font-size="13">2</tspan></text>
<text x="55.8" y="477.8" font-size="13">10<tspan dx="-0.3" dy="-6.5" font-size="13">1</tspan></text>
<text transform="translate(46.7,228.5) rotate(-90)" text-anchor="middle" font-size="13" textLength="90" lengthAdjust="spacing">Frequency (Hz)</text>
<text transform="translate(46.7,466) rotate(-90)" text-anchor="middle" font-size="13">Freq (Hz)</text>
<text transform="translate(1048.5,228.5) rotate(-90)" text-anchor="middle" font-size="13">Ex (V<tspan dy="-6">2</tspan><tspan dy="6"> m</tspan><tspan dy="-6">-2</tspan><tspan dy="6"> Hz</tspan><tspan dy="-6">-1</tspan><tspan dy="6">)</tspan></text>
<text transform="translate(1041.5,466) rotate(-90)" text-anchor="middle" font-size="13">LFC Ex</text>
<text x="991.8" y="59.5" font-size="13">10<tspan dx="-0.3" dy="-6.5" font-size="13" letter-spacing="-0.45">-6</tspan></text>
<text x="991.8" y="130.1" font-size="13">10<tspan dx="-0.3" dy="-6.5" font-size="13" letter-spacing="-0.45">-8</tspan></text>
<text x="991.8" y="200.7" font-size="13">10<tspan dx="-0.3" dy="-6.5" font-size="13" letter-spacing="-0.45">-10</tspan></text>
<text x="991.8" y="271.3" font-size="13">10<tspan dx="-0.3" dy="-6.5" font-size="13" letter-spacing="-0.45">-12</tspan></text>
<text x="991.8" y="341.9" font-size="13">10<tspan dx="-0.3" dy="-6.5" font-size="13" letter-spacing="-0.45">-14</tspan></text>
<text x="991.8" y="412.5" font-size="13">10<tspan dx="-0.3" dy="-6.5" font-size="13" letter-spacing="-0.45">-16</tspan></text>
<text x="991.8" y="465.8" font-size="13">10<tspan dx="-0.3" dy="-6.5" font-size="13" letter-spacing="-0.45">-10</tspan></text>
<text x="991.8" y="504" font-size="13">10<tspan dx="-0.3" dy="-6.5" font-size="13" letter-spacing="-0.45">-15</tspan></text>
<text x="171.7" y="529.5" text-anchor="end" font-size="13" >12:00</text>
<text x="171.7" y="545.5" text-anchor="end" font-size="13" >1.895</text>
<text x="171.7" y="561.5" text-anchor="end" font-size="13" >10.470</text>
<text x="171.7" y="577.5" text-anchor="end" font-size="13" >22.964</text>
<text x="171.7" y="593.5" text-anchor="end" font-size="13" >64.431</text>
<text x="297.3" y="529.5" text-anchor="end" font-size="13" >13:00</text>
<text x="297.3" y="545.5" text-anchor="end" font-size="13" >3.557</text>
<text x="297.3" y="561.5" text-anchor="end" font-size="13" >20.802</text>
<text x="297.3" y="577.5" text-anchor="end" font-size="13" >14.162</text>
<text x="297.3" y="593.5" text-anchor="end" font-size="13" >66.785</text>
<text x="422.9" y="529.5" text-anchor="end" font-size="13" >14:00</text>
<text x="422.9" y="545.5" text-anchor="end" font-size="13" >4.419</text>
<text x="422.9" y="561.5" text-anchor="end" font-size="13" >10.017</text>
<text x="422.9" y="577.5" text-anchor="end" font-size="13" >13.136</text>
<text x="422.9" y="593.5" text-anchor="end" font-size="13" >49.757</text>
<text x="548.5" y="529.5" text-anchor="end" font-size="13" >15:00</text>
<text x="548.5" y="545.5" text-anchor="end" font-size="13" >4.655</text>
<text x="548.5" y="561.5" text-anchor="end" font-size="13" >7.007</text>
<text x="548.5" y="577.5" text-anchor="end" font-size="13" >12.734</text>
<text x="548.5" y="593.5" text-anchor="end" font-size="13" >36.076</text>
<text x="674.1" y="529.5" text-anchor="end" font-size="13" >16:00</text>
<text x="799.7" y="529.5" text-anchor="end" font-size="13" >17:00</text>
<text x="925.3" y="529.5" text-anchor="end" font-size="13" >18:00</text>
<text x="59.5" y="545.5" text-anchor="end" font-size="13">R<tspan dy="3" font-size="7.5">e</tspan></text>
<text x="59.5" y="561.5" text-anchor="end" font-size="13">L</text>
<text x="59.5" y="577.5" text-anchor="end" font-size="13">M<tspan dy="3" font-size="7.5">LT</tspan></text>
<text x="59.5" y="593.5" text-anchor="end" font-size="13">M<tspan dy="3" font-size="7.5">LAT</tspan></text>
<text x="430" y="611.7" text-anchor="start" font-size="13" textLength="183.5" lengthAdjust="spacing">1984-02-21 (052) 11:29 to 18:20</text></g></svg></body></html>
